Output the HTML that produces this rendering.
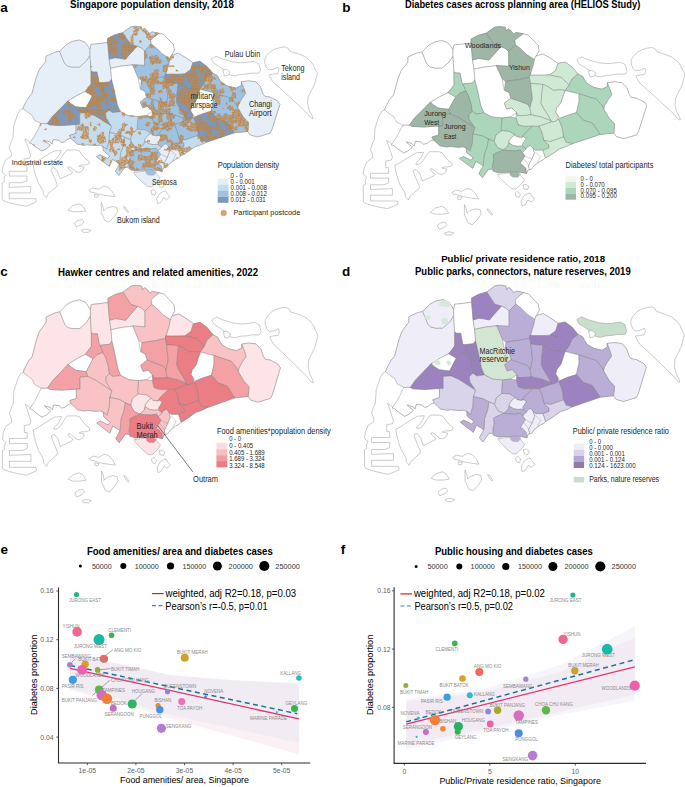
<!DOCTYPE html>
<html><head><meta charset="utf-8"><style>
html,body{margin:0;padding:0;background:#fff;}
svg{display:block;}
text{font-family:"Liberation Sans",sans-serif;}
</style></head><body>
<svg width="685" height="787" viewBox="0 0 685 787">
<rect width="685" height="787" fill="#fff"/>
<g id="mapa" transform="matrix(0.98 0 0 0.989 -353.9 -0.1)"><polygon points="387.6,208.6 379.0,207.1 369.5,204.8 364.3,202.9 363.3,201.0 363.3,185.2 365.7,183.8 365.2,181.9 365.7,179.0 366.7,177.1 363.8,174.8 363.3,173.3 364.3,167.6 366.7,161.9 369.5,160.0 372.9,157.6 372.4,154.3 370.5,149.5 372.4,143.8 374.3,140.0 375.0,128.0 379.0,116.0 381.8,111.3 384.5,110.0 385.8,106.7 390.0,99.0 393.7,94.9 398.0,79.0 401.0,71.0 408.0,62.0 408.0,57.0 417.0,53.0 422.0,52.0 429.0,45.0 435.0,42.0 442.0,40.6 448.0,43.0 451.0,47.0 453.0,50.0 454.0,45.0 464.0,44.0 471.0,43.0 471.0,39.0 478.4,35.3 486.4,33.1 494.4,27.3 498.8,26.6 505.4,27.3 506.1,31.0 508.3,28.8 510.5,30.2 513.4,33.9 516.3,32.4 523.6,33.9 528.0,35.0 533.0,40.0 538.0,45.0 539.0,51.0 536.0,56.0 543.0,54.0 550.0,58.0 556.0,62.0 558.0,63.5 565.0,62.0 572.0,67.0 578.0,74.0 582.8,76.4 584.6,80.0 587.4,83.7 593.8,87.4 602.0,89.2 607.4,86.5 607.4,82.8 614.7,81.9 622.0,82.8 626.6,87.4 629.3,94.7 631.2,97.4 636.6,98.3 644.0,102.0 646.7,105.6 638.5,131.2 636.6,134.8 623.9,138.5 616.6,136.6 613.8,133.0 600.1,134.4 588.3,138.4 572.6,143.6 565.5,146.7 560.0,148.5 554.1,152.7 548.8,156.0 545.3,157.8 543.5,159.5 540.0,161.3 533.9,165.7 531.3,169.2 527.8,170.0 526.5,173.5 521.0,172.2 504.7,172.2 498.9,172.8 493.0,171.0 492.0,169.2 488.5,169.2 482.4,177.5 478.9,173.5 483.3,165.7 475.8,161.3 472.8,168.3 459.6,158.6 463.1,156.5 471.0,160.4 473.2,157.8 466.6,152.5 466.2,148.1 463.1,146.8 458.8,147.3 450.0,146.4 447.0,147.0 439.9,145.8 433.5,140.0 432.9,140.0 429.4,141.2 427.0,143.5 423.5,144.1 421.2,141.8 415.4,141.2 414.2,145.8 411.9,143.5 406.0,141.8 408.4,144.1 412.4,147.0 408.4,150.5 403.7,152.8 400.2,150.5 396.1,147.6 393.2,145.3 389.7,142.3 386.5,140.5 388.6,145.7 390.5,151.4 392.4,157.1 391.4,160.0 385.7,161.0 385.7,167.6 388.6,167.6 388.6,173.3 370.5,173.3 370.5,178.1 388.6,178.1 388.6,182.9 383.8,184.8 370.5,184.8 370.5,189.5 392.4,188.6 392.4,195.2 370.5,195.2 370.5,201.0 397.6,201.0 398.1,204.3 392.4,206.7" fill="#fff" stroke="#999" stroke-width="0.5"/>
<polygon points="402.9,125.0 409.4,125.0 412.0,126.4 423.9,127.0 438.7,126.0 438.7,135.0 432.0,137.0 433.5,140.0 432.9,140.0 429.4,141.2 427.0,143.5 423.5,144.1 421.2,141.8 415.4,141.2 414.2,145.8 411.9,143.5 406.0,141.8 408.4,144.1 412.4,147.0 408.4,150.5 403.7,152.8 400.2,150.5 396.1,147.6 393.2,145.3 391.0,145.0 396.3,137.6" fill="#e6eef8" stroke="#777" stroke-width="0.4"/>
<polygon points="384.5,110.0 385.8,106.7 390.0,99.0 393.7,94.9 398.0,79.0 401.0,71.0 408.0,62.0 408.0,57.0 417.0,53.0 422.0,52.0 424.0,57.0 427.0,64.0 430.0,67.0 435.0,68.0 442.0,68.0 449.0,62.0 453.0,56.0 454.0,72.0 454.0,85.0 450.0,90.3 446.2,93.5 439.6,96.8 431.8,101.4 430.4,102.1 422.6,110.0 414.7,117.8 409.4,125.0 402.9,125.0 396.3,121.8 393.7,116.5 389.7,113.9" fill="#e6eef8" stroke="#777" stroke-width="0.4"/>
<polygon points="422.0,52.0 429.0,45.0 435.0,42.0 442.0,40.6 448.0,43.0 451.0,47.0 453.0,50.0 453.0,56.0 449.0,62.0 442.0,68.0 435.0,68.0 430.0,67.0 427.0,64.0 424.0,57.0" fill="#e6eef8" stroke="#777" stroke-width="0.4"/>
<polygon points="453.0,50.0 454.0,45.0 464.0,44.0 471.0,43.0 472.5,59.4 474.0,68.9 475.0,80.0 473.0,83.0 463.0,84.0 462.0,83.0 460.0,73.0 456.0,73.0 454.0,72.0 453.0,56.0" fill="#e6eef8" stroke="#777" stroke-width="0.4"/>
<polygon points="454.0,72.0 456.0,73.0 460.0,73.0 462.0,83.0 463.0,84.0 466.0,91.0 460.0,93.0 455.5,97.2 452.0,95.0 448.0,92.9 450.0,90.3 454.0,85.0" fill="#7f98b8" stroke="#777" stroke-width="0.4"/>
<polygon points="430.4,102.1 431.8,101.4 439.6,96.8 446.2,93.5 448.0,92.9 452.0,95.0 455.5,97.2 450.4,106.4 448.8,109.3 443.6,108.7 438.3,108.0 433.0,104.7" fill="#ffffff" stroke="#777" stroke-width="0.4"/>
<polygon points="409.4,125.0 414.7,117.8 422.6,110.0 430.4,102.1 433.0,104.7 438.3,108.0 443.6,108.7 448.8,109.3 450.4,114.0 442.5,114.5 442.5,126.0 438.7,126.0 423.9,127.0 412.0,126.4" fill="#7f98b8" stroke="#777" stroke-width="0.4"/>
<polygon points="455.5,97.2 460.0,93.0 466.0,91.0 468.8,96.1 471.4,104.3 472.4,111.5 468.8,114.5 469.3,119.6 475.0,127.8 458.6,117.6 450.4,114.0 448.8,109.3 450.4,106.4" fill="#7f98b8" stroke="#777" stroke-width="0.4"/>
<polygon points="442.5,114.5 450.4,114.0 458.6,117.6 475.0,127.8 472.9,134.0 472.4,143.1 470.1,151.2 466.2,148.1 463.1,146.8 458.8,147.3 450.0,146.4 447.0,147.0 439.9,145.8 433.5,140.0 432.0,137.0 438.7,135.0 438.7,126.0 442.5,126.0" fill="#c4dcef" stroke="#777" stroke-width="0.4"/>
<polygon points="463.0,84.0 473.0,83.0 475.0,80.0 478.0,92.0 481.0,106.0 484.0,113.0 476.0,114.0 472.4,111.5 471.4,104.3 468.8,96.1 466.0,91.0" fill="#7f98b8" stroke="#777" stroke-width="0.4"/>
<polygon points="472.5,60.1 478.4,58.4 483.0,59.0 488.9,60.1 493.5,54.9 501.1,46.7 505.2,48.4 508.7,51.4 508.7,66.3 497.0,65.6 484.2,67.1 474.0,69.2" fill="#e6eef8" stroke="#777" stroke-width="0.4"/>
<polygon points="471.0,43.0 471.0,39.0 478.4,35.3 486.4,33.1 494.4,44.8 501.1,46.7 493.5,54.9 488.9,60.1 483.0,59.0 478.4,58.4 472.5,60.1" fill="#7f98b8" stroke="#777" stroke-width="0.4"/>
<polygon points="486.4,33.1 494.4,27.3 498.8,26.6 505.4,27.3 506.1,31.0 508.3,28.8 510.5,30.2 513.4,33.9 516.3,32.4 523.6,33.9 519.2,36.8 514.9,40.4 515.6,44.8 508.7,51.4 505.2,48.4 501.1,46.7 494.4,44.8" fill="#c4dcef" stroke="#777" stroke-width="0.4"/>
<polygon points="515.6,44.8 520.7,48.5 526.5,54.3 532.4,58.0 534.6,59.4 533.8,63.8 532.4,68.2 530.2,75.5 529.5,77.5 520.0,79.5 512.0,80.5 505.5,81.6 502.0,78.7 496.2,65.8 497.0,65.6 508.7,66.3 508.7,51.4" fill="#9fc2e3" stroke="#777" stroke-width="0.4"/>
<polygon points="505.5,81.6 512.0,80.5 520.0,79.5 529.5,77.5 530.6,83.4 532.4,98.5 530.0,107.9 527.7,104.4 518.4,100.9 510.8,98.5 509.0,92.7 504.3,90.4" fill="#9fc2e3" stroke="#777" stroke-width="0.4"/>
<polygon points="523.6,33.9 528.0,35.0 533.0,40.0 538.0,45.0 539.0,51.0 536.0,56.0 534.6,59.4 532.4,58.0 526.5,54.3 520.7,48.5 515.6,44.8 514.9,40.4 519.2,36.8" fill="#ffffff" stroke="#777" stroke-width="0.4"/>
<polygon points="534.6,59.4 536.0,56.0 543.0,54.0 550.0,58.0 556.0,62.0 558.0,63.5 555.7,70.5 549.9,74.6 541.7,75.2 529.5,75.2 530.2,75.5 532.4,68.2 533.8,63.8" fill="#e6eef8" stroke="#777" stroke-width="0.4"/>
<polygon points="558.0,63.5 565.0,62.0 572.0,67.0 578.0,74.0 572.0,79.0 569.2,85.1 566.2,82.2 561.6,77.5 549.9,75.2 549.9,74.6 555.7,70.5" fill="#7f98b8" stroke="#777" stroke-width="0.4"/>
<polygon points="529.5,75.2 541.7,75.2 549.9,75.2 561.6,77.5 566.2,82.2 569.2,85.1 565.1,90.4 560.4,89.8 553.4,90.4 546.4,85.7 542.9,84.5 530.6,83.4 529.5,77.5" fill="#7f98b8" stroke="#777" stroke-width="0.4"/>
<polygon points="572.0,79.0 578.0,74.0 582.8,76.4 584.6,80.0 587.4,83.7 593.8,87.4 602.0,89.2 607.4,86.5 607.4,82.8 610.0,89.0 612.0,94.7 608.0,100.0 604.7,105.6 603.8,109.3 602.0,105.6 596.5,99.2 587.4,96.5 579.0,93.8 571.0,92.0 565.1,90.4 569.2,85.1" fill="#9fc2e3" stroke="#777" stroke-width="0.4"/>
<polygon points="607.4,82.8 614.7,81.9 622.0,82.8 626.6,87.4 629.3,94.7 631.2,97.4 636.6,98.3 644.0,102.0 646.7,105.6 638.5,131.2 636.6,134.8 623.9,138.5 616.6,136.6 613.8,133.0 614.7,124.0 609.0,118.0 603.8,109.3 604.7,105.6 608.0,100.0 612.0,94.7 610.0,89.0" fill="#e6eef8" stroke="#777" stroke-width="0.4"/>
<polygon points="565.1,90.4 571.0,92.0 579.0,93.8 579.1,101.6 576.5,112.7 567.3,115.4 560.0,118.4 558.1,116.0 555.5,112.1 556.8,107.5 560.7,102.9 563.4,95.0" fill="#ffffff" stroke="#777" stroke-width="0.4"/>
<polygon points="579.0,93.8 587.4,96.5 596.5,99.2 602.0,105.6 603.8,109.3 609.0,118.0 614.7,124.0 613.8,133.0 600.1,134.4 592.3,123.2 583.0,120.0 576.5,112.7 579.1,101.6" fill="#9fc2e3" stroke="#777" stroke-width="0.4"/>
<polygon points="558.1,119.3 560.0,118.4 567.3,115.4 576.5,112.7 583.0,120.0 592.3,123.2 600.1,134.4 588.3,138.4 572.6,143.6 566.0,142.3 563.4,137.0 562.0,127.8 559.4,121.3" fill="#7f98b8" stroke="#777" stroke-width="0.4"/>
<polygon points="474.0,69.2 484.2,67.1 497.0,65.6 496.2,65.8 502.0,78.7 504.3,90.4 509.0,92.7 510.8,98.5 509.0,99.7 504.3,103.2 506.7,109.0 511.8,107.8 516.6,112.7 510.0,117.0 502.0,118.0 492.0,117.0 484.0,113.0 481.0,106.0 478.0,92.0 475.0,80.0" fill="#ffffff" stroke="#777" stroke-width="0.4"/>
<polygon points="504.3,103.2 509.0,99.7 510.8,98.5 518.4,100.9 527.7,104.4 530.0,107.9 531.2,114.9 524.2,115.5 517.2,115.5 516.6,112.7 511.8,107.8 506.7,109.0" fill="#9fc2e3" stroke="#777" stroke-width="0.4"/>
<polygon points="530.6,83.4 542.9,84.5 541.7,95.0 541.1,103.2 544.0,109.0 548.7,116.0 551.0,120.7 541.0,117.0 532.4,114.9 531.2,114.9 530.0,107.9 532.4,98.5" fill="#9fc2e3" stroke="#777" stroke-width="0.4"/>
<polygon points="542.9,84.5 546.4,85.7 553.4,90.4 560.4,89.8 565.1,90.4 563.4,95.0 560.7,102.9 556.8,107.5 555.5,112.1 558.1,116.0 558.1,119.3 555.5,121.3 550.3,122.3 551.0,120.7 548.7,116.0 544.0,109.0 541.1,103.2 541.7,95.0" fill="#7f98b8" stroke="#777" stroke-width="0.4"/>
<polygon points="516.6,112.7 517.2,115.5 524.2,115.5 531.2,114.9 541.0,117.0 551.0,120.7 550.3,122.3 539.0,126.3 523.0,126.3 518.0,124.7 516.0,118.0" fill="#9fc2e3" stroke="#777" stroke-width="0.4"/>
<polygon points="502.0,118.0 510.0,117.0 516.0,118.0 518.0,124.7 523.0,126.3 532.6,126.3 524.6,133.5 521.4,137.6 516.6,136.8 515.2,134.9 509.4,131.4 502.4,130.8 501.3,131.1 501.2,126.7" fill="#9fc2e3" stroke="#777" stroke-width="0.4"/>
<polygon points="469.3,119.6 468.8,114.5 472.4,111.5 476.0,114.0 484.0,113.0 492.0,117.0 502.0,118.0 501.2,126.7 501.3,131.1 496.0,134.9 494.2,141.3 488.4,139.0 482.5,136.0 474.3,134.3 472.9,134.0 475.0,127.8" fill="#c4dcef" stroke="#777" stroke-width="0.4"/>
<polygon points="539.0,126.3 550.3,122.3 555.5,121.3 558.1,119.3 559.4,121.3 562.0,127.8 563.4,137.0 555.5,139.7 550.2,141.6 543.7,140.3 542.0,133.0" fill="#9fc2e3" stroke="#777" stroke-width="0.4"/>
<polygon points="524.6,133.5 532.6,126.3 539.0,126.3 542.0,133.0 543.7,140.3 548.9,144.9 548.8,148.1 542.7,150.3 535.2,150.3 533.0,148.1 530.4,145.5 528.2,146.4 526.0,149.0 522.5,146.4 522.5,144.0 524.5,141.0 526.0,138.5 523.4,136.8 521.4,137.6" fill="#9fc2e3" stroke="#777" stroke-width="0.4"/>
<polygon points="543.7,140.3 550.2,141.6 555.5,139.7 563.4,137.0 566.0,142.3 572.6,143.6 565.5,146.7 560.0,148.5 554.1,152.7 548.8,156.0 545.3,157.8 542.7,150.3 548.8,148.1 548.9,144.9" fill="#c4dcef" stroke="#777" stroke-width="0.4"/>
<polygon points="494.2,141.3 496.0,134.9 501.3,131.1 502.4,130.8 509.4,131.4 515.2,134.9 512.0,137.0 509.0,141.0 508.0,146.0 503.5,150.0 497.7,147.7 494.8,143.0" fill="#c4dcef" stroke="#777" stroke-width="0.4"/>
<polygon points="509.0,141.0 512.0,137.0 515.2,134.9 516.6,136.8 521.4,137.6 523.4,136.8 526.0,138.5 524.5,141.0 522.5,144.0 522.5,146.4 520.3,146.0 518.0,146.4 513.0,145.5 509.0,143.0" fill="#e6eef8" stroke="#777" stroke-width="0.4"/>
<polygon points="503.5,150.0 508.0,146.0 509.0,143.0 513.0,145.5 518.0,146.4 520.3,146.0 522.5,146.4 526.0,149.0 522.5,152.5 520.3,149.9 515.5,150.8 508.2,150.6" fill="#c4dcef" stroke="#777" stroke-width="0.4"/>
<polygon points="493.0,154.7 494.8,153.5 500.0,151.2 503.5,150.0 508.2,150.6 515.5,150.8 520.3,149.9 522.5,152.5 525.1,156.0 523.4,158.6 521.6,161.3 520.3,163.9 522.5,164.8 526.0,168.3 526.5,173.5 521.0,172.2 504.7,172.2 498.9,172.8 493.0,171.0 492.4,165.2 493.6,159.4" fill="#9fc2e3" stroke="#777" stroke-width="0.4"/>
<polygon points="488.4,139.0 494.2,141.3 494.8,143.0 497.7,147.7 503.5,150.0 500.0,151.2 494.8,153.5 493.0,154.7 493.6,159.4 492.4,165.2 492.0,169.2 488.5,169.2 482.4,177.5 478.9,173.5 483.3,165.7 484.0,155.0 487.0,147.0" fill="#c4dcef" stroke="#777" stroke-width="0.4"/>
<polygon points="472.9,134.0 474.3,134.3 482.5,136.0 488.4,139.0 487.0,147.0 484.0,155.0 483.3,165.7 475.8,161.3 472.8,168.3 459.6,158.6 463.1,156.5 471.0,160.4 473.2,157.8 466.6,152.5 466.2,148.1 470.1,151.2 472.4,143.1" fill="#c4dcef" stroke="#777" stroke-width="0.4"/>
<polygon points="522.5,152.5 526.0,149.0 528.2,146.4 530.4,145.5 533.0,148.1 534.5,153.0 532.0,159.0 528.5,165.5 529.5,169.6 527.8,170.0 526.5,173.5 526.0,168.3 522.5,164.8 520.3,163.9 521.6,161.3 523.4,158.6 525.1,156.0" fill="#e6eef8" stroke="#777" stroke-width="0.4"/>
<polygon points="533.0,148.1 535.2,150.3 542.7,150.3 545.3,157.8 543.5,159.5 540.0,161.3 533.9,165.7 531.3,169.2 529.5,169.6 528.5,165.5 532.0,159.0 534.5,153.0" fill="#e6eef8" stroke="#777" stroke-width="0.4"/>
<path d="M481.8 33.8h1.15v1.15h-1.15zM483.8 34.2h1.15v1.15h-1.15zM485.2 33.8h1.15v1.15h-1.15zM480.4 35.6h1.15v1.15h-1.15zM481.9 35.7h1.15v1.15h-1.15zM483.5 35.3h1.15v1.15h-1.15zM484.7 35.6h1.15v1.15h-1.15zM486.1 35.2h1.15v1.15h-1.15zM487.9 35.7h1.15v1.15h-1.15zM473.5 37.2h1.15v1.15h-1.15zM474.4 37.0h1.15v1.15h-1.15zM476.2 37.0h1.15v1.15h-1.15zM483.7 37.2h1.15v1.15h-1.15zM484.8 37.0h1.15v1.15h-1.15zM486.7 37.1h1.15v1.15h-1.15zM487.8 37.1h1.15v1.15h-1.15zM471.9 38.1h1.15v1.15h-1.15zM473.5 38.3h1.15v1.15h-1.15zM474.9 38.6h1.15v1.15h-1.15zM475.9 38.2h1.15v1.15h-1.15zM483.3 38.3h1.15v1.15h-1.15zM485.2 38.6h1.15v1.15h-1.15zM486.3 38.4h1.15v1.15h-1.15zM487.7 38.1h1.15v1.15h-1.15zM470.7 39.5h1.15v1.15h-1.15zM472.0 39.8h1.15v1.15h-1.15zM473.2 40.0h1.15v1.15h-1.15zM474.4 39.5h1.15v1.15h-1.15zM476.2 39.4h1.15v1.15h-1.15zM477.9 39.6h1.15v1.15h-1.15zM478.9 39.5h1.15v1.15h-1.15zM480.7 39.7h1.15v1.15h-1.15zM485.1 39.6h1.15v1.15h-1.15zM486.4 39.6h1.15v1.15h-1.15zM470.5 41.5h1.15v1.15h-1.15zM472.1 41.4h1.15v1.15h-1.15zM473.6 41.2h1.15v1.15h-1.15zM474.9 41.0h1.15v1.15h-1.15zM476.4 41.4h1.15v1.15h-1.15zM477.8 41.0h1.15v1.15h-1.15zM479.4 41.6h1.15v1.15h-1.15zM480.6 41.4h1.15v1.15h-1.15zM489.5 40.9h1.15v1.15h-1.15zM490.9 41.0h1.15v1.15h-1.15zM470.6 42.8h1.15v1.15h-1.15zM471.9 42.9h1.15v1.15h-1.15zM473.4 42.5h1.15v1.15h-1.15zM474.7 42.9h1.15v1.15h-1.15zM476.5 42.5h1.15v1.15h-1.15zM477.9 43.0h1.15v1.15h-1.15zM479.1 42.7h1.15v1.15h-1.15zM480.4 42.7h1.15v1.15h-1.15zM489.3 42.6h1.15v1.15h-1.15zM491.0 43.0h1.15v1.15h-1.15zM492.0 42.7h1.15v1.15h-1.15zM471.7 44.3h1.15v1.15h-1.15zM473.2 44.0h1.15v1.15h-1.15zM474.9 43.8h1.15v1.15h-1.15zM476.4 43.9h1.15v1.15h-1.15zM477.7 44.0h1.15v1.15h-1.15zM478.9 44.1h1.15v1.15h-1.15zM486.4 44.4h1.15v1.15h-1.15zM487.9 44.4h1.15v1.15h-1.15zM489.1 44.3h1.15v1.15h-1.15zM490.9 44.4h1.15v1.15h-1.15zM492.0 44.0h1.15v1.15h-1.15zM472.0 45.2h1.15v1.15h-1.15zM473.1 45.7h1.15v1.15h-1.15zM475.1 45.9h1.15v1.15h-1.15zM476.2 45.8h1.15v1.15h-1.15zM486.6 45.9h1.15v1.15h-1.15zM487.5 45.9h1.15v1.15h-1.15zM489.5 45.5h1.15v1.15h-1.15zM490.7 45.6h1.15v1.15h-1.15zM492.1 45.6h1.15v1.15h-1.15zM493.8 45.8h1.15v1.15h-1.15zM494.9 45.5h1.15v1.15h-1.15zM496.7 45.5h1.15v1.15h-1.15zM472.1 47.1h1.15v1.15h-1.15zM473.3 47.1h1.15v1.15h-1.15zM474.8 47.4h1.15v1.15h-1.15zM476.4 46.9h1.15v1.15h-1.15zM478.0 47.2h1.15v1.15h-1.15zM479.3 47.2h1.15v1.15h-1.15zM484.9 47.2h1.15v1.15h-1.15zM486.1 46.9h1.15v1.15h-1.15zM487.8 46.7h1.15v1.15h-1.15zM489.2 47.1h1.15v1.15h-1.15zM490.8 46.8h1.15v1.15h-1.15zM492.5 47.1h1.15v1.15h-1.15zM493.5 47.1h1.15v1.15h-1.15zM495.1 47.0h1.15v1.15h-1.15zM496.9 47.1h1.15v1.15h-1.15zM498.1 47.2h1.15v1.15h-1.15zM499.8 46.7h1.15v1.15h-1.15zM471.8 48.2h1.15v1.15h-1.15zM473.1 48.4h1.15v1.15h-1.15zM474.5 48.3h1.15v1.15h-1.15zM476.5 48.5h1.15v1.15h-1.15zM477.7 48.8h1.15v1.15h-1.15zM479.2 48.8h1.15v1.15h-1.15zM485.2 48.2h1.15v1.15h-1.15zM486.4 48.2h1.15v1.15h-1.15zM487.8 48.6h1.15v1.15h-1.15zM489.0 48.8h1.15v1.15h-1.15zM490.7 48.5h1.15v1.15h-1.15zM492.2 48.4h1.15v1.15h-1.15zM493.5 48.6h1.15v1.15h-1.15zM495.1 48.3h1.15v1.15h-1.15zM496.7 48.3h1.15v1.15h-1.15zM497.6 48.3h1.15v1.15h-1.15zM471.6 50.3h1.15v1.15h-1.15zM473.6 49.6h1.15v1.15h-1.15zM475.1 49.9h1.15v1.15h-1.15zM476.6 49.7h1.15v1.15h-1.15zM477.7 50.2h1.15v1.15h-1.15zM479.3 49.9h1.15v1.15h-1.15zM484.6 49.9h1.15v1.15h-1.15zM486.3 50.0h1.15v1.15h-1.15zM487.8 49.8h1.15v1.15h-1.15zM489.3 49.9h1.15v1.15h-1.15zM490.7 50.3h1.15v1.15h-1.15zM492.5 50.1h1.15v1.15h-1.15zM493.4 50.2h1.15v1.15h-1.15zM495.3 50.0h1.15v1.15h-1.15zM496.4 50.1h1.15v1.15h-1.15zM472.2 51.6h1.15v1.15h-1.15zM473.0 51.1h1.15v1.15h-1.15zM474.6 51.3h1.15v1.15h-1.15zM476.3 51.1h1.15v1.15h-1.15zM477.7 51.1h1.15v1.15h-1.15zM478.8 51.5h1.15v1.15h-1.15zM485.1 51.6h1.15v1.15h-1.15zM486.1 51.1h1.15v1.15h-1.15zM488.0 51.5h1.15v1.15h-1.15zM489.5 51.2h1.15v1.15h-1.15zM490.7 51.2h1.15v1.15h-1.15zM492.4 51.3h1.15v1.15h-1.15zM493.7 51.7h1.15v1.15h-1.15zM495.0 51.4h1.15v1.15h-1.15zM475.0 52.5h1.15v1.15h-1.15zM476.0 52.9h1.15v1.15h-1.15zM477.4 52.7h1.15v1.15h-1.15zM479.3 53.0h1.15v1.15h-1.15zM485.1 52.9h1.15v1.15h-1.15zM486.7 53.1h1.15v1.15h-1.15zM488.1 52.8h1.15v1.15h-1.15zM489.5 52.7h1.15v1.15h-1.15zM492.5 53.1h1.15v1.15h-1.15zM493.4 52.7h1.15v1.15h-1.15zM476.3 54.5h1.15v1.15h-1.15zM477.4 54.3h1.15v1.15h-1.15zM479.3 54.0h1.15v1.15h-1.15zM484.7 54.1h1.15v1.15h-1.15zM486.6 54.3h1.15v1.15h-1.15zM488.0 54.2h1.15v1.15h-1.15zM492.3 54.4h1.15v1.15h-1.15zM478.0 55.4h1.15v1.15h-1.15zM485.2 55.4h1.15v1.15h-1.15zM486.1 55.5h1.15v1.15h-1.15zM487.6 55.5h1.15v1.15h-1.15zM489.4 55.8h1.15v1.15h-1.15zM486.2 57.4h1.15v1.15h-1.15zM487.8 57.3h1.15v1.15h-1.15zM489.6 57.0h1.15v1.15h-1.15zM488.0 58.4h1.15v1.15h-1.15zM489.2 58.3h1.15v1.15h-1.15zM497.5 27.7h1.15v1.15h-1.15zM498.7 27.5h1.15v1.15h-1.15zM500.0 27.1h1.15v1.15h-1.15zM501.6 27.8h1.15v1.15h-1.15zM503.5 27.6h1.15v1.15h-1.15zM504.5 27.6h1.15v1.15h-1.15zM499.2 29.1h1.15v1.15h-1.15zM500.4 29.1h1.15v1.15h-1.15zM501.6 29.0h1.15v1.15h-1.15zM504.6 28.9h1.15v1.15h-1.15zM507.6 28.7h1.15v1.15h-1.15zM497.7 30.7h1.15v1.15h-1.15zM498.7 30.6h1.15v1.15h-1.15zM500.2 30.4h1.15v1.15h-1.15zM501.5 30.6h1.15v1.15h-1.15zM506.4 30.1h1.15v1.15h-1.15zM507.3 30.5h1.15v1.15h-1.15zM508.9 30.7h1.15v1.15h-1.15zM497.1 31.7h1.15v1.15h-1.15zM499.1 31.6h1.15v1.15h-1.15zM500.2 31.9h1.15v1.15h-1.15zM507.6 31.6h1.15v1.15h-1.15zM509.1 31.9h1.15v1.15h-1.15zM510.4 31.9h1.15v1.15h-1.15zM497.3 33.5h1.15v1.15h-1.15zM498.6 33.6h1.15v1.15h-1.15zM500.4 33.3h1.15v1.15h-1.15zM509.2 33.0h1.15v1.15h-1.15zM510.2 33.4h1.15v1.15h-1.15zM512.2 33.5h1.15v1.15h-1.15zM519.1 33.4h1.15v1.15h-1.15zM520.3 33.1h1.15v1.15h-1.15zM521.8 33.2h1.15v1.15h-1.15zM495.9 35.1h1.15v1.15h-1.15zM497.5 34.4h1.15v1.15h-1.15zM498.8 34.8h1.15v1.15h-1.15zM500.0 34.6h1.15v1.15h-1.15zM510.5 34.5h1.15v1.15h-1.15zM511.7 34.5h1.15v1.15h-1.15zM513.4 34.6h1.15v1.15h-1.15zM518.9 34.9h1.15v1.15h-1.15zM520.5 34.6h1.15v1.15h-1.15zM495.9 35.9h1.15v1.15h-1.15zM510.6 35.9h1.15v1.15h-1.15zM511.7 36.0h1.15v1.15h-1.15zM513.5 36.1h1.15v1.15h-1.15zM514.7 36.4h1.15v1.15h-1.15zM516.1 36.0h1.15v1.15h-1.15zM517.6 36.0h1.15v1.15h-1.15zM518.9 35.8h1.15v1.15h-1.15zM494.4 37.3h1.15v1.15h-1.15zM495.9 37.5h1.15v1.15h-1.15zM510.4 37.3h1.15v1.15h-1.15zM511.9 37.7h1.15v1.15h-1.15zM513.3 37.5h1.15v1.15h-1.15zM514.5 37.5h1.15v1.15h-1.15zM516.5 37.7h1.15v1.15h-1.15zM494.4 39.0h1.15v1.15h-1.15zM496.3 38.8h1.15v1.15h-1.15zM512.1 39.2h1.15v1.15h-1.15zM513.7 39.3h1.15v1.15h-1.15zM514.6 39.2h1.15v1.15h-1.15zM494.8 40.2h1.15v1.15h-1.15zM495.8 40.5h1.15v1.15h-1.15zM503.5 40.8h1.15v1.15h-1.15zM493.3 42.2h1.15v1.15h-1.15zM494.4 41.9h1.15v1.15h-1.15zM496.1 42.2h1.15v1.15h-1.15zM503.5 41.8h1.15v1.15h-1.15zM504.4 41.9h1.15v1.15h-1.15zM494.7 43.3h1.15v1.15h-1.15zM496.0 43.1h1.15v1.15h-1.15zM496.2 44.7h1.15v1.15h-1.15zM513.6 45.1h1.15v1.15h-1.15zM514.7 44.5h1.15v1.15h-1.15zM514.7 45.9h1.15v1.15h-1.15zM516.0 45.4h1.15v1.15h-1.15zM514.2 47.3h1.15v1.15h-1.15zM515.7 47.2h1.15v1.15h-1.15zM517.2 47.0h1.15v1.15h-1.15zM508.8 51.6h1.15v1.15h-1.15zM508.7 52.6h1.15v1.15h-1.15zM508.4 54.4h1.15v1.15h-1.15zM510.2 54.6h1.15v1.15h-1.15zM508.9 56.1h1.15v1.15h-1.15zM509.9 55.8h1.15v1.15h-1.15zM515.7 56.1h1.15v1.15h-1.15zM519.0 55.7h1.15v1.15h-1.15zM520.3 55.8h1.15v1.15h-1.15zM508.9 57.6h1.15v1.15h-1.15zM510.4 57.4h1.15v1.15h-1.15zM513.2 57.5h1.15v1.15h-1.15zM514.2 57.5h1.15v1.15h-1.15zM515.8 57.1h1.15v1.15h-1.15zM517.7 56.9h1.15v1.15h-1.15zM518.8 57.2h1.15v1.15h-1.15zM520.5 57.4h1.15v1.15h-1.15zM522.0 57.6h1.15v1.15h-1.15zM530.8 57.4h1.15v1.15h-1.15zM531.6 57.4h1.15v1.15h-1.15zM508.5 58.8h1.15v1.15h-1.15zM513.3 58.8h1.15v1.15h-1.15zM514.8 58.9h1.15v1.15h-1.15zM515.8 58.6h1.15v1.15h-1.15zM517.4 58.7h1.15v1.15h-1.15zM519.1 58.7h1.15v1.15h-1.15zM520.3 58.9h1.15v1.15h-1.15zM521.5 58.8h1.15v1.15h-1.15zM530.7 58.5h1.15v1.15h-1.15zM531.8 58.9h1.15v1.15h-1.15zM533.5 58.8h1.15v1.15h-1.15zM514.3 60.3h1.15v1.15h-1.15zM515.9 59.9h1.15v1.15h-1.15zM517.3 60.2h1.15v1.15h-1.15zM519.0 60.1h1.15v1.15h-1.15zM520.4 60.3h1.15v1.15h-1.15zM521.8 59.9h1.15v1.15h-1.15zM523.3 59.9h1.15v1.15h-1.15zM524.3 60.2h1.15v1.15h-1.15zM531.9 60.0h1.15v1.15h-1.15zM533.7 59.9h1.15v1.15h-1.15zM514.7 61.6h1.15v1.15h-1.15zM516.0 61.8h1.15v1.15h-1.15zM517.2 61.8h1.15v1.15h-1.15zM519.1 61.7h1.15v1.15h-1.15zM520.4 61.6h1.15v1.15h-1.15zM521.8 61.4h1.15v1.15h-1.15zM523.4 61.7h1.15v1.15h-1.15zM525.0 61.5h1.15v1.15h-1.15zM532.2 61.4h1.15v1.15h-1.15zM514.4 63.1h1.15v1.15h-1.15zM516.3 63.1h1.15v1.15h-1.15zM517.3 63.3h1.15v1.15h-1.15zM518.5 62.9h1.15v1.15h-1.15zM520.4 63.2h1.15v1.15h-1.15zM521.6 62.9h1.15v1.15h-1.15zM523.1 63.1h1.15v1.15h-1.15zM524.3 63.0h1.15v1.15h-1.15zM516.1 64.3h1.15v1.15h-1.15zM531.5 64.7h1.15v1.15h-1.15zM498.4 66.0h1.15v1.15h-1.15zM499.9 65.9h1.15v1.15h-1.15zM527.7 66.1h1.15v1.15h-1.15zM529.1 65.9h1.15v1.15h-1.15zM530.4 66.0h1.15v1.15h-1.15zM532.1 66.3h1.15v1.15h-1.15zM498.8 67.4h1.15v1.15h-1.15zM527.3 67.4h1.15v1.15h-1.15zM529.3 67.3h1.15v1.15h-1.15zM530.7 67.2h1.15v1.15h-1.15zM527.8 68.5h1.15v1.15h-1.15zM528.8 68.9h1.15v1.15h-1.15zM530.7 69.0h1.15v1.15h-1.15zM518.5 70.6h1.15v1.15h-1.15zM520.3 70.2h1.15v1.15h-1.15zM521.8 70.6h1.15v1.15h-1.15zM527.2 70.2h1.15v1.15h-1.15zM528.8 70.5h1.15v1.15h-1.15zM530.6 70.5h1.15v1.15h-1.15zM518.5 71.7h1.15v1.15h-1.15zM520.1 72.1h1.15v1.15h-1.15zM521.8 71.5h1.15v1.15h-1.15zM527.5 71.6h1.15v1.15h-1.15zM529.1 71.7h1.15v1.15h-1.15zM530.2 72.0h1.15v1.15h-1.15zM516.0 73.4h1.15v1.15h-1.15zM517.6 73.3h1.15v1.15h-1.15zM518.9 73.5h1.15v1.15h-1.15zM520.4 73.6h1.15v1.15h-1.15zM521.6 73.4h1.15v1.15h-1.15zM514.2 74.4h1.15v1.15h-1.15zM516.2 74.8h1.15v1.15h-1.15zM517.1 74.8h1.15v1.15h-1.15zM518.6 74.6h1.15v1.15h-1.15zM520.3 74.4h1.15v1.15h-1.15zM522.0 74.6h1.15v1.15h-1.15zM514.4 75.9h1.15v1.15h-1.15zM516.3 76.2h1.15v1.15h-1.15zM517.5 76.2h1.15v1.15h-1.15zM518.9 76.3h1.15v1.15h-1.15zM520.4 76.4h1.15v1.15h-1.15zM521.7 76.2h1.15v1.15h-1.15zM504.2 77.5h1.15v1.15h-1.15zM505.6 77.7h1.15v1.15h-1.15zM506.9 77.7h1.15v1.15h-1.15zM508.9 77.5h1.15v1.15h-1.15zM509.9 77.3h1.15v1.15h-1.15zM514.4 77.6h1.15v1.15h-1.15zM515.8 77.2h1.15v1.15h-1.15zM517.3 77.5h1.15v1.15h-1.15zM519.2 77.5h1.15v1.15h-1.15zM520.6 77.8h1.15v1.15h-1.15zM521.8 77.3h1.15v1.15h-1.15zM504.2 79.0h1.15v1.15h-1.15zM505.8 79.1h1.15v1.15h-1.15zM507.1 79.2h1.15v1.15h-1.15zM508.6 79.3h1.15v1.15h-1.15zM510.2 78.7h1.15v1.15h-1.15zM514.5 79.1h1.15v1.15h-1.15zM515.9 79.0h1.15v1.15h-1.15zM517.2 79.0h1.15v1.15h-1.15zM520.0 78.8h1.15v1.15h-1.15zM505.5 80.2h1.15v1.15h-1.15zM507.1 80.4h1.15v1.15h-1.15zM508.3 80.2h1.15v1.15h-1.15zM528.1 78.4h1.15v1.15h-1.15zM512.7 79.8h1.15v1.15h-1.15zM513.5 79.8h1.15v1.15h-1.15zM515.2 79.5h1.15v1.15h-1.15zM517.0 80.1h1.15v1.15h-1.15zM518.0 79.8h1.15v1.15h-1.15zM519.5 79.9h1.15v1.15h-1.15zM520.9 79.7h1.15v1.15h-1.15zM528.2 79.6h1.15v1.15h-1.15zM506.4 81.4h1.15v1.15h-1.15zM508.3 81.0h1.15v1.15h-1.15zM509.3 81.1h1.15v1.15h-1.15zM511.2 81.6h1.15v1.15h-1.15zM512.3 81.0h1.15v1.15h-1.15zM514.2 81.6h1.15v1.15h-1.15zM515.5 81.3h1.15v1.15h-1.15zM516.9 81.5h1.15v1.15h-1.15zM518.2 81.1h1.15v1.15h-1.15zM519.7 81.4h1.15v1.15h-1.15zM521.0 81.4h1.15v1.15h-1.15zM522.3 81.6h1.15v1.15h-1.15zM527.2 81.5h1.15v1.15h-1.15zM528.6 81.5h1.15v1.15h-1.15zM504.9 82.9h1.15v1.15h-1.15zM509.6 82.8h1.15v1.15h-1.15zM511.1 82.6h1.15v1.15h-1.15zM512.5 82.4h1.15v1.15h-1.15zM514.2 82.9h1.15v1.15h-1.15zM515.5 82.7h1.15v1.15h-1.15zM516.6 82.7h1.15v1.15h-1.15zM518.4 82.8h1.15v1.15h-1.15zM519.4 82.4h1.15v1.15h-1.15zM521.1 82.5h1.15v1.15h-1.15zM522.4 82.5h1.15v1.15h-1.15zM524.0 82.9h1.15v1.15h-1.15zM525.8 82.8h1.15v1.15h-1.15zM526.6 83.0h1.15v1.15h-1.15zM528.5 82.9h1.15v1.15h-1.15zM529.9 82.6h1.15v1.15h-1.15zM505.3 84.2h1.15v1.15h-1.15zM511.1 84.4h1.15v1.15h-1.15zM512.5 84.1h1.15v1.15h-1.15zM514.1 84.3h1.15v1.15h-1.15zM515.7 84.2h1.15v1.15h-1.15zM517.0 84.4h1.15v1.15h-1.15zM518.2 84.5h1.15v1.15h-1.15zM519.6 83.8h1.15v1.15h-1.15zM521.0 84.1h1.15v1.15h-1.15zM522.5 84.0h1.15v1.15h-1.15zM524.2 83.9h1.15v1.15h-1.15zM525.3 84.1h1.15v1.15h-1.15zM527.0 84.1h1.15v1.15h-1.15zM528.6 84.1h1.15v1.15h-1.15zM530.2 84.0h1.15v1.15h-1.15zM511.2 85.8h1.15v1.15h-1.15zM512.6 85.7h1.15v1.15h-1.15zM514.1 85.8h1.15v1.15h-1.15zM515.0 85.4h1.15v1.15h-1.15zM516.9 85.9h1.15v1.15h-1.15zM526.6 85.7h1.15v1.15h-1.15zM528.2 85.4h1.15v1.15h-1.15zM529.7 85.7h1.15v1.15h-1.15zM512.6 87.1h1.15v1.15h-1.15zM513.5 87.3h1.15v1.15h-1.15zM515.0 87.3h1.15v1.15h-1.15zM517.0 87.1h1.15v1.15h-1.15zM527.0 87.0h1.15v1.15h-1.15zM528.4 86.9h1.15v1.15h-1.15zM529.7 87.3h1.15v1.15h-1.15zM513.9 88.5h1.15v1.15h-1.15zM515.2 88.8h1.15v1.15h-1.15zM516.6 88.8h1.15v1.15h-1.15zM517.9 88.2h1.15v1.15h-1.15zM527.2 88.6h1.15v1.15h-1.15zM528.1 88.4h1.15v1.15h-1.15zM530.1 88.2h1.15v1.15h-1.15zM513.7 89.9h1.15v1.15h-1.15zM515.5 89.6h1.15v1.15h-1.15zM516.8 90.0h1.15v1.15h-1.15zM518.4 90.3h1.15v1.15h-1.15zM514.1 91.7h1.15v1.15h-1.15zM515.1 91.3h1.15v1.15h-1.15zM516.5 91.4h1.15v1.15h-1.15zM517.9 91.7h1.15v1.15h-1.15zM522.8 91.7h1.15v1.15h-1.15zM524.2 91.2h1.15v1.15h-1.15zM525.4 91.1h1.15v1.15h-1.15zM513.8 92.6h1.15v1.15h-1.15zM515.5 92.9h1.15v1.15h-1.15zM516.7 92.6h1.15v1.15h-1.15zM517.9 92.6h1.15v1.15h-1.15zM522.8 92.9h1.15v1.15h-1.15zM523.8 92.7h1.15v1.15h-1.15zM525.7 92.9h1.15v1.15h-1.15zM510.6 94.4h1.15v1.15h-1.15zM512.2 94.4h1.15v1.15h-1.15zM514.2 94.5h1.15v1.15h-1.15zM515.2 94.4h1.15v1.15h-1.15zM516.6 94.5h1.15v1.15h-1.15zM518.1 94.6h1.15v1.15h-1.15zM509.6 95.6h1.15v1.15h-1.15zM511.1 96.0h1.15v1.15h-1.15zM512.2 95.4h1.15v1.15h-1.15zM513.8 95.7h1.15v1.15h-1.15zM511.1 97.3h1.15v1.15h-1.15zM512.8 97.3h1.15v1.15h-1.15zM514.1 97.1h1.15v1.15h-1.15zM524.0 98.7h1.15v1.15h-1.15zM524.4 99.8h1.15v1.15h-1.15zM525.2 100.3h1.15v1.15h-1.15zM523.9 101.9h1.15v1.15h-1.15zM525.4 101.6h1.15v1.15h-1.15zM525.6 102.9h1.15v1.15h-1.15zM526.9 102.9h1.15v1.15h-1.15zM528.3 103.2h1.15v1.15h-1.15zM529.5 103.0h1.15v1.15h-1.15zM528.1 104.3h1.15v1.15h-1.15zM529.8 104.5h1.15v1.15h-1.15zM528.5 105.8h1.15v1.15h-1.15zM454.8 73.1h1.15v1.15h-1.15zM454.8 74.1h1.15v1.15h-1.15zM454.7 76.0h1.15v1.15h-1.15zM454.5 77.0h1.15v1.15h-1.15zM455.8 77.2h1.15v1.15h-1.15zM460.2 77.0h1.15v1.15h-1.15zM455.0 79.0h1.15v1.15h-1.15zM456.2 78.8h1.15v1.15h-1.15zM457.6 78.7h1.15v1.15h-1.15zM458.8 78.8h1.15v1.15h-1.15zM460.4 78.8h1.15v1.15h-1.15zM454.6 80.2h1.15v1.15h-1.15zM456.1 80.2h1.15v1.15h-1.15zM457.5 80.2h1.15v1.15h-1.15zM459.0 80.1h1.15v1.15h-1.15zM460.5 79.8h1.15v1.15h-1.15zM454.9 81.6h1.15v1.15h-1.15zM456.3 81.3h1.15v1.15h-1.15zM457.7 81.9h1.15v1.15h-1.15zM459.1 81.6h1.15v1.15h-1.15zM460.5 81.5h1.15v1.15h-1.15zM456.2 83.1h1.15v1.15h-1.15zM457.4 83.3h1.15v1.15h-1.15zM459.0 83.0h1.15v1.15h-1.15zM460.8 83.1h1.15v1.15h-1.15zM461.9 83.2h1.15v1.15h-1.15zM454.6 84.7h1.15v1.15h-1.15zM455.9 84.2h1.15v1.15h-1.15zM457.8 84.7h1.15v1.15h-1.15zM458.8 84.7h1.15v1.15h-1.15zM460.1 84.2h1.15v1.15h-1.15zM461.8 84.8h1.15v1.15h-1.15zM453.5 86.1h1.15v1.15h-1.15zM454.7 86.3h1.15v1.15h-1.15zM456.1 85.9h1.15v1.15h-1.15zM457.7 86.1h1.15v1.15h-1.15zM459.1 86.2h1.15v1.15h-1.15zM460.3 86.2h1.15v1.15h-1.15zM462.2 85.8h1.15v1.15h-1.15zM463.0 86.0h1.15v1.15h-1.15zM451.6 87.2h1.15v1.15h-1.15zM453.1 87.5h1.15v1.15h-1.15zM454.7 87.2h1.15v1.15h-1.15zM455.8 87.6h1.15v1.15h-1.15zM457.8 87.6h1.15v1.15h-1.15zM459.2 87.1h1.15v1.15h-1.15zM463.2 87.0h1.15v1.15h-1.15zM450.3 88.7h1.15v1.15h-1.15zM451.5 88.8h1.15v1.15h-1.15zM453.1 88.9h1.15v1.15h-1.15zM454.5 88.9h1.15v1.15h-1.15zM456.0 89.0h1.15v1.15h-1.15zM457.4 88.9h1.15v1.15h-1.15zM463.5 88.6h1.15v1.15h-1.15zM464.6 88.5h1.15v1.15h-1.15zM449.2 90.5h1.15v1.15h-1.15zM450.3 90.2h1.15v1.15h-1.15zM451.6 90.0h1.15v1.15h-1.15zM453.0 90.5h1.15v1.15h-1.15zM454.5 89.9h1.15v1.15h-1.15zM456.5 90.2h1.15v1.15h-1.15zM463.3 90.4h1.15v1.15h-1.15zM464.5 90.0h1.15v1.15h-1.15zM448.9 91.4h1.15v1.15h-1.15zM450.5 91.7h1.15v1.15h-1.15zM452.0 91.8h1.15v1.15h-1.15zM453.3 91.5h1.15v1.15h-1.15zM454.4 91.4h1.15v1.15h-1.15zM456.1 91.6h1.15v1.15h-1.15zM450.2 93.5h1.15v1.15h-1.15zM451.6 93.1h1.15v1.15h-1.15zM452.9 93.2h1.15v1.15h-1.15zM454.4 92.9h1.15v1.15h-1.15zM456.1 93.2h1.15v1.15h-1.15zM457.4 93.2h1.15v1.15h-1.15zM453.0 94.4h1.15v1.15h-1.15zM454.7 94.4h1.15v1.15h-1.15zM455.8 94.8h1.15v1.15h-1.15zM454.5 95.7h1.15v1.15h-1.15zM464.3 92.0h1.15v1.15h-1.15zM465.9 92.0h1.15v1.15h-1.15zM464.3 93.0h1.15v1.15h-1.15zM465.3 93.2h1.15v1.15h-1.15zM458.4 94.5h1.15v1.15h-1.15zM460.0 94.9h1.15v1.15h-1.15zM463.9 94.6h1.15v1.15h-1.15zM465.6 94.8h1.15v1.15h-1.15zM467.2 95.1h1.15v1.15h-1.15zM457.0 95.9h1.15v1.15h-1.15zM458.2 96.1h1.15v1.15h-1.15zM459.6 96.5h1.15v1.15h-1.15zM462.5 96.0h1.15v1.15h-1.15zM464.0 96.2h1.15v1.15h-1.15zM465.9 96.5h1.15v1.15h-1.15zM466.7 95.9h1.15v1.15h-1.15zM468.4 96.2h1.15v1.15h-1.15zM454.4 97.8h1.15v1.15h-1.15zM455.3 97.4h1.15v1.15h-1.15zM457.0 97.7h1.15v1.15h-1.15zM458.6 98.0h1.15v1.15h-1.15zM460.0 97.5h1.15v1.15h-1.15zM461.6 97.8h1.15v1.15h-1.15zM462.4 97.5h1.15v1.15h-1.15zM464.5 97.9h1.15v1.15h-1.15zM465.8 97.8h1.15v1.15h-1.15zM466.7 98.0h1.15v1.15h-1.15zM468.4 97.9h1.15v1.15h-1.15zM453.9 99.3h1.15v1.15h-1.15zM455.3 98.8h1.15v1.15h-1.15zM456.9 99.2h1.15v1.15h-1.15zM458.1 99.0h1.15v1.15h-1.15zM459.9 99.3h1.15v1.15h-1.15zM461.2 99.5h1.15v1.15h-1.15zM462.6 99.3h1.15v1.15h-1.15zM463.9 99.4h1.15v1.15h-1.15zM465.7 98.9h1.15v1.15h-1.15zM467.3 99.4h1.15v1.15h-1.15zM454.0 100.8h1.15v1.15h-1.15zM455.6 100.7h1.15v1.15h-1.15zM456.9 100.9h1.15v1.15h-1.15zM458.5 100.8h1.15v1.15h-1.15zM459.8 100.4h1.15v1.15h-1.15zM461.3 100.8h1.15v1.15h-1.15zM463.1 100.9h1.15v1.15h-1.15zM464.5 100.7h1.15v1.15h-1.15zM465.8 100.3h1.15v1.15h-1.15zM467.1 100.3h1.15v1.15h-1.15zM452.4 102.2h1.15v1.15h-1.15zM453.9 101.9h1.15v1.15h-1.15zM455.4 101.9h1.15v1.15h-1.15zM457.1 101.7h1.15v1.15h-1.15zM458.4 102.2h1.15v1.15h-1.15zM459.7 102.2h1.15v1.15h-1.15zM461.2 102.1h1.15v1.15h-1.15zM462.4 101.9h1.15v1.15h-1.15zM464.2 102.1h1.15v1.15h-1.15zM465.6 101.7h1.15v1.15h-1.15zM451.5 103.8h1.15v1.15h-1.15zM452.7 103.6h1.15v1.15h-1.15zM453.9 103.2h1.15v1.15h-1.15zM455.4 103.3h1.15v1.15h-1.15zM457.0 103.6h1.15v1.15h-1.15zM458.5 103.8h1.15v1.15h-1.15zM459.5 103.3h1.15v1.15h-1.15zM461.0 103.4h1.15v1.15h-1.15zM463.0 103.5h1.15v1.15h-1.15zM468.6 103.6h1.15v1.15h-1.15zM469.6 103.4h1.15v1.15h-1.15zM450.8 104.7h1.15v1.15h-1.15zM452.6 105.3h1.15v1.15h-1.15zM454.2 105.0h1.15v1.15h-1.15zM455.3 104.9h1.15v1.15h-1.15zM456.6 104.9h1.15v1.15h-1.15zM458.0 104.7h1.15v1.15h-1.15zM459.7 104.9h1.15v1.15h-1.15zM461.1 104.6h1.15v1.15h-1.15zM462.5 105.2h1.15v1.15h-1.15zM468.9 105.2h1.15v1.15h-1.15zM470.2 104.8h1.15v1.15h-1.15zM449.7 106.0h1.15v1.15h-1.15zM451.1 106.6h1.15v1.15h-1.15zM452.7 106.4h1.15v1.15h-1.15zM454.3 106.6h1.15v1.15h-1.15zM455.3 106.5h1.15v1.15h-1.15zM457.2 106.0h1.15v1.15h-1.15zM458.7 106.3h1.15v1.15h-1.15zM460.1 106.0h1.15v1.15h-1.15zM461.1 106.2h1.15v1.15h-1.15zM462.5 106.5h1.15v1.15h-1.15zM470.3 106.6h1.15v1.15h-1.15zM449.3 108.0h1.15v1.15h-1.15zM451.3 107.6h1.15v1.15h-1.15zM460.1 107.6h1.15v1.15h-1.15zM461.4 107.9h1.15v1.15h-1.15zM463.0 107.8h1.15v1.15h-1.15zM448.4 108.9h1.15v1.15h-1.15zM449.9 108.9h1.15v1.15h-1.15zM451.0 109.2h1.15v1.15h-1.15zM460.0 109.2h1.15v1.15h-1.15zM461.3 109.5h1.15v1.15h-1.15zM462.9 109.1h1.15v1.15h-1.15zM449.5 111.0h1.15v1.15h-1.15zM451.1 110.7h1.15v1.15h-1.15zM452.9 110.9h1.15v1.15h-1.15zM454.3 110.7h1.15v1.15h-1.15zM455.2 110.6h1.15v1.15h-1.15zM456.6 110.7h1.15v1.15h-1.15zM458.3 110.7h1.15v1.15h-1.15zM460.2 110.7h1.15v1.15h-1.15zM461.0 110.5h1.15v1.15h-1.15zM462.9 110.7h1.15v1.15h-1.15zM464.1 110.7h1.15v1.15h-1.15zM465.6 110.8h1.15v1.15h-1.15zM468.5 110.6h1.15v1.15h-1.15zM470.0 110.7h1.15v1.15h-1.15zM471.6 111.1h1.15v1.15h-1.15zM449.6 112.2h1.15v1.15h-1.15zM451.0 112.4h1.15v1.15h-1.15zM452.6 112.5h1.15v1.15h-1.15zM453.7 112.2h1.15v1.15h-1.15zM455.4 112.2h1.15v1.15h-1.15zM457.0 112.2h1.15v1.15h-1.15zM458.7 112.1h1.15v1.15h-1.15zM459.7 112.3h1.15v1.15h-1.15zM461.3 112.0h1.15v1.15h-1.15zM463.0 112.0h1.15v1.15h-1.15zM463.9 112.2h1.15v1.15h-1.15zM465.9 112.4h1.15v1.15h-1.15zM467.3 112.3h1.15v1.15h-1.15zM468.5 112.0h1.15v1.15h-1.15zM469.7 112.1h1.15v1.15h-1.15zM451.3 113.6h1.15v1.15h-1.15zM452.7 113.6h1.15v1.15h-1.15zM454.1 113.9h1.15v1.15h-1.15zM455.5 113.5h1.15v1.15h-1.15zM457.1 113.7h1.15v1.15h-1.15zM458.1 113.6h1.15v1.15h-1.15zM459.9 113.4h1.15v1.15h-1.15zM461.1 113.5h1.15v1.15h-1.15zM462.6 113.7h1.15v1.15h-1.15zM464.3 113.7h1.15v1.15h-1.15zM465.8 113.5h1.15v1.15h-1.15zM467.2 113.4h1.15v1.15h-1.15zM454.1 114.8h1.15v1.15h-1.15zM455.2 115.0h1.15v1.15h-1.15zM459.8 115.1h1.15v1.15h-1.15zM461.6 114.8h1.15v1.15h-1.15zM462.6 115.2h1.15v1.15h-1.15zM464.1 115.0h1.15v1.15h-1.15zM467.0 115.1h1.15v1.15h-1.15zM468.3 115.4h1.15v1.15h-1.15zM460.0 116.5h1.15v1.15h-1.15zM461.1 116.8h1.15v1.15h-1.15zM462.5 116.4h1.15v1.15h-1.15zM461.1 118.0h1.15v1.15h-1.15zM462.6 118.0h1.15v1.15h-1.15zM468.5 118.2h1.15v1.15h-1.15zM467.3 119.5h1.15v1.15h-1.15zM468.3 119.6h1.15v1.15h-1.15zM465.6 121.2h1.15v1.15h-1.15zM467.1 120.9h1.15v1.15h-1.15zM468.4 120.8h1.15v1.15h-1.15zM469.8 120.8h1.15v1.15h-1.15zM467.1 122.3h1.15v1.15h-1.15zM468.6 122.2h1.15v1.15h-1.15zM469.9 122.0h1.15v1.15h-1.15zM462.7 83.6h1.15v1.15h-1.15zM464.0 83.8h1.15v1.15h-1.15zM465.3 83.5h1.15v1.15h-1.15zM467.1 84.1h1.15v1.15h-1.15zM468.4 83.8h1.15v1.15h-1.15zM469.4 83.6h1.15v1.15h-1.15zM471.0 83.5h1.15v1.15h-1.15zM463.8 84.9h1.15v1.15h-1.15zM465.3 85.4h1.15v1.15h-1.15zM466.9 84.9h1.15v1.15h-1.15zM468.5 84.9h1.15v1.15h-1.15zM469.7 85.0h1.15v1.15h-1.15zM471.0 85.0h1.15v1.15h-1.15zM465.4 86.5h1.15v1.15h-1.15zM466.9 86.7h1.15v1.15h-1.15zM468.2 86.8h1.15v1.15h-1.15zM465.1 88.2h1.15v1.15h-1.15zM466.5 87.9h1.15v1.15h-1.15zM465.4 89.3h1.15v1.15h-1.15zM466.5 89.3h1.15v1.15h-1.15zM475.3 89.9h1.15v1.15h-1.15zM466.4 90.9h1.15v1.15h-1.15zM475.5 91.2h1.15v1.15h-1.15zM477.0 91.0h1.15v1.15h-1.15zM466.9 92.3h1.15v1.15h-1.15zM475.7 92.3h1.15v1.15h-1.15zM476.7 92.4h1.15v1.15h-1.15zM467.9 94.1h1.15v1.15h-1.15zM476.7 93.9h1.15v1.15h-1.15zM468.2 95.2h1.15v1.15h-1.15zM469.6 95.2h1.15v1.15h-1.15zM470.9 95.2h1.15v1.15h-1.15zM469.5 96.9h1.15v1.15h-1.15zM471.4 96.6h1.15v1.15h-1.15zM474.4 98.6h1.15v1.15h-1.15zM475.3 98.4h1.15v1.15h-1.15zM476.7 98.2h1.15v1.15h-1.15zM478.4 98.1h1.15v1.15h-1.15zM472.7 99.6h1.15v1.15h-1.15zM474.0 99.8h1.15v1.15h-1.15zM475.8 99.5h1.15v1.15h-1.15zM477.1 99.4h1.15v1.15h-1.15zM478.1 99.9h1.15v1.15h-1.15zM472.6 101.3h1.15v1.15h-1.15zM474.2 101.1h1.15v1.15h-1.15zM475.4 100.9h1.15v1.15h-1.15zM477.0 101.1h1.15v1.15h-1.15zM478.6 100.9h1.15v1.15h-1.15zM476.9 108.7h1.15v1.15h-1.15zM478.4 108.5h1.15v1.15h-1.15zM478.1 109.6h1.15v1.15h-1.15zM481.3 111.4h1.15v1.15h-1.15zM482.8 111.2h1.15v1.15h-1.15zM430.3 103.1h1.15v1.15h-1.15zM430.7 104.5h1.15v1.15h-1.15zM431.7 104.6h1.15v1.15h-1.15zM430.6 105.6h1.15v1.15h-1.15zM431.8 106.0h1.15v1.15h-1.15zM433.3 105.6h1.15v1.15h-1.15zM435.0 106.2h1.15v1.15h-1.15zM432.4 107.0h1.15v1.15h-1.15zM439.5 108.6h1.15v1.15h-1.15zM441.0 108.5h1.15v1.15h-1.15zM442.2 108.6h1.15v1.15h-1.15zM443.7 108.6h1.15v1.15h-1.15zM445.1 108.6h1.15v1.15h-1.15zM446.2 108.5h1.15v1.15h-1.15zM448.2 108.7h1.15v1.15h-1.15zM427.8 110.4h1.15v1.15h-1.15zM429.3 110.4h1.15v1.15h-1.15zM432.1 110.1h1.15v1.15h-1.15zM439.6 110.3h1.15v1.15h-1.15zM440.6 110.5h1.15v1.15h-1.15zM442.3 110.5h1.15v1.15h-1.15zM443.9 110.3h1.15v1.15h-1.15zM445.1 110.2h1.15v1.15h-1.15zM446.4 110.5h1.15v1.15h-1.15zM447.7 110.6h1.15v1.15h-1.15zM420.4 111.4h1.15v1.15h-1.15zM426.5 111.5h1.15v1.15h-1.15zM427.3 111.4h1.15v1.15h-1.15zM429.3 111.5h1.15v1.15h-1.15zM430.8 111.6h1.15v1.15h-1.15zM431.7 111.9h1.15v1.15h-1.15zM433.4 111.4h1.15v1.15h-1.15zM442.5 111.7h1.15v1.15h-1.15zM443.8 111.5h1.15v1.15h-1.15zM444.9 111.7h1.15v1.15h-1.15zM446.9 112.0h1.15v1.15h-1.15zM447.8 111.8h1.15v1.15h-1.15zM419.3 113.4h1.15v1.15h-1.15zM420.1 113.3h1.15v1.15h-1.15zM426.0 113.0h1.15v1.15h-1.15zM427.8 113.4h1.15v1.15h-1.15zM429.5 113.4h1.15v1.15h-1.15zM430.5 113.1h1.15v1.15h-1.15zM432.0 112.8h1.15v1.15h-1.15zM433.4 113.4h1.15v1.15h-1.15zM442.4 113.2h1.15v1.15h-1.15zM443.7 113.2h1.15v1.15h-1.15zM445.4 113.1h1.15v1.15h-1.15zM446.6 113.1h1.15v1.15h-1.15zM447.9 113.5h1.15v1.15h-1.15zM449.5 113.1h1.15v1.15h-1.15zM418.9 114.4h1.15v1.15h-1.15zM426.3 114.3h1.15v1.15h-1.15zM427.4 114.8h1.15v1.15h-1.15zM429.2 114.4h1.15v1.15h-1.15zM430.8 114.4h1.15v1.15h-1.15zM432.0 114.8h1.15v1.15h-1.15zM433.7 114.4h1.15v1.15h-1.15zM416.1 115.9h1.15v1.15h-1.15zM430.9 115.7h1.15v1.15h-1.15zM431.9 116.2h1.15v1.15h-1.15zM433.6 115.8h1.15v1.15h-1.15zM435.2 116.0h1.15v1.15h-1.15zM436.6 116.0h1.15v1.15h-1.15zM414.4 117.6h1.15v1.15h-1.15zM416.3 117.4h1.15v1.15h-1.15zM417.4 117.6h1.15v1.15h-1.15zM430.3 117.3h1.15v1.15h-1.15zM432.2 117.2h1.15v1.15h-1.15zM433.7 117.2h1.15v1.15h-1.15zM434.6 117.7h1.15v1.15h-1.15zM436.1 117.6h1.15v1.15h-1.15zM414.5 118.6h1.15v1.15h-1.15zM416.4 119.3h1.15v1.15h-1.15zM417.5 118.9h1.15v1.15h-1.15zM419.0 119.2h1.15v1.15h-1.15zM430.9 118.9h1.15v1.15h-1.15zM432.1 119.1h1.15v1.15h-1.15zM433.3 119.1h1.15v1.15h-1.15zM414.6 120.5h1.15v1.15h-1.15zM416.0 120.7h1.15v1.15h-1.15zM417.6 120.3h1.15v1.15h-1.15zM418.9 120.2h1.15v1.15h-1.15zM420.1 120.4h1.15v1.15h-1.15zM430.6 120.0h1.15v1.15h-1.15zM432.1 120.3h1.15v1.15h-1.15zM433.3 120.2h1.15v1.15h-1.15zM414.8 122.0h1.15v1.15h-1.15zM416.2 122.0h1.15v1.15h-1.15zM417.6 122.0h1.15v1.15h-1.15zM419.1 121.6h1.15v1.15h-1.15zM420.5 121.5h1.15v1.15h-1.15zM430.9 122.1h1.15v1.15h-1.15zM431.8 121.9h1.15v1.15h-1.15zM433.3 121.7h1.15v1.15h-1.15zM413.5 123.4h1.15v1.15h-1.15zM414.3 123.1h1.15v1.15h-1.15zM415.8 123.5h1.15v1.15h-1.15zM417.2 123.5h1.15v1.15h-1.15zM419.2 123.5h1.15v1.15h-1.15zM420.4 123.2h1.15v1.15h-1.15zM410.2 124.6h1.15v1.15h-1.15zM412.0 124.7h1.15v1.15h-1.15zM412.9 124.8h1.15v1.15h-1.15zM414.6 124.5h1.15v1.15h-1.15zM416.3 124.5h1.15v1.15h-1.15zM417.3 124.7h1.15v1.15h-1.15zM418.8 124.6h1.15v1.15h-1.15zM420.4 125.0h1.15v1.15h-1.15zM417.5 126.1h1.15v1.15h-1.15zM420.6 126.1h1.15v1.15h-1.15zM448.7 113.6h1.15v1.15h-1.15zM447.5 114.7h1.15v1.15h-1.15zM449.0 115.2h1.15v1.15h-1.15zM450.3 115.0h1.15v1.15h-1.15zM451.8 115.2h1.15v1.15h-1.15zM447.3 116.5h1.15v1.15h-1.15zM448.9 116.5h1.15v1.15h-1.15zM450.5 116.1h1.15v1.15h-1.15zM451.5 116.4h1.15v1.15h-1.15zM453.1 116.2h1.15v1.15h-1.15zM447.7 118.1h1.15v1.15h-1.15zM448.9 118.1h1.15v1.15h-1.15zM450.3 117.6h1.15v1.15h-1.15zM451.7 117.6h1.15v1.15h-1.15zM448.7 119.1h1.15v1.15h-1.15zM453.2 123.4h1.15v1.15h-1.15zM444.4 125.0h1.15v1.15h-1.15zM452.8 125.2h1.15v1.15h-1.15zM460.6 125.4h1.15v1.15h-1.15zM462.1 124.9h1.15v1.15h-1.15zM443.3 126.4h1.15v1.15h-1.15zM444.5 126.5h1.15v1.15h-1.15zM445.6 126.1h1.15v1.15h-1.15zM453.3 126.3h1.15v1.15h-1.15zM462.2 126.2h1.15v1.15h-1.15zM440.3 128.0h1.15v1.15h-1.15zM441.2 127.7h1.15v1.15h-1.15zM442.9 128.2h1.15v1.15h-1.15zM444.6 127.8h1.15v1.15h-1.15zM446.0 127.8h1.15v1.15h-1.15zM447.7 128.1h1.15v1.15h-1.15zM449.1 127.8h1.15v1.15h-1.15zM450.0 128.1h1.15v1.15h-1.15zM457.3 127.6h1.15v1.15h-1.15zM440.2 129.5h1.15v1.15h-1.15zM441.7 129.1h1.15v1.15h-1.15zM443.3 129.6h1.15v1.15h-1.15zM444.6 129.0h1.15v1.15h-1.15zM445.8 129.2h1.15v1.15h-1.15zM447.6 129.2h1.15v1.15h-1.15zM448.8 129.2h1.15v1.15h-1.15zM450.4 129.1h1.15v1.15h-1.15zM456.2 129.6h1.15v1.15h-1.15zM457.3 129.1h1.15v1.15h-1.15zM458.9 129.0h1.15v1.15h-1.15zM439.8 130.6h1.15v1.15h-1.15zM441.6 130.6h1.15v1.15h-1.15zM443.3 131.1h1.15v1.15h-1.15zM444.2 130.6h1.15v1.15h-1.15zM446.1 130.9h1.15v1.15h-1.15zM447.7 130.6h1.15v1.15h-1.15zM448.5 131.1h1.15v1.15h-1.15zM450.5 130.5h1.15v1.15h-1.15zM456.2 131.1h1.15v1.15h-1.15zM457.7 130.9h1.15v1.15h-1.15zM445.6 132.6h1.15v1.15h-1.15zM447.5 132.0h1.15v1.15h-1.15zM448.6 132.5h1.15v1.15h-1.15zM450.6 132.0h1.15v1.15h-1.15zM446.2 133.6h1.15v1.15h-1.15zM447.1 133.7h1.15v1.15h-1.15zM449.0 133.6h1.15v1.15h-1.15zM450.5 134.0h1.15v1.15h-1.15zM465.0 133.5h1.15v1.15h-1.15zM466.0 133.8h1.15v1.15h-1.15zM444.7 135.2h1.15v1.15h-1.15zM445.8 135.3h1.15v1.15h-1.15zM447.6 135.3h1.15v1.15h-1.15zM448.9 134.9h1.15v1.15h-1.15zM450.4 135.2h1.15v1.15h-1.15zM463.0 135.3h1.15v1.15h-1.15zM464.9 135.0h1.15v1.15h-1.15zM465.9 135.0h1.15v1.15h-1.15zM444.5 136.9h1.15v1.15h-1.15zM445.6 136.7h1.15v1.15h-1.15zM447.3 136.5h1.15v1.15h-1.15zM448.6 136.6h1.15v1.15h-1.15zM450.0 136.7h1.15v1.15h-1.15zM460.2 136.9h1.15v1.15h-1.15zM461.8 136.6h1.15v1.15h-1.15zM463.0 136.6h1.15v1.15h-1.15zM464.6 137.0h1.15v1.15h-1.15zM465.9 136.5h1.15v1.15h-1.15zM435.9 138.3h1.15v1.15h-1.15zM437.1 138.3h1.15v1.15h-1.15zM443.0 138.2h1.15v1.15h-1.15zM444.1 138.2h1.15v1.15h-1.15zM445.9 138.1h1.15v1.15h-1.15zM447.1 138.1h1.15v1.15h-1.15zM449.1 137.9h1.15v1.15h-1.15zM450.4 137.9h1.15v1.15h-1.15zM460.5 137.9h1.15v1.15h-1.15zM461.6 137.9h1.15v1.15h-1.15zM463.3 138.0h1.15v1.15h-1.15zM465.0 137.9h1.15v1.15h-1.15zM466.3 138.4h1.15v1.15h-1.15zM467.5 138.0h1.15v1.15h-1.15zM444.7 139.2h1.15v1.15h-1.15zM445.9 139.3h1.15v1.15h-1.15zM447.5 139.7h1.15v1.15h-1.15zM449.0 139.4h1.15v1.15h-1.15zM450.6 139.2h1.15v1.15h-1.15zM460.4 139.8h1.15v1.15h-1.15zM461.7 139.5h1.15v1.15h-1.15zM463.5 139.4h1.15v1.15h-1.15zM464.7 139.2h1.15v1.15h-1.15zM466.5 139.5h1.15v1.15h-1.15zM467.7 139.3h1.15v1.15h-1.15zM451.7 141.1h1.15v1.15h-1.15zM453.5 141.1h1.15v1.15h-1.15zM460.4 141.0h1.15v1.15h-1.15zM461.7 140.7h1.15v1.15h-1.15zM463.3 141.0h1.15v1.15h-1.15zM464.9 140.9h1.15v1.15h-1.15zM466.1 141.3h1.15v1.15h-1.15zM468.0 140.8h1.15v1.15h-1.15zM451.9 142.3h1.15v1.15h-1.15zM453.3 142.2h1.15v1.15h-1.15zM460.4 142.2h1.15v1.15h-1.15zM461.5 142.4h1.15v1.15h-1.15zM463.4 142.4h1.15v1.15h-1.15zM464.5 142.4h1.15v1.15h-1.15zM465.9 142.1h1.15v1.15h-1.15zM467.9 142.7h1.15v1.15h-1.15zM453.0 143.5h1.15v1.15h-1.15zM461.8 143.8h1.15v1.15h-1.15zM463.2 144.0h1.15v1.15h-1.15zM464.6 143.7h1.15v1.15h-1.15zM466.2 143.5h1.15v1.15h-1.15zM444.3 145.0h1.15v1.15h-1.15zM445.6 145.1h1.15v1.15h-1.15zM456.1 145.6h1.15v1.15h-1.15zM457.8 145.5h1.15v1.15h-1.15zM402.2 124.7h1.15v1.15h-1.15zM401.7 126.1h1.15v1.15h-1.15zM406.6 130.5h1.15v1.15h-1.15zM407.6 130.0h1.15v1.15h-1.15zM404.9 142.1h1.15v1.15h-1.15zM406.6 143.1h1.15v1.15h-1.15zM395.1 146.1h1.15v1.15h-1.15zM534.5 74.9h1.15v1.15h-1.15zM536.3 74.8h1.15v1.15h-1.15zM537.7 74.9h1.15v1.15h-1.15zM547.7 74.9h1.15v1.15h-1.15zM549.1 74.8h1.15v1.15h-1.15zM550.8 74.9h1.15v1.15h-1.15zM534.4 76.3h1.15v1.15h-1.15zM536.2 76.1h1.15v1.15h-1.15zM537.8 76.4h1.15v1.15h-1.15zM539.1 76.1h1.15v1.15h-1.15zM540.4 75.8h1.15v1.15h-1.15zM542.2 75.9h1.15v1.15h-1.15zM543.1 76.2h1.15v1.15h-1.15zM547.4 75.9h1.15v1.15h-1.15zM549.1 76.0h1.15v1.15h-1.15zM550.4 76.4h1.15v1.15h-1.15zM552.2 75.8h1.15v1.15h-1.15zM553.6 76.2h1.15v1.15h-1.15zM554.7 75.8h1.15v1.15h-1.15zM534.4 77.5h1.15v1.15h-1.15zM535.8 77.8h1.15v1.15h-1.15zM537.8 77.3h1.15v1.15h-1.15zM539.0 77.7h1.15v1.15h-1.15zM540.4 77.6h1.15v1.15h-1.15zM541.7 77.5h1.15v1.15h-1.15zM543.1 77.8h1.15v1.15h-1.15zM545.1 77.5h1.15v1.15h-1.15zM546.7 77.3h1.15v1.15h-1.15zM548.1 77.6h1.15v1.15h-1.15zM552.0 77.2h1.15v1.15h-1.15zM553.8 77.5h1.15v1.15h-1.15zM555.1 77.4h1.15v1.15h-1.15zM556.6 77.4h1.15v1.15h-1.15zM558.1 77.6h1.15v1.15h-1.15zM559.6 77.5h1.15v1.15h-1.15zM560.9 77.4h1.15v1.15h-1.15zM530.2 79.0h1.15v1.15h-1.15zM531.5 79.3h1.15v1.15h-1.15zM534.9 79.2h1.15v1.15h-1.15zM536.2 78.9h1.15v1.15h-1.15zM537.6 78.8h1.15v1.15h-1.15zM539.3 78.7h1.15v1.15h-1.15zM540.6 78.9h1.15v1.15h-1.15zM542.2 78.9h1.15v1.15h-1.15zM543.5 79.1h1.15v1.15h-1.15zM544.7 79.3h1.15v1.15h-1.15zM546.4 78.8h1.15v1.15h-1.15zM547.6 79.3h1.15v1.15h-1.15zM552.1 79.1h1.15v1.15h-1.15zM553.4 79.0h1.15v1.15h-1.15zM555.4 78.8h1.15v1.15h-1.15zM556.3 79.1h1.15v1.15h-1.15zM558.1 79.1h1.15v1.15h-1.15zM559.5 79.0h1.15v1.15h-1.15zM561.1 79.2h1.15v1.15h-1.15zM562.0 78.7h1.15v1.15h-1.15zM530.5 80.7h1.15v1.15h-1.15zM531.9 80.5h1.15v1.15h-1.15zM533.0 80.5h1.15v1.15h-1.15zM535.0 80.7h1.15v1.15h-1.15zM536.0 80.1h1.15v1.15h-1.15zM537.4 80.7h1.15v1.15h-1.15zM539.2 80.7h1.15v1.15h-1.15zM540.6 80.2h1.15v1.15h-1.15zM542.0 80.6h1.15v1.15h-1.15zM543.5 80.7h1.15v1.15h-1.15zM544.7 80.3h1.15v1.15h-1.15zM546.6 80.3h1.15v1.15h-1.15zM547.7 80.6h1.15v1.15h-1.15zM551.9 80.7h1.15v1.15h-1.15zM553.6 80.1h1.15v1.15h-1.15zM554.9 80.7h1.15v1.15h-1.15zM556.2 80.5h1.15v1.15h-1.15zM558.1 80.6h1.15v1.15h-1.15zM559.1 80.6h1.15v1.15h-1.15zM561.1 80.3h1.15v1.15h-1.15zM562.6 80.2h1.15v1.15h-1.15zM563.6 80.3h1.15v1.15h-1.15zM530.7 82.2h1.15v1.15h-1.15zM531.6 82.1h1.15v1.15h-1.15zM533.3 81.6h1.15v1.15h-1.15zM534.6 81.6h1.15v1.15h-1.15zM535.9 81.7h1.15v1.15h-1.15zM537.3 81.7h1.15v1.15h-1.15zM539.0 81.8h1.15v1.15h-1.15zM542.3 81.6h1.15v1.15h-1.15zM543.4 82.2h1.15v1.15h-1.15zM544.7 81.6h1.15v1.15h-1.15zM546.3 81.9h1.15v1.15h-1.15zM547.8 81.7h1.15v1.15h-1.15zM553.8 81.7h1.15v1.15h-1.15zM554.8 82.1h1.15v1.15h-1.15zM556.6 81.7h1.15v1.15h-1.15zM558.0 81.7h1.15v1.15h-1.15zM559.1 82.2h1.15v1.15h-1.15zM560.9 82.0h1.15v1.15h-1.15zM562.0 81.5h1.15v1.15h-1.15zM563.9 81.9h1.15v1.15h-1.15zM534.5 83.0h1.15v1.15h-1.15zM536.2 83.1h1.15v1.15h-1.15zM537.8 83.2h1.15v1.15h-1.15zM539.2 83.3h1.15v1.15h-1.15zM543.4 83.1h1.15v1.15h-1.15zM545.1 83.7h1.15v1.15h-1.15zM546.0 83.4h1.15v1.15h-1.15zM547.5 83.1h1.15v1.15h-1.15zM555.4 83.6h1.15v1.15h-1.15zM556.8 83.0h1.15v1.15h-1.15zM558.1 83.2h1.15v1.15h-1.15zM559.7 83.1h1.15v1.15h-1.15zM560.8 83.4h1.15v1.15h-1.15zM562.3 83.7h1.15v1.15h-1.15zM564.0 83.5h1.15v1.15h-1.15zM546.4 84.8h1.15v1.15h-1.15zM547.7 84.6h1.15v1.15h-1.15zM556.4 84.7h1.15v1.15h-1.15zM557.9 84.4h1.15v1.15h-1.15zM559.1 85.1h1.15v1.15h-1.15zM561.1 84.7h1.15v1.15h-1.15zM562.1 84.6h1.15v1.15h-1.15zM563.4 84.7h1.15v1.15h-1.15zM556.8 86.1h1.15v1.15h-1.15zM558.1 86.4h1.15v1.15h-1.15zM559.2 86.0h1.15v1.15h-1.15zM561.1 86.3h1.15v1.15h-1.15zM562.1 86.4h1.15v1.15h-1.15zM563.7 86.4h1.15v1.15h-1.15zM565.1 86.5h1.15v1.15h-1.15zM556.7 87.4h1.15v1.15h-1.15zM557.7 87.8h1.15v1.15h-1.15zM559.6 87.8h1.15v1.15h-1.15zM561.1 87.5h1.15v1.15h-1.15zM562.2 88.0h1.15v1.15h-1.15zM563.5 87.5h1.15v1.15h-1.15zM565.0 87.9h1.15v1.15h-1.15zM556.5 89.3h1.15v1.15h-1.15zM557.9 89.3h1.15v1.15h-1.15zM559.6 89.1h1.15v1.15h-1.15zM560.9 89.3h1.15v1.15h-1.15zM562.2 89.3h1.15v1.15h-1.15zM564.0 89.1h1.15v1.15h-1.15zM564.9 89.0h1.15v1.15h-1.15zM559.6 65.8h1.15v1.15h-1.15zM560.6 65.6h1.15v1.15h-1.15zM562.2 65.9h1.15v1.15h-1.15zM564.0 66.1h1.15v1.15h-1.15zM565.0 65.7h1.15v1.15h-1.15zM566.8 66.0h1.15v1.15h-1.15zM556.9 66.9h1.15v1.15h-1.15zM557.9 67.5h1.15v1.15h-1.15zM559.7 67.0h1.15v1.15h-1.15zM561.2 67.5h1.15v1.15h-1.15zM562.7 67.4h1.15v1.15h-1.15zM563.5 66.9h1.15v1.15h-1.15zM565.6 67.2h1.15v1.15h-1.15zM566.6 67.4h1.15v1.15h-1.15zM568.2 67.1h1.15v1.15h-1.15zM569.6 67.2h1.15v1.15h-1.15zM556.6 68.7h1.15v1.15h-1.15zM557.9 68.6h1.15v1.15h-1.15zM559.2 68.4h1.15v1.15h-1.15zM561.0 68.9h1.15v1.15h-1.15zM562.1 68.6h1.15v1.15h-1.15zM563.9 68.9h1.15v1.15h-1.15zM565.1 68.6h1.15v1.15h-1.15zM566.7 69.0h1.15v1.15h-1.15zM567.9 68.9h1.15v1.15h-1.15zM569.8 68.5h1.15v1.15h-1.15zM571.1 68.6h1.15v1.15h-1.15zM572.2 68.6h1.15v1.15h-1.15zM556.6 70.3h1.15v1.15h-1.15zM558.0 70.4h1.15v1.15h-1.15zM559.4 69.9h1.15v1.15h-1.15zM563.5 69.8h1.15v1.15h-1.15zM565.5 70.1h1.15v1.15h-1.15zM566.5 70.2h1.15v1.15h-1.15zM567.8 69.8h1.15v1.15h-1.15zM569.6 70.0h1.15v1.15h-1.15zM570.9 69.8h1.15v1.15h-1.15zM572.5 70.0h1.15v1.15h-1.15zM574.1 70.4h1.15v1.15h-1.15zM556.7 71.4h1.15v1.15h-1.15zM557.8 71.9h1.15v1.15h-1.15zM559.7 71.5h1.15v1.15h-1.15zM564.9 71.9h1.15v1.15h-1.15zM567.1 71.7h1.15v1.15h-1.15zM568.3 71.4h1.15v1.15h-1.15zM569.9 71.7h1.15v1.15h-1.15zM571.4 71.9h1.15v1.15h-1.15zM572.5 71.2h1.15v1.15h-1.15zM574.1 71.3h1.15v1.15h-1.15zM575.4 71.3h1.15v1.15h-1.15zM555.4 73.3h1.15v1.15h-1.15zM556.3 73.0h1.15v1.15h-1.15zM558.2 73.0h1.15v1.15h-1.15zM559.4 73.3h1.15v1.15h-1.15zM560.6 73.1h1.15v1.15h-1.15zM565.2 72.9h1.15v1.15h-1.15zM566.7 73.0h1.15v1.15h-1.15zM568.1 72.9h1.15v1.15h-1.15zM569.8 72.8h1.15v1.15h-1.15zM570.9 72.9h1.15v1.15h-1.15zM572.5 73.0h1.15v1.15h-1.15zM574.1 73.0h1.15v1.15h-1.15zM575.7 73.1h1.15v1.15h-1.15zM576.7 73.4h1.15v1.15h-1.15zM550.6 74.3h1.15v1.15h-1.15zM552.2 74.6h1.15v1.15h-1.15zM554.9 74.5h1.15v1.15h-1.15zM556.7 74.8h1.15v1.15h-1.15zM558.2 74.4h1.15v1.15h-1.15zM559.7 74.6h1.15v1.15h-1.15zM560.7 74.1h1.15v1.15h-1.15zM569.6 74.7h1.15v1.15h-1.15zM571.4 74.3h1.15v1.15h-1.15zM572.3 74.3h1.15v1.15h-1.15zM573.9 74.1h1.15v1.15h-1.15zM575.4 74.4h1.15v1.15h-1.15zM556.7 75.7h1.15v1.15h-1.15zM557.8 76.1h1.15v1.15h-1.15zM559.5 75.9h1.15v1.15h-1.15zM561.1 75.7h1.15v1.15h-1.15zM569.7 75.7h1.15v1.15h-1.15zM571.1 76.1h1.15v1.15h-1.15zM572.2 75.8h1.15v1.15h-1.15zM574.0 76.2h1.15v1.15h-1.15zM562.6 77.3h1.15v1.15h-1.15zM563.7 77.3h1.15v1.15h-1.15zM569.7 77.1h1.15v1.15h-1.15zM570.8 77.4h1.15v1.15h-1.15zM563.7 78.6h1.15v1.15h-1.15zM567.8 78.9h1.15v1.15h-1.15zM569.3 79.0h1.15v1.15h-1.15zM571.2 78.7h1.15v1.15h-1.15zM568.1 80.3h1.15v1.15h-1.15zM569.7 80.5h1.15v1.15h-1.15zM569.3 81.5h1.15v1.15h-1.15zM545.1 85.6h1.15v1.15h-1.15zM546.1 85.6h1.15v1.15h-1.15zM548.0 88.2h1.15v1.15h-1.15zM549.1 88.3h1.15v1.15h-1.15zM545.1 90.1h1.15v1.15h-1.15zM546.2 89.6h1.15v1.15h-1.15zM548.1 89.7h1.15v1.15h-1.15zM548.9 89.6h1.15v1.15h-1.15zM550.8 89.5h1.15v1.15h-1.15zM556.3 89.7h1.15v1.15h-1.15zM558.1 89.4h1.15v1.15h-1.15zM559.3 89.8h1.15v1.15h-1.15zM561.2 89.7h1.15v1.15h-1.15zM562.5 90.0h1.15v1.15h-1.15zM545.0 91.4h1.15v1.15h-1.15zM546.1 90.9h1.15v1.15h-1.15zM547.4 91.2h1.15v1.15h-1.15zM549.1 91.3h1.15v1.15h-1.15zM550.9 91.1h1.15v1.15h-1.15zM552.0 91.2h1.15v1.15h-1.15zM553.8 91.4h1.15v1.15h-1.15zM555.2 91.3h1.15v1.15h-1.15zM556.6 90.8h1.15v1.15h-1.15zM558.1 90.8h1.15v1.15h-1.15zM559.0 91.0h1.15v1.15h-1.15zM560.7 91.4h1.15v1.15h-1.15zM562.4 91.0h1.15v1.15h-1.15zM564.1 90.8h1.15v1.15h-1.15zM543.6 92.7h1.15v1.15h-1.15zM544.8 92.4h1.15v1.15h-1.15zM546.1 92.5h1.15v1.15h-1.15zM547.7 92.4h1.15v1.15h-1.15zM549.2 92.5h1.15v1.15h-1.15zM550.8 92.5h1.15v1.15h-1.15zM551.9 92.3h1.15v1.15h-1.15zM553.5 92.6h1.15v1.15h-1.15zM554.9 92.7h1.15v1.15h-1.15zM556.4 92.7h1.15v1.15h-1.15zM558.2 92.3h1.15v1.15h-1.15zM559.1 92.7h1.15v1.15h-1.15zM561.1 92.7h1.15v1.15h-1.15zM562.5 92.6h1.15v1.15h-1.15zM543.6 94.1h1.15v1.15h-1.15zM545.2 94.1h1.15v1.15h-1.15zM546.3 94.0h1.15v1.15h-1.15zM548.0 93.9h1.15v1.15h-1.15zM548.9 94.4h1.15v1.15h-1.15zM551.0 94.0h1.15v1.15h-1.15zM551.9 94.0h1.15v1.15h-1.15zM553.4 94.0h1.15v1.15h-1.15zM555.1 94.0h1.15v1.15h-1.15zM556.5 94.0h1.15v1.15h-1.15zM558.1 94.0h1.15v1.15h-1.15zM559.2 94.0h1.15v1.15h-1.15zM560.8 94.2h1.15v1.15h-1.15zM562.6 94.0h1.15v1.15h-1.15zM543.2 95.5h1.15v1.15h-1.15zM544.7 95.8h1.15v1.15h-1.15zM546.3 95.8h1.15v1.15h-1.15zM548.0 95.6h1.15v1.15h-1.15zM548.9 95.7h1.15v1.15h-1.15zM550.6 95.9h1.15v1.15h-1.15zM552.2 95.6h1.15v1.15h-1.15zM553.5 95.2h1.15v1.15h-1.15zM554.8 95.5h1.15v1.15h-1.15zM556.3 95.2h1.15v1.15h-1.15zM559.5 95.9h1.15v1.15h-1.15zM561.0 95.4h1.15v1.15h-1.15zM562.2 95.4h1.15v1.15h-1.15zM543.1 97.0h1.15v1.15h-1.15zM544.7 96.8h1.15v1.15h-1.15zM546.4 96.8h1.15v1.15h-1.15zM548.0 97.2h1.15v1.15h-1.15zM549.5 96.8h1.15v1.15h-1.15zM550.6 96.9h1.15v1.15h-1.15zM552.0 97.0h1.15v1.15h-1.15zM553.3 97.0h1.15v1.15h-1.15zM554.9 97.3h1.15v1.15h-1.15zM556.1 97.0h1.15v1.15h-1.15zM559.5 96.8h1.15v1.15h-1.15zM560.7 97.1h1.15v1.15h-1.15zM543.2 98.1h1.15v1.15h-1.15zM544.9 98.4h1.15v1.15h-1.15zM546.4 98.7h1.15v1.15h-1.15zM548.1 98.3h1.15v1.15h-1.15zM549.1 98.6h1.15v1.15h-1.15zM550.5 98.2h1.15v1.15h-1.15zM552.2 98.2h1.15v1.15h-1.15zM553.6 98.6h1.15v1.15h-1.15zM554.9 98.1h1.15v1.15h-1.15zM556.4 98.1h1.15v1.15h-1.15zM558.1 98.1h1.15v1.15h-1.15zM559.1 98.6h1.15v1.15h-1.15zM561.1 98.5h1.15v1.15h-1.15zM543.3 99.6h1.15v1.15h-1.15zM545.1 99.6h1.15v1.15h-1.15zM546.5 99.7h1.15v1.15h-1.15zM548.0 99.6h1.15v1.15h-1.15zM548.9 100.0h1.15v1.15h-1.15zM550.4 99.6h1.15v1.15h-1.15zM552.4 100.1h1.15v1.15h-1.15zM553.8 100.1h1.15v1.15h-1.15zM555.2 99.8h1.15v1.15h-1.15zM556.7 99.7h1.15v1.15h-1.15zM558.2 100.1h1.15v1.15h-1.15zM559.7 99.8h1.15v1.15h-1.15zM543.6 101.0h1.15v1.15h-1.15zM544.6 101.6h1.15v1.15h-1.15zM546.4 101.6h1.15v1.15h-1.15zM547.5 101.5h1.15v1.15h-1.15zM549.4 101.2h1.15v1.15h-1.15zM550.6 101.2h1.15v1.15h-1.15zM552.4 101.0h1.15v1.15h-1.15zM553.7 101.7h1.15v1.15h-1.15zM554.8 101.0h1.15v1.15h-1.15zM556.7 101.5h1.15v1.15h-1.15zM557.6 101.1h1.15v1.15h-1.15zM559.5 101.2h1.15v1.15h-1.15zM545.0 102.5h1.15v1.15h-1.15zM546.3 103.0h1.15v1.15h-1.15zM547.8 102.7h1.15v1.15h-1.15zM549.1 102.9h1.15v1.15h-1.15zM550.9 102.7h1.15v1.15h-1.15zM552.4 102.7h1.15v1.15h-1.15zM553.2 102.6h1.15v1.15h-1.15zM555.2 102.8h1.15v1.15h-1.15zM556.6 102.6h1.15v1.15h-1.15zM558.2 102.9h1.15v1.15h-1.15zM548.1 104.3h1.15v1.15h-1.15zM549.4 103.9h1.15v1.15h-1.15zM550.5 103.9h1.15v1.15h-1.15zM552.3 104.3h1.15v1.15h-1.15zM554.9 104.3h1.15v1.15h-1.15zM556.8 104.4h1.15v1.15h-1.15zM557.9 104.0h1.15v1.15h-1.15zM547.5 105.6h1.15v1.15h-1.15zM548.9 105.4h1.15v1.15h-1.15zM550.5 105.9h1.15v1.15h-1.15zM551.9 105.9h1.15v1.15h-1.15zM553.6 105.6h1.15v1.15h-1.15zM555.4 105.6h1.15v1.15h-1.15zM556.3 105.9h1.15v1.15h-1.15zM552.2 107.4h1.15v1.15h-1.15zM553.8 106.9h1.15v1.15h-1.15zM555.1 107.0h1.15v1.15h-1.15zM544.9 108.9h1.15v1.15h-1.15zM552.2 108.8h1.15v1.15h-1.15zM553.8 108.9h1.15v1.15h-1.15zM555.2 108.8h1.15v1.15h-1.15zM546.4 110.3h1.15v1.15h-1.15zM552.1 110.0h1.15v1.15h-1.15zM553.9 110.2h1.15v1.15h-1.15zM555.1 110.0h1.15v1.15h-1.15zM546.3 111.2h1.15v1.15h-1.15zM548.0 111.8h1.15v1.15h-1.15zM548.1 112.9h1.15v1.15h-1.15zM549.2 113.1h1.15v1.15h-1.15zM550.4 113.0h1.15v1.15h-1.15zM547.9 114.1h1.15v1.15h-1.15zM549.5 114.4h1.15v1.15h-1.15zM550.5 114.2h1.15v1.15h-1.15zM549.2 115.8h1.15v1.15h-1.15zM550.6 116.0h1.15v1.15h-1.15zM556.7 115.9h1.15v1.15h-1.15zM549.5 117.0h1.15v1.15h-1.15zM550.4 117.6h1.15v1.15h-1.15zM556.6 117.4h1.15v1.15h-1.15zM550.5 118.9h1.15v1.15h-1.15zM551.9 118.6h1.15v1.15h-1.15zM550.6 119.8h1.15v1.15h-1.15zM552.0 120.3h1.15v1.15h-1.15zM553.6 120.1h1.15v1.15h-1.15zM554.8 119.9h1.15v1.15h-1.15zM531.0 84.0h1.15v1.15h-1.15zM532.3 84.1h1.15v1.15h-1.15zM533.9 84.0h1.15v1.15h-1.15zM535.0 84.6h1.15v1.15h-1.15zM536.8 84.3h1.15v1.15h-1.15zM538.3 84.1h1.15v1.15h-1.15zM530.9 85.4h1.15v1.15h-1.15zM532.4 85.8h1.15v1.15h-1.15zM534.0 85.8h1.15v1.15h-1.15zM535.4 85.6h1.15v1.15h-1.15zM536.9 85.6h1.15v1.15h-1.15zM530.7 87.5h1.15v1.15h-1.15zM532.3 87.2h1.15v1.15h-1.15zM531.1 88.4h1.15v1.15h-1.15zM532.2 88.3h1.15v1.15h-1.15zM532.1 89.9h1.15v1.15h-1.15zM533.8 89.9h1.15v1.15h-1.15zM532.3 91.4h1.15v1.15h-1.15zM533.4 91.4h1.15v1.15h-1.15zM534.9 91.3h1.15v1.15h-1.15zM532.4 93.1h1.15v1.15h-1.15zM533.7 92.7h1.15v1.15h-1.15zM535.1 92.7h1.15v1.15h-1.15zM532.2 94.6h1.15v1.15h-1.15zM533.6 94.7h1.15v1.15h-1.15zM534.9 94.7h1.15v1.15h-1.15zM536.5 94.4h1.15v1.15h-1.15zM537.8 94.5h1.15v1.15h-1.15zM533.8 96.0h1.15v1.15h-1.15zM534.9 96.0h1.15v1.15h-1.15zM536.8 95.7h1.15v1.15h-1.15zM537.9 96.0h1.15v1.15h-1.15zM539.9 95.7h1.15v1.15h-1.15zM534.0 97.3h1.15v1.15h-1.15zM534.9 97.4h1.15v1.15h-1.15zM536.5 97.5h1.15v1.15h-1.15zM537.8 97.2h1.15v1.15h-1.15zM539.3 97.0h1.15v1.15h-1.15zM533.9 98.6h1.15v1.15h-1.15zM535.0 98.5h1.15v1.15h-1.15zM536.8 98.8h1.15v1.15h-1.15zM538.3 98.4h1.15v1.15h-1.15zM535.6 100.0h1.15v1.15h-1.15zM536.4 100.5h1.15v1.15h-1.15zM538.2 100.4h1.15v1.15h-1.15zM533.7 101.6h1.15v1.15h-1.15zM534.9 101.8h1.15v1.15h-1.15zM536.8 101.9h1.15v1.15h-1.15zM537.9 101.9h1.15v1.15h-1.15zM530.8 102.8h1.15v1.15h-1.15zM533.6 103.3h1.15v1.15h-1.15zM535.4 102.8h1.15v1.15h-1.15zM536.8 103.4h1.15v1.15h-1.15zM538.4 103.1h1.15v1.15h-1.15zM530.8 104.8h1.15v1.15h-1.15zM533.6 104.5h1.15v1.15h-1.15zM535.0 104.8h1.15v1.15h-1.15zM536.5 104.9h1.15v1.15h-1.15zM537.9 104.3h1.15v1.15h-1.15zM530.8 105.9h1.15v1.15h-1.15zM532.4 106.0h1.15v1.15h-1.15zM533.6 105.9h1.15v1.15h-1.15zM535.4 105.8h1.15v1.15h-1.15zM536.9 106.2h1.15v1.15h-1.15zM538.3 106.1h1.15v1.15h-1.15zM530.6 107.3h1.15v1.15h-1.15zM532.5 107.2h1.15v1.15h-1.15zM533.8 107.1h1.15v1.15h-1.15zM532.0 109.2h1.15v1.15h-1.15zM533.9 109.3h1.15v1.15h-1.15zM530.8 110.2h1.15v1.15h-1.15zM532.6 110.3h1.15v1.15h-1.15zM533.8 110.3h1.15v1.15h-1.15zM543.8 110.4h1.15v1.15h-1.15zM530.9 111.9h1.15v1.15h-1.15zM532.0 112.1h1.15v1.15h-1.15zM533.8 112.0h1.15v1.15h-1.15zM544.2 111.5h1.15v1.15h-1.15zM545.6 111.7h1.15v1.15h-1.15zM530.8 113.6h1.15v1.15h-1.15zM532.7 113.6h1.15v1.15h-1.15zM533.6 113.2h1.15v1.15h-1.15zM543.9 113.6h1.15v1.15h-1.15zM545.5 113.0h1.15v1.15h-1.15zM534.0 114.5h1.15v1.15h-1.15zM535.6 114.4h1.15v1.15h-1.15zM536.5 114.5h1.15v1.15h-1.15zM545.5 114.9h1.15v1.15h-1.15zM546.5 114.6h1.15v1.15h-1.15zM548.3 117.6h1.15v1.15h-1.15zM548.3 118.9h1.15v1.15h-1.15zM515.7 100.7h1.15v1.15h-1.15zM515.6 102.4h1.15v1.15h-1.15zM516.9 102.0h1.15v1.15h-1.15zM522.5 102.6h1.15v1.15h-1.15zM506.6 103.5h1.15v1.15h-1.15zM508.2 103.8h1.15v1.15h-1.15zM509.4 103.5h1.15v1.15h-1.15zM515.1 104.1h1.15v1.15h-1.15zM516.6 103.8h1.15v1.15h-1.15zM522.7 104.0h1.15v1.15h-1.15zM523.8 103.4h1.15v1.15h-1.15zM525.3 103.6h1.15v1.15h-1.15zM527.0 104.0h1.15v1.15h-1.15zM506.7 104.9h1.15v1.15h-1.15zM508.1 105.2h1.15v1.15h-1.15zM509.3 105.5h1.15v1.15h-1.15zM515.1 105.0h1.15v1.15h-1.15zM517.0 105.4h1.15v1.15h-1.15zM522.9 105.0h1.15v1.15h-1.15zM524.3 105.4h1.15v1.15h-1.15zM525.6 104.9h1.15v1.15h-1.15zM526.6 105.3h1.15v1.15h-1.15zM506.8 106.6h1.15v1.15h-1.15zM507.9 106.5h1.15v1.15h-1.15zM509.6 106.7h1.15v1.15h-1.15zM510.9 106.4h1.15v1.15h-1.15zM512.3 106.7h1.15v1.15h-1.15zM513.6 106.4h1.15v1.15h-1.15zM515.6 106.5h1.15v1.15h-1.15zM516.7 106.3h1.15v1.15h-1.15zM522.5 106.4h1.15v1.15h-1.15zM524.3 106.9h1.15v1.15h-1.15zM525.2 106.9h1.15v1.15h-1.15zM527.1 106.9h1.15v1.15h-1.15zM528.4 106.4h1.15v1.15h-1.15zM507.0 108.0h1.15v1.15h-1.15zM512.3 108.2h1.15v1.15h-1.15zM513.5 107.9h1.15v1.15h-1.15zM515.0 107.9h1.15v1.15h-1.15zM516.8 107.9h1.15v1.15h-1.15zM517.9 108.1h1.15v1.15h-1.15zM522.6 108.1h1.15v1.15h-1.15zM524.3 107.8h1.15v1.15h-1.15zM525.4 107.8h1.15v1.15h-1.15zM527.0 107.9h1.15v1.15h-1.15zM513.8 109.8h1.15v1.15h-1.15zM515.3 109.4h1.15v1.15h-1.15zM517.1 109.3h1.15v1.15h-1.15zM518.0 109.6h1.15v1.15h-1.15zM522.3 109.7h1.15v1.15h-1.15zM523.9 109.7h1.15v1.15h-1.15zM525.2 109.4h1.15v1.15h-1.15zM526.7 109.3h1.15v1.15h-1.15zM515.6 111.3h1.15v1.15h-1.15zM516.8 110.7h1.15v1.15h-1.15zM518.5 110.9h1.15v1.15h-1.15zM519.5 110.7h1.15v1.15h-1.15zM521.0 111.2h1.15v1.15h-1.15zM522.8 110.7h1.15v1.15h-1.15zM524.2 110.8h1.15v1.15h-1.15zM525.7 110.8h1.15v1.15h-1.15zM527.2 110.7h1.15v1.15h-1.15zM528.2 110.7h1.15v1.15h-1.15zM529.7 111.3h1.15v1.15h-1.15zM516.6 112.8h1.15v1.15h-1.15zM518.1 112.6h1.15v1.15h-1.15zM519.8 112.1h1.15v1.15h-1.15zM521.0 112.4h1.15v1.15h-1.15zM522.9 112.4h1.15v1.15h-1.15zM523.9 112.8h1.15v1.15h-1.15zM525.8 112.1h1.15v1.15h-1.15zM527.2 112.6h1.15v1.15h-1.15zM528.4 112.4h1.15v1.15h-1.15zM529.7 112.3h1.15v1.15h-1.15zM517.0 113.7h1.15v1.15h-1.15zM518.1 113.6h1.15v1.15h-1.15zM519.7 113.7h1.15v1.15h-1.15zM521.1 114.0h1.15v1.15h-1.15zM522.6 114.2h1.15v1.15h-1.15zM524.3 113.6h1.15v1.15h-1.15zM525.6 114.0h1.15v1.15h-1.15zM527.2 114.1h1.15v1.15h-1.15zM529.9 114.1h1.15v1.15h-1.15zM576.1 74.7h1.15v1.15h-1.15zM574.7 76.5h1.15v1.15h-1.15zM576.0 76.2h1.15v1.15h-1.15zM573.2 77.5h1.15v1.15h-1.15zM574.7 77.8h1.15v1.15h-1.15zM576.4 77.8h1.15v1.15h-1.15zM577.3 77.5h1.15v1.15h-1.15zM579.3 78.1h1.15v1.15h-1.15zM571.5 79.4h1.15v1.15h-1.15zM573.3 79.2h1.15v1.15h-1.15zM574.5 79.1h1.15v1.15h-1.15zM576.2 79.6h1.15v1.15h-1.15zM577.5 78.9h1.15v1.15h-1.15zM579.2 78.9h1.15v1.15h-1.15zM580.3 79.5h1.15v1.15h-1.15zM570.6 81.0h1.15v1.15h-1.15zM571.6 80.9h1.15v1.15h-1.15zM573.3 80.8h1.15v1.15h-1.15zM574.5 80.8h1.15v1.15h-1.15zM576.2 80.8h1.15v1.15h-1.15zM577.3 80.4h1.15v1.15h-1.15zM573.1 82.5h1.15v1.15h-1.15zM575.0 82.3h1.15v1.15h-1.15zM576.1 82.0h1.15v1.15h-1.15zM575.0 83.4h1.15v1.15h-1.15zM586.2 83.3h1.15v1.15h-1.15zM587.7 83.8h1.15v1.15h-1.15zM570.3 85.3h1.15v1.15h-1.15zM572.1 85.3h1.15v1.15h-1.15zM573.3 85.0h1.15v1.15h-1.15zM574.6 84.8h1.15v1.15h-1.15zM576.2 85.0h1.15v1.15h-1.15zM577.5 85.3h1.15v1.15h-1.15zM579.2 85.4h1.15v1.15h-1.15zM586.4 85.2h1.15v1.15h-1.15zM587.8 84.8h1.15v1.15h-1.15zM589.0 84.8h1.15v1.15h-1.15zM569.2 86.4h1.15v1.15h-1.15zM570.4 86.7h1.15v1.15h-1.15zM572.1 86.7h1.15v1.15h-1.15zM573.2 86.6h1.15v1.15h-1.15zM574.4 86.5h1.15v1.15h-1.15zM576.3 86.6h1.15v1.15h-1.15zM577.2 86.5h1.15v1.15h-1.15zM579.1 86.7h1.15v1.15h-1.15zM580.4 86.1h1.15v1.15h-1.15zM569.2 87.8h1.15v1.15h-1.15zM570.1 87.6h1.15v1.15h-1.15zM571.6 87.7h1.15v1.15h-1.15zM572.9 88.1h1.15v1.15h-1.15zM574.7 88.2h1.15v1.15h-1.15zM576.2 87.8h1.15v1.15h-1.15zM577.8 88.1h1.15v1.15h-1.15zM579.1 87.7h1.15v1.15h-1.15zM580.1 88.1h1.15v1.15h-1.15zM595.0 87.9h1.15v1.15h-1.15zM596.6 87.7h1.15v1.15h-1.15zM599.2 88.3h1.15v1.15h-1.15zM567.5 89.2h1.15v1.15h-1.15zM568.9 89.6h1.15v1.15h-1.15zM570.6 89.0h1.15v1.15h-1.15zM572.1 89.5h1.15v1.15h-1.15zM573.0 89.5h1.15v1.15h-1.15zM576.0 89.6h1.15v1.15h-1.15zM577.7 89.1h1.15v1.15h-1.15zM579.0 89.1h1.15v1.15h-1.15zM580.5 89.0h1.15v1.15h-1.15zM588.0 89.4h1.15v1.15h-1.15zM596.2 89.1h1.15v1.15h-1.15zM598.2 89.6h1.15v1.15h-1.15zM599.1 89.5h1.15v1.15h-1.15zM600.9 89.6h1.15v1.15h-1.15zM577.3 91.1h1.15v1.15h-1.15zM579.1 90.6h1.15v1.15h-1.15zM580.4 90.5h1.15v1.15h-1.15zM582.1 90.7h1.15v1.15h-1.15zM584.8 90.7h1.15v1.15h-1.15zM586.0 90.7h1.15v1.15h-1.15zM588.0 90.7h1.15v1.15h-1.15zM596.2 91.0h1.15v1.15h-1.15zM597.7 90.6h1.15v1.15h-1.15zM607.8 90.7h1.15v1.15h-1.15zM609.6 91.0h1.15v1.15h-1.15zM577.6 92.1h1.15v1.15h-1.15zM578.8 92.1h1.15v1.15h-1.15zM580.2 92.3h1.15v1.15h-1.15zM582.2 92.2h1.15v1.15h-1.15zM583.3 92.2h1.15v1.15h-1.15zM585.1 92.4h1.15v1.15h-1.15zM586.1 92.2h1.15v1.15h-1.15zM587.8 92.2h1.15v1.15h-1.15zM589.1 92.5h1.15v1.15h-1.15zM607.8 92.3h1.15v1.15h-1.15zM609.8 92.6h1.15v1.15h-1.15zM581.7 93.6h1.15v1.15h-1.15zM584.5 93.8h1.15v1.15h-1.15zM586.0 93.4h1.15v1.15h-1.15zM587.9 93.5h1.15v1.15h-1.15zM598.1 93.4h1.15v1.15h-1.15zM599.1 93.4h1.15v1.15h-1.15zM600.5 93.9h1.15v1.15h-1.15zM598.2 95.4h1.15v1.15h-1.15zM599.1 95.1h1.15v1.15h-1.15zM600.8 95.2h1.15v1.15h-1.15zM597.7 96.3h1.15v1.15h-1.15zM599.6 96.9h1.15v1.15h-1.15zM600.6 96.7h1.15v1.15h-1.15zM595.0 98.2h1.15v1.15h-1.15zM596.7 98.0h1.15v1.15h-1.15zM597.9 98.2h1.15v1.15h-1.15zM599.2 98.4h1.15v1.15h-1.15zM600.8 98.1h1.15v1.15h-1.15zM597.5 99.5h1.15v1.15h-1.15zM598.1 100.7h1.15v1.15h-1.15zM604.0 102.7h1.15v1.15h-1.15zM602.0 103.7h1.15v1.15h-1.15zM603.8 104.2h1.15v1.15h-1.15zM604.9 103.7h1.15v1.15h-1.15zM602.2 105.3h1.15v1.15h-1.15zM603.6 105.6h1.15v1.15h-1.15zM578.8 93.6h1.15v1.15h-1.15zM578.8 94.9h1.15v1.15h-1.15zM580.5 94.6h1.15v1.15h-1.15zM581.9 94.4h1.15v1.15h-1.15zM579.1 96.1h1.15v1.15h-1.15zM580.6 96.2h1.15v1.15h-1.15zM581.5 96.4h1.15v1.15h-1.15zM583.3 96.2h1.15v1.15h-1.15zM584.7 95.8h1.15v1.15h-1.15zM585.8 96.0h1.15v1.15h-1.15zM587.3 96.4h1.15v1.15h-1.15zM578.9 97.2h1.15v1.15h-1.15zM580.5 97.7h1.15v1.15h-1.15zM581.9 97.7h1.15v1.15h-1.15zM583.5 97.7h1.15v1.15h-1.15zM584.4 97.4h1.15v1.15h-1.15zM579.1 99.3h1.15v1.15h-1.15zM580.6 98.8h1.15v1.15h-1.15zM582.0 98.9h1.15v1.15h-1.15zM583.0 98.8h1.15v1.15h-1.15zM584.6 98.9h1.15v1.15h-1.15zM595.0 99.1h1.15v1.15h-1.15zM580.5 100.6h1.15v1.15h-1.15zM581.8 100.6h1.15v1.15h-1.15zM583.2 100.2h1.15v1.15h-1.15zM584.9 100.7h1.15v1.15h-1.15zM594.7 100.6h1.15v1.15h-1.15zM596.2 100.1h1.15v1.15h-1.15zM597.7 100.8h1.15v1.15h-1.15zM580.6 102.1h1.15v1.15h-1.15zM581.9 102.0h1.15v1.15h-1.15zM583.5 101.9h1.15v1.15h-1.15zM584.6 102.0h1.15v1.15h-1.15zM594.9 101.9h1.15v1.15h-1.15zM596.2 101.6h1.15v1.15h-1.15zM597.8 101.8h1.15v1.15h-1.15zM581.5 103.7h1.15v1.15h-1.15zM583.0 103.6h1.15v1.15h-1.15zM584.7 103.6h1.15v1.15h-1.15zM591.9 103.7h1.15v1.15h-1.15zM581.5 104.7h1.15v1.15h-1.15zM583.0 104.6h1.15v1.15h-1.15zM584.4 104.8h1.15v1.15h-1.15zM592.0 104.8h1.15v1.15h-1.15zM595.0 106.6h1.15v1.15h-1.15zM593.2 107.9h1.15v1.15h-1.15zM594.9 107.4h1.15v1.15h-1.15zM596.3 107.9h1.15v1.15h-1.15zM597.6 107.8h1.15v1.15h-1.15zM587.8 109.2h1.15v1.15h-1.15zM593.1 109.0h1.15v1.15h-1.15zM594.7 108.9h1.15v1.15h-1.15zM596.3 109.3h1.15v1.15h-1.15zM598.0 109.3h1.15v1.15h-1.15zM594.9 110.4h1.15v1.15h-1.15zM596.0 110.3h1.15v1.15h-1.15zM597.7 110.9h1.15v1.15h-1.15zM599.4 110.5h1.15v1.15h-1.15zM600.8 110.5h1.15v1.15h-1.15zM602.1 110.6h1.15v1.15h-1.15zM603.8 110.4h1.15v1.15h-1.15zM577.2 111.9h1.15v1.15h-1.15zM578.8 112.3h1.15v1.15h-1.15zM580.0 112.4h1.15v1.15h-1.15zM599.3 111.8h1.15v1.15h-1.15zM600.3 112.1h1.15v1.15h-1.15zM602.4 112.0h1.15v1.15h-1.15zM603.7 111.8h1.15v1.15h-1.15zM604.7 111.7h1.15v1.15h-1.15zM579.1 113.8h1.15v1.15h-1.15zM580.0 113.7h1.15v1.15h-1.15zM598.0 113.4h1.15v1.15h-1.15zM599.1 113.3h1.15v1.15h-1.15zM600.4 113.3h1.15v1.15h-1.15zM602.2 113.2h1.15v1.15h-1.15zM603.7 113.6h1.15v1.15h-1.15zM605.2 113.8h1.15v1.15h-1.15zM582.8 114.7h1.15v1.15h-1.15zM584.7 114.9h1.15v1.15h-1.15zM590.3 114.7h1.15v1.15h-1.15zM591.6 115.2h1.15v1.15h-1.15zM597.8 115.3h1.15v1.15h-1.15zM599.0 114.7h1.15v1.15h-1.15zM600.8 114.9h1.15v1.15h-1.15zM602.1 115.2h1.15v1.15h-1.15zM603.8 114.8h1.15v1.15h-1.15zM604.7 115.0h1.15v1.15h-1.15zM606.3 115.2h1.15v1.15h-1.15zM581.9 116.5h1.15v1.15h-1.15zM583.4 116.4h1.15v1.15h-1.15zM584.4 116.4h1.15v1.15h-1.15zM585.9 116.8h1.15v1.15h-1.15zM588.9 116.2h1.15v1.15h-1.15zM590.1 116.4h1.15v1.15h-1.15zM591.9 116.2h1.15v1.15h-1.15zM593.2 116.3h1.15v1.15h-1.15zM594.9 116.2h1.15v1.15h-1.15zM596.4 116.7h1.15v1.15h-1.15zM597.7 116.4h1.15v1.15h-1.15zM599.0 116.2h1.15v1.15h-1.15zM600.4 116.7h1.15v1.15h-1.15zM602.2 116.6h1.15v1.15h-1.15zM603.7 116.5h1.15v1.15h-1.15zM604.8 116.2h1.15v1.15h-1.15zM606.5 116.6h1.15v1.15h-1.15zM607.6 116.5h1.15v1.15h-1.15zM581.4 117.9h1.15v1.15h-1.15zM583.2 117.9h1.15v1.15h-1.15zM584.7 118.2h1.15v1.15h-1.15zM586.4 118.1h1.15v1.15h-1.15zM587.6 117.9h1.15v1.15h-1.15zM589.2 117.6h1.15v1.15h-1.15zM590.1 118.1h1.15v1.15h-1.15zM591.6 117.7h1.15v1.15h-1.15zM593.6 118.0h1.15v1.15h-1.15zM594.8 117.9h1.15v1.15h-1.15zM596.5 118.0h1.15v1.15h-1.15zM597.8 118.0h1.15v1.15h-1.15zM598.9 117.8h1.15v1.15h-1.15zM600.4 117.7h1.15v1.15h-1.15zM601.8 118.0h1.15v1.15h-1.15zM603.7 117.7h1.15v1.15h-1.15zM604.7 117.6h1.15v1.15h-1.15zM606.6 118.2h1.15v1.15h-1.15zM607.9 118.0h1.15v1.15h-1.15zM583.4 119.3h1.15v1.15h-1.15zM584.4 119.3h1.15v1.15h-1.15zM585.8 119.4h1.15v1.15h-1.15zM587.8 119.4h1.15v1.15h-1.15zM588.9 119.4h1.15v1.15h-1.15zM590.5 119.2h1.15v1.15h-1.15zM592.1 119.0h1.15v1.15h-1.15zM593.2 119.3h1.15v1.15h-1.15zM595.1 119.3h1.15v1.15h-1.15zM596.2 119.5h1.15v1.15h-1.15zM597.5 119.3h1.15v1.15h-1.15zM599.0 119.0h1.15v1.15h-1.15zM600.8 119.3h1.15v1.15h-1.15zM602.0 119.3h1.15v1.15h-1.15zM603.6 119.4h1.15v1.15h-1.15zM605.1 119.3h1.15v1.15h-1.15zM606.4 119.3h1.15v1.15h-1.15zM607.8 119.6h1.15v1.15h-1.15zM609.6 119.6h1.15v1.15h-1.15zM587.7 120.9h1.15v1.15h-1.15zM589.0 120.6h1.15v1.15h-1.15zM590.2 120.8h1.15v1.15h-1.15zM592.0 120.6h1.15v1.15h-1.15zM593.3 120.9h1.15v1.15h-1.15zM594.9 120.5h1.15v1.15h-1.15zM596.2 121.0h1.15v1.15h-1.15zM597.7 120.7h1.15v1.15h-1.15zM599.0 121.1h1.15v1.15h-1.15zM600.6 121.1h1.15v1.15h-1.15zM602.1 120.9h1.15v1.15h-1.15zM603.2 120.9h1.15v1.15h-1.15zM605.2 121.0h1.15v1.15h-1.15zM606.1 120.8h1.15v1.15h-1.15zM607.5 120.5h1.15v1.15h-1.15zM609.4 120.8h1.15v1.15h-1.15zM591.7 122.6h1.15v1.15h-1.15zM593.3 122.2h1.15v1.15h-1.15zM594.7 122.0h1.15v1.15h-1.15zM596.2 122.4h1.15v1.15h-1.15zM597.7 122.4h1.15v1.15h-1.15zM599.1 122.2h1.15v1.15h-1.15zM600.9 122.0h1.15v1.15h-1.15zM601.8 122.4h1.15v1.15h-1.15zM603.8 121.9h1.15v1.15h-1.15zM605.2 122.4h1.15v1.15h-1.15zM606.1 121.9h1.15v1.15h-1.15zM608.2 122.2h1.15v1.15h-1.15zM609.0 121.9h1.15v1.15h-1.15zM610.4 122.0h1.15v1.15h-1.15zM593.0 123.7h1.15v1.15h-1.15zM595.0 124.0h1.15v1.15h-1.15zM596.4 123.6h1.15v1.15h-1.15zM597.4 123.6h1.15v1.15h-1.15zM598.9 123.5h1.15v1.15h-1.15zM600.3 123.6h1.15v1.15h-1.15zM601.9 123.5h1.15v1.15h-1.15zM603.7 123.9h1.15v1.15h-1.15zM605.3 123.8h1.15v1.15h-1.15zM606.5 123.4h1.15v1.15h-1.15zM607.9 123.9h1.15v1.15h-1.15zM609.5 123.8h1.15v1.15h-1.15zM610.5 123.3h1.15v1.15h-1.15zM612.4 124.0h1.15v1.15h-1.15zM613.3 123.5h1.15v1.15h-1.15zM595.1 125.4h1.15v1.15h-1.15zM596.1 125.4h1.15v1.15h-1.15zM597.9 125.3h1.15v1.15h-1.15zM603.7 125.4h1.15v1.15h-1.15zM604.7 125.4h1.15v1.15h-1.15zM606.1 124.9h1.15v1.15h-1.15zM607.7 125.4h1.15v1.15h-1.15zM609.0 124.9h1.15v1.15h-1.15zM610.4 125.5h1.15v1.15h-1.15zM611.9 125.1h1.15v1.15h-1.15zM613.3 125.2h1.15v1.15h-1.15zM595.0 126.3h1.15v1.15h-1.15zM596.1 126.9h1.15v1.15h-1.15zM597.7 126.5h1.15v1.15h-1.15zM603.7 126.8h1.15v1.15h-1.15zM605.0 126.6h1.15v1.15h-1.15zM606.4 126.8h1.15v1.15h-1.15zM607.7 126.8h1.15v1.15h-1.15zM609.2 126.5h1.15v1.15h-1.15zM610.6 126.4h1.15v1.15h-1.15zM611.9 126.5h1.15v1.15h-1.15zM613.5 126.7h1.15v1.15h-1.15zM596.3 128.1h1.15v1.15h-1.15zM597.5 127.9h1.15v1.15h-1.15zM599.0 128.2h1.15v1.15h-1.15zM600.7 128.1h1.15v1.15h-1.15zM601.9 127.9h1.15v1.15h-1.15zM610.7 128.4h1.15v1.15h-1.15zM611.9 128.3h1.15v1.15h-1.15zM597.6 129.2h1.15v1.15h-1.15zM599.0 129.4h1.15v1.15h-1.15zM600.9 129.8h1.15v1.15h-1.15zM602.3 129.1h1.15v1.15h-1.15zM610.8 129.2h1.15v1.15h-1.15zM612.2 129.7h1.15v1.15h-1.15zM613.5 129.4h1.15v1.15h-1.15zM599.0 131.2h1.15v1.15h-1.15zM600.7 130.9h1.15v1.15h-1.15zM602.2 130.7h1.15v1.15h-1.15zM612.1 131.3h1.15v1.15h-1.15zM613.3 130.8h1.15v1.15h-1.15zM612.2 132.1h1.15v1.15h-1.15zM576.1 112.4h1.15v1.15h-1.15zM573.2 113.2h1.15v1.15h-1.15zM574.9 113.9h1.15v1.15h-1.15zM576.4 113.7h1.15v1.15h-1.15zM573.8 115.3h1.15v1.15h-1.15zM575.1 114.8h1.15v1.15h-1.15zM576.3 114.8h1.15v1.15h-1.15zM577.9 114.7h1.15v1.15h-1.15zM563.1 116.3h1.15v1.15h-1.15zM573.2 116.8h1.15v1.15h-1.15zM574.9 116.2h1.15v1.15h-1.15zM576.4 116.6h1.15v1.15h-1.15zM560.5 118.1h1.15v1.15h-1.15zM562.1 117.8h1.15v1.15h-1.15zM563.2 117.8h1.15v1.15h-1.15zM573.2 117.6h1.15v1.15h-1.15zM574.6 118.2h1.15v1.15h-1.15zM576.7 118.2h1.15v1.15h-1.15zM561.7 119.1h1.15v1.15h-1.15zM563.7 119.6h1.15v1.15h-1.15zM564.8 119.4h1.15v1.15h-1.15zM566.5 119.3h1.15v1.15h-1.15zM575.0 119.4h1.15v1.15h-1.15zM576.5 119.6h1.15v1.15h-1.15zM578.0 119.2h1.15v1.15h-1.15zM579.1 119.3h1.15v1.15h-1.15zM580.4 119.6h1.15v1.15h-1.15zM581.8 119.5h1.15v1.15h-1.15zM564.5 120.6h1.15v1.15h-1.15zM566.3 121.0h1.15v1.15h-1.15zM567.7 120.7h1.15v1.15h-1.15zM577.5 121.0h1.15v1.15h-1.15zM579.4 120.9h1.15v1.15h-1.15zM581.0 120.6h1.15v1.15h-1.15zM581.9 120.9h1.15v1.15h-1.15zM563.4 122.3h1.15v1.15h-1.15zM564.7 122.6h1.15v1.15h-1.15zM566.0 122.5h1.15v1.15h-1.15zM567.5 122.1h1.15v1.15h-1.15zM577.6 122.3h1.15v1.15h-1.15zM579.1 122.1h1.15v1.15h-1.15zM580.9 122.2h1.15v1.15h-1.15zM586.5 122.1h1.15v1.15h-1.15zM587.6 122.1h1.15v1.15h-1.15zM589.4 122.2h1.15v1.15h-1.15zM560.4 123.4h1.15v1.15h-1.15zM561.6 123.4h1.15v1.15h-1.15zM563.4 123.8h1.15v1.15h-1.15zM564.7 124.0h1.15v1.15h-1.15zM565.9 124.0h1.15v1.15h-1.15zM567.9 123.6h1.15v1.15h-1.15zM569.4 123.5h1.15v1.15h-1.15zM570.3 123.5h1.15v1.15h-1.15zM572.1 123.6h1.15v1.15h-1.15zM582.3 123.4h1.15v1.15h-1.15zM583.4 123.5h1.15v1.15h-1.15zM589.4 123.6h1.15v1.15h-1.15zM590.8 124.0h1.15v1.15h-1.15zM592.2 123.8h1.15v1.15h-1.15zM561.5 124.8h1.15v1.15h-1.15zM563.4 125.3h1.15v1.15h-1.15zM565.0 125.5h1.15v1.15h-1.15zM566.2 125.0h1.15v1.15h-1.15zM567.9 124.9h1.15v1.15h-1.15zM568.9 124.9h1.15v1.15h-1.15zM570.7 125.4h1.15v1.15h-1.15zM572.0 125.0h1.15v1.15h-1.15zM582.5 125.4h1.15v1.15h-1.15zM583.9 125.0h1.15v1.15h-1.15zM590.6 125.4h1.15v1.15h-1.15zM592.0 125.1h1.15v1.15h-1.15zM562.1 126.3h1.15v1.15h-1.15zM563.4 126.3h1.15v1.15h-1.15zM564.6 126.7h1.15v1.15h-1.15zM566.1 126.4h1.15v1.15h-1.15zM567.6 126.5h1.15v1.15h-1.15zM569.1 127.0h1.15v1.15h-1.15zM570.8 126.9h1.15v1.15h-1.15zM571.7 126.9h1.15v1.15h-1.15zM573.7 126.9h1.15v1.15h-1.15zM582.0 126.4h1.15v1.15h-1.15zM583.6 126.4h1.15v1.15h-1.15zM584.7 126.9h1.15v1.15h-1.15zM591.0 126.4h1.15v1.15h-1.15zM592.2 126.4h1.15v1.15h-1.15zM593.7 126.9h1.15v1.15h-1.15zM561.7 128.0h1.15v1.15h-1.15zM563.5 127.9h1.15v1.15h-1.15zM565.0 127.8h1.15v1.15h-1.15zM566.5 128.3h1.15v1.15h-1.15zM567.9 128.1h1.15v1.15h-1.15zM569.4 128.4h1.15v1.15h-1.15zM570.9 128.3h1.15v1.15h-1.15zM571.9 128.2h1.15v1.15h-1.15zM573.7 128.1h1.15v1.15h-1.15zM574.6 128.2h1.15v1.15h-1.15zM576.7 128.1h1.15v1.15h-1.15zM577.6 128.0h1.15v1.15h-1.15zM580.7 128.0h1.15v1.15h-1.15zM582.4 128.2h1.15v1.15h-1.15zM583.3 127.9h1.15v1.15h-1.15zM593.7 127.9h1.15v1.15h-1.15zM595.1 128.2h1.15v1.15h-1.15zM562.1 129.5h1.15v1.15h-1.15zM563.1 129.3h1.15v1.15h-1.15zM564.9 129.4h1.15v1.15h-1.15zM566.2 129.4h1.15v1.15h-1.15zM567.9 129.6h1.15v1.15h-1.15zM569.2 129.9h1.15v1.15h-1.15zM570.8 129.8h1.15v1.15h-1.15zM572.3 129.9h1.15v1.15h-1.15zM573.4 129.7h1.15v1.15h-1.15zM574.8 129.2h1.15v1.15h-1.15zM576.1 129.2h1.15v1.15h-1.15zM578.2 129.8h1.15v1.15h-1.15zM579.1 129.8h1.15v1.15h-1.15zM580.7 129.9h1.15v1.15h-1.15zM581.8 129.3h1.15v1.15h-1.15zM583.3 129.7h1.15v1.15h-1.15zM585.1 129.8h1.15v1.15h-1.15zM593.9 129.5h1.15v1.15h-1.15zM595.5 129.8h1.15v1.15h-1.15zM596.3 129.4h1.15v1.15h-1.15zM562.2 131.2h1.15v1.15h-1.15zM563.4 130.8h1.15v1.15h-1.15zM565.1 131.1h1.15v1.15h-1.15zM567.6 131.1h1.15v1.15h-1.15zM568.9 130.7h1.15v1.15h-1.15zM570.8 131.2h1.15v1.15h-1.15zM572.0 131.0h1.15v1.15h-1.15zM573.4 130.9h1.15v1.15h-1.15zM575.2 130.7h1.15v1.15h-1.15zM576.0 130.7h1.15v1.15h-1.15zM580.7 130.8h1.15v1.15h-1.15zM581.9 130.8h1.15v1.15h-1.15zM583.6 130.8h1.15v1.15h-1.15zM585.2 131.1h1.15v1.15h-1.15zM595.4 130.9h1.15v1.15h-1.15zM596.9 131.0h1.15v1.15h-1.15zM572.2 132.3h1.15v1.15h-1.15zM573.6 132.5h1.15v1.15h-1.15zM575.2 132.5h1.15v1.15h-1.15zM576.2 132.2h1.15v1.15h-1.15zM586.8 132.4h1.15v1.15h-1.15zM588.1 132.6h1.15v1.15h-1.15zM589.4 132.4h1.15v1.15h-1.15zM573.2 133.7h1.15v1.15h-1.15zM575.1 133.8h1.15v1.15h-1.15zM576.1 133.9h1.15v1.15h-1.15zM585.3 133.9h1.15v1.15h-1.15zM586.7 134.2h1.15v1.15h-1.15zM588.2 133.9h1.15v1.15h-1.15zM589.6 133.7h1.15v1.15h-1.15zM573.2 135.1h1.15v1.15h-1.15zM575.0 135.1h1.15v1.15h-1.15zM576.7 135.2h1.15v1.15h-1.15zM585.1 135.3h1.15v1.15h-1.15zM586.4 135.0h1.15v1.15h-1.15zM588.0 135.5h1.15v1.15h-1.15zM589.6 135.0h1.15v1.15h-1.15zM563.4 136.8h1.15v1.15h-1.15zM570.6 136.5h1.15v1.15h-1.15zM572.1 136.8h1.15v1.15h-1.15zM573.6 136.6h1.15v1.15h-1.15zM574.9 136.9h1.15v1.15h-1.15zM576.4 137.1h1.15v1.15h-1.15zM577.5 136.8h1.15v1.15h-1.15zM579.1 136.7h1.15v1.15h-1.15zM581.0 137.0h1.15v1.15h-1.15zM582.2 136.5h1.15v1.15h-1.15zM583.7 136.9h1.15v1.15h-1.15zM585.3 137.0h1.15v1.15h-1.15zM586.6 136.6h1.15v1.15h-1.15zM587.8 136.6h1.15v1.15h-1.15zM589.3 136.6h1.15v1.15h-1.15zM564.5 137.9h1.15v1.15h-1.15zM568.9 138.1h1.15v1.15h-1.15zM570.7 138.2h1.15v1.15h-1.15zM571.8 138.0h1.15v1.15h-1.15zM573.6 138.2h1.15v1.15h-1.15zM574.6 138.4h1.15v1.15h-1.15zM576.2 138.3h1.15v1.15h-1.15zM578.0 138.2h1.15v1.15h-1.15zM579.6 138.3h1.15v1.15h-1.15zM580.4 138.3h1.15v1.15h-1.15zM581.9 138.2h1.15v1.15h-1.15zM583.4 138.5h1.15v1.15h-1.15zM585.0 138.5h1.15v1.15h-1.15zM586.3 138.2h1.15v1.15h-1.15zM565.1 140.0h1.15v1.15h-1.15zM566.0 139.5h1.15v1.15h-1.15zM568.0 139.6h1.15v1.15h-1.15zM569.3 139.7h1.15v1.15h-1.15zM570.6 139.8h1.15v1.15h-1.15zM572.3 139.7h1.15v1.15h-1.15zM573.2 139.5h1.15v1.15h-1.15zM575.2 140.0h1.15v1.15h-1.15zM576.4 139.6h1.15v1.15h-1.15zM577.7 139.7h1.15v1.15h-1.15zM579.3 139.6h1.15v1.15h-1.15zM580.4 139.5h1.15v1.15h-1.15zM582.3 139.6h1.15v1.15h-1.15zM566.3 140.9h1.15v1.15h-1.15zM567.6 141.0h1.15v1.15h-1.15zM569.2 140.8h1.15v1.15h-1.15zM576.2 141.2h1.15v1.15h-1.15zM517.2 115.1h1.15v1.15h-1.15zM518.3 115.0h1.15v1.15h-1.15zM520.0 115.2h1.15v1.15h-1.15zM521.1 115.2h1.15v1.15h-1.15zM522.9 115.1h1.15v1.15h-1.15zM524.5 114.9h1.15v1.15h-1.15zM525.3 115.1h1.15v1.15h-1.15zM531.1 114.9h1.15v1.15h-1.15zM532.6 115.2h1.15v1.15h-1.15zM534.6 115.4h1.15v1.15h-1.15zM516.5 116.3h1.15v1.15h-1.15zM518.2 116.7h1.15v1.15h-1.15zM522.7 116.5h1.15v1.15h-1.15zM523.8 116.4h1.15v1.15h-1.15zM525.9 116.5h1.15v1.15h-1.15zM531.1 116.8h1.15v1.15h-1.15zM533.1 116.2h1.15v1.15h-1.15zM534.1 116.4h1.15v1.15h-1.15zM536.0 116.3h1.15v1.15h-1.15zM537.3 116.8h1.15v1.15h-1.15zM538.9 116.3h1.15v1.15h-1.15zM515.8 117.6h1.15v1.15h-1.15zM516.7 117.8h1.15v1.15h-1.15zM518.5 117.7h1.15v1.15h-1.15zM522.8 117.9h1.15v1.15h-1.15zM523.9 117.6h1.15v1.15h-1.15zM525.3 117.8h1.15v1.15h-1.15zM531.2 117.9h1.15v1.15h-1.15zM533.0 117.7h1.15v1.15h-1.15zM534.5 118.2h1.15v1.15h-1.15zM535.8 117.9h1.15v1.15h-1.15zM537.3 117.8h1.15v1.15h-1.15zM538.3 117.9h1.15v1.15h-1.15zM516.9 119.2h1.15v1.15h-1.15zM522.9 119.2h1.15v1.15h-1.15zM524.3 119.4h1.15v1.15h-1.15zM525.3 119.6h1.15v1.15h-1.15zM531.4 119.7h1.15v1.15h-1.15zM532.5 119.1h1.15v1.15h-1.15zM534.2 119.1h1.15v1.15h-1.15zM535.6 119.7h1.15v1.15h-1.15zM537.5 119.1h1.15v1.15h-1.15zM522.3 120.7h1.15v1.15h-1.15zM523.9 120.9h1.15v1.15h-1.15zM525.9 121.0h1.15v1.15h-1.15zM533.0 120.6h1.15v1.15h-1.15zM534.6 120.6h1.15v1.15h-1.15zM535.4 121.1h1.15v1.15h-1.15zM547.6 120.7h1.15v1.15h-1.15zM548.6 121.0h1.15v1.15h-1.15zM549.9 120.9h1.15v1.15h-1.15zM523.0 122.5h1.15v1.15h-1.15zM523.9 122.3h1.15v1.15h-1.15zM525.3 122.2h1.15v1.15h-1.15zM532.8 122.5h1.15v1.15h-1.15zM534.5 122.2h1.15v1.15h-1.15zM535.6 122.3h1.15v1.15h-1.15zM547.1 122.4h1.15v1.15h-1.15zM518.5 123.4h1.15v1.15h-1.15zM519.6 124.0h1.15v1.15h-1.15zM521.1 124.0h1.15v1.15h-1.15zM522.8 123.8h1.15v1.15h-1.15zM526.8 123.6h1.15v1.15h-1.15zM528.5 124.0h1.15v1.15h-1.15zM530.0 123.4h1.15v1.15h-1.15zM531.2 123.6h1.15v1.15h-1.15zM532.5 123.7h1.15v1.15h-1.15zM534.1 123.4h1.15v1.15h-1.15zM535.7 124.0h1.15v1.15h-1.15zM537.1 123.6h1.15v1.15h-1.15zM538.4 123.6h1.15v1.15h-1.15zM526.8 125.5h1.15v1.15h-1.15zM528.2 125.2h1.15v1.15h-1.15zM530.1 125.0h1.15v1.15h-1.15zM531.2 124.9h1.15v1.15h-1.15zM534.2 125.0h1.15v1.15h-1.15zM536.0 125.0h1.15v1.15h-1.15zM536.9 125.1h1.15v1.15h-1.15zM538.8 125.2h1.15v1.15h-1.15zM510.7 116.7h1.15v1.15h-1.15zM502.0 117.6h1.15v1.15h-1.15zM503.7 117.7h1.15v1.15h-1.15zM505.2 118.1h1.15v1.15h-1.15zM506.2 117.9h1.15v1.15h-1.15zM507.7 118.0h1.15v1.15h-1.15zM509.2 118.1h1.15v1.15h-1.15zM510.5 117.6h1.15v1.15h-1.15zM512.5 117.9h1.15v1.15h-1.15zM513.6 117.5h1.15v1.15h-1.15zM514.9 117.7h1.15v1.15h-1.15zM503.4 119.4h1.15v1.15h-1.15zM504.9 119.5h1.15v1.15h-1.15zM514.0 119.1h1.15v1.15h-1.15zM515.3 119.1h1.15v1.15h-1.15zM510.9 123.5h1.15v1.15h-1.15zM511.9 123.6h1.15v1.15h-1.15zM513.4 123.9h1.15v1.15h-1.15zM509.6 125.4h1.15v1.15h-1.15zM510.8 125.4h1.15v1.15h-1.15zM512.4 125.4h1.15v1.15h-1.15zM517.8 125.1h1.15v1.15h-1.15zM519.3 124.9h1.15v1.15h-1.15zM520.8 125.3h1.15v1.15h-1.15zM510.4 126.6h1.15v1.15h-1.15zM512.2 126.7h1.15v1.15h-1.15zM518.2 126.9h1.15v1.15h-1.15zM519.6 126.2h1.15v1.15h-1.15zM521.2 126.4h1.15v1.15h-1.15zM527.0 126.3h1.15v1.15h-1.15zM528.1 126.9h1.15v1.15h-1.15zM529.9 126.4h1.15v1.15h-1.15zM531.1 126.2h1.15v1.15h-1.15zM516.8 128.0h1.15v1.15h-1.15zM517.9 128.1h1.15v1.15h-1.15zM519.7 128.1h1.15v1.15h-1.15zM520.9 128.2h1.15v1.15h-1.15zM522.6 128.2h1.15v1.15h-1.15zM527.0 128.2h1.15v1.15h-1.15zM528.5 127.9h1.15v1.15h-1.15zM515.2 129.6h1.15v1.15h-1.15zM516.9 129.5h1.15v1.15h-1.15zM517.8 129.5h1.15v1.15h-1.15zM519.6 129.6h1.15v1.15h-1.15zM520.8 129.3h1.15v1.15h-1.15zM522.1 129.4h1.15v1.15h-1.15zM523.8 129.8h1.15v1.15h-1.15zM525.5 129.6h1.15v1.15h-1.15zM526.7 129.3h1.15v1.15h-1.15zM514.9 131.0h1.15v1.15h-1.15zM516.5 131.3h1.15v1.15h-1.15zM517.9 130.9h1.15v1.15h-1.15zM519.8 130.9h1.15v1.15h-1.15zM520.8 130.9h1.15v1.15h-1.15zM515.0 132.0h1.15v1.15h-1.15zM516.7 132.5h1.15v1.15h-1.15zM515.4 133.5h1.15v1.15h-1.15zM516.8 134.1h1.15v1.15h-1.15zM516.5 135.3h1.15v1.15h-1.15zM549.9 121.8h1.15v1.15h-1.15zM551.8 121.6h1.15v1.15h-1.15zM552.6 121.9h1.15v1.15h-1.15zM554.4 121.5h1.15v1.15h-1.15zM547.1 123.3h1.15v1.15h-1.15zM548.3 123.4h1.15v1.15h-1.15zM550.2 123.4h1.15v1.15h-1.15zM551.7 123.1h1.15v1.15h-1.15zM552.8 123.4h1.15v1.15h-1.15zM554.3 122.9h1.15v1.15h-1.15zM555.6 123.2h1.15v1.15h-1.15zM545.4 124.8h1.15v1.15h-1.15zM547.3 124.2h1.15v1.15h-1.15zM548.8 124.8h1.15v1.15h-1.15zM550.1 124.6h1.15v1.15h-1.15zM551.4 124.6h1.15v1.15h-1.15zM556.0 124.6h1.15v1.15h-1.15zM557.3 124.2h1.15v1.15h-1.15zM558.8 124.9h1.15v1.15h-1.15zM559.9 124.7h1.15v1.15h-1.15zM544.4 126.2h1.15v1.15h-1.15zM546.0 125.8h1.15v1.15h-1.15zM547.5 125.9h1.15v1.15h-1.15zM548.5 126.1h1.15v1.15h-1.15zM549.9 125.8h1.15v1.15h-1.15zM551.3 126.2h1.15v1.15h-1.15zM555.6 125.7h1.15v1.15h-1.15zM557.2 125.6h1.15v1.15h-1.15zM558.5 126.3h1.15v1.15h-1.15zM560.0 126.0h1.15v1.15h-1.15zM547.4 127.1h1.15v1.15h-1.15zM548.3 127.7h1.15v1.15h-1.15zM549.9 127.2h1.15v1.15h-1.15zM551.7 127.3h1.15v1.15h-1.15zM552.9 127.5h1.15v1.15h-1.15zM554.6 127.2h1.15v1.15h-1.15zM555.6 127.6h1.15v1.15h-1.15zM557.2 127.5h1.15v1.15h-1.15zM558.9 127.6h1.15v1.15h-1.15zM560.1 127.4h1.15v1.15h-1.15zM551.7 129.2h1.15v1.15h-1.15zM552.8 129.1h1.15v1.15h-1.15zM554.1 129.1h1.15v1.15h-1.15zM555.9 128.8h1.15v1.15h-1.15zM557.3 128.5h1.15v1.15h-1.15zM558.9 129.0h1.15v1.15h-1.15zM560.5 128.9h1.15v1.15h-1.15zM561.5 128.6h1.15v1.15h-1.15zM551.6 130.1h1.15v1.15h-1.15zM553.0 130.4h1.15v1.15h-1.15zM554.4 130.3h1.15v1.15h-1.15zM555.6 130.6h1.15v1.15h-1.15zM557.4 130.5h1.15v1.15h-1.15zM558.4 130.1h1.15v1.15h-1.15zM560.5 130.4h1.15v1.15h-1.15zM561.3 130.6h1.15v1.15h-1.15zM554.4 131.5h1.15v1.15h-1.15zM555.5 132.0h1.15v1.15h-1.15zM556.9 131.7h1.15v1.15h-1.15zM559.0 131.7h1.15v1.15h-1.15zM560.0 131.8h1.15v1.15h-1.15zM561.7 131.6h1.15v1.15h-1.15zM545.4 136.4h1.15v1.15h-1.15zM544.4 137.5h1.15v1.15h-1.15zM545.5 137.2h1.15v1.15h-1.15zM547.2 137.4h1.15v1.15h-1.15zM544.5 139.0h1.15v1.15h-1.15zM545.8 139.0h1.15v1.15h-1.15zM547.1 138.7h1.15v1.15h-1.15zM547.4 140.2h1.15v1.15h-1.15zM535.0 125.8h1.15v1.15h-1.15zM531.1 127.3h1.15v1.15h-1.15zM532.5 127.0h1.15v1.15h-1.15zM533.7 127.0h1.15v1.15h-1.15zM535.6 127.1h1.15v1.15h-1.15zM537.1 126.9h1.15v1.15h-1.15zM529.2 128.5h1.15v1.15h-1.15zM530.6 128.4h1.15v1.15h-1.15zM532.4 128.8h1.15v1.15h-1.15zM533.7 128.9h1.15v1.15h-1.15zM535.2 128.9h1.15v1.15h-1.15zM527.9 129.7h1.15v1.15h-1.15zM529.3 129.8h1.15v1.15h-1.15zM530.8 130.4h1.15v1.15h-1.15zM532.5 129.9h1.15v1.15h-1.15zM533.7 129.9h1.15v1.15h-1.15zM535.0 130.2h1.15v1.15h-1.15zM531.2 131.4h1.15v1.15h-1.15zM532.2 131.7h1.15v1.15h-1.15zM523.7 135.9h1.15v1.15h-1.15zM524.9 136.1h1.15v1.15h-1.15zM526.4 135.9h1.15v1.15h-1.15zM528.1 136.1h1.15v1.15h-1.15zM529.5 136.1h1.15v1.15h-1.15zM525.2 137.5h1.15v1.15h-1.15zM526.7 137.1h1.15v1.15h-1.15zM528.4 137.2h1.15v1.15h-1.15zM529.7 137.5h1.15v1.15h-1.15zM530.9 137.1h1.15v1.15h-1.15zM526.6 138.8h1.15v1.15h-1.15zM527.9 138.7h1.15v1.15h-1.15zM529.8 138.9h1.15v1.15h-1.15zM531.3 139.1h1.15v1.15h-1.15zM524.1 140.3h1.15v1.15h-1.15zM525.0 140.4h1.15v1.15h-1.15zM526.7 140.4h1.15v1.15h-1.15zM528.3 140.2h1.15v1.15h-1.15zM529.8 140.3h1.15v1.15h-1.15zM530.9 140.1h1.15v1.15h-1.15zM523.9 141.6h1.15v1.15h-1.15zM525.0 141.9h1.15v1.15h-1.15zM526.8 141.4h1.15v1.15h-1.15zM531.1 141.5h1.15v1.15h-1.15zM532.7 141.9h1.15v1.15h-1.15zM534.1 141.5h1.15v1.15h-1.15zM535.2 141.8h1.15v1.15h-1.15zM544.2 141.9h1.15v1.15h-1.15zM545.6 142.0h1.15v1.15h-1.15zM522.1 143.3h1.15v1.15h-1.15zM531.3 142.9h1.15v1.15h-1.15zM532.1 143.0h1.15v1.15h-1.15zM533.7 142.9h1.15v1.15h-1.15zM535.2 142.9h1.15v1.15h-1.15zM536.7 143.3h1.15v1.15h-1.15zM543.9 143.4h1.15v1.15h-1.15zM545.8 143.3h1.15v1.15h-1.15zM535.3 144.8h1.15v1.15h-1.15zM536.6 144.7h1.15v1.15h-1.15zM538.2 144.6h1.15v1.15h-1.15zM540.0 144.5h1.15v1.15h-1.15zM541.1 144.5h1.15v1.15h-1.15zM542.8 144.5h1.15v1.15h-1.15zM543.9 144.2h1.15v1.15h-1.15zM545.5 144.4h1.15v1.15h-1.15zM535.5 146.2h1.15v1.15h-1.15zM536.6 145.8h1.15v1.15h-1.15zM538.4 145.9h1.15v1.15h-1.15zM539.9 146.3h1.15v1.15h-1.15zM541.2 146.1h1.15v1.15h-1.15zM542.4 146.3h1.15v1.15h-1.15zM535.0 147.2h1.15v1.15h-1.15zM536.5 147.4h1.15v1.15h-1.15zM538.0 147.8h1.15v1.15h-1.15zM539.9 147.5h1.15v1.15h-1.15zM540.9 147.2h1.15v1.15h-1.15zM542.8 147.1h1.15v1.15h-1.15zM544.1 147.5h1.15v1.15h-1.15zM533.8 148.6h1.15v1.15h-1.15zM535.5 148.9h1.15v1.15h-1.15zM536.5 149.0h1.15v1.15h-1.15zM538.3 148.7h1.15v1.15h-1.15zM539.5 149.2h1.15v1.15h-1.15zM540.9 149.0h1.15v1.15h-1.15zM542.8 148.6h1.15v1.15h-1.15zM544.1 148.9h1.15v1.15h-1.15zM562.4 137.7h1.15v1.15h-1.15zM562.7 139.4h1.15v1.15h-1.15zM544.9 140.7h1.15v1.15h-1.15zM546.7 141.1h1.15v1.15h-1.15zM546.3 142.4h1.15v1.15h-1.15zM565.4 141.9h1.15v1.15h-1.15zM566.5 142.3h1.15v1.15h-1.15zM567.1 143.4h1.15v1.15h-1.15zM553.5 148.3h1.15v1.15h-1.15zM543.8 149.5h1.15v1.15h-1.15zM544.9 149.6h1.15v1.15h-1.15zM546.3 149.7h1.15v1.15h-1.15zM547.6 149.3h1.15v1.15h-1.15zM549.2 149.6h1.15v1.15h-1.15zM551.1 149.3h1.15v1.15h-1.15zM552.1 149.4h1.15v1.15h-1.15zM553.8 149.1h1.15v1.15h-1.15zM555.2 149.4h1.15v1.15h-1.15zM543.7 151.2h1.15v1.15h-1.15zM545.2 151.0h1.15v1.15h-1.15zM546.6 151.0h1.15v1.15h-1.15zM547.9 151.2h1.15v1.15h-1.15zM549.1 151.0h1.15v1.15h-1.15zM551.1 151.0h1.15v1.15h-1.15zM552.4 150.6h1.15v1.15h-1.15zM554.0 150.7h1.15v1.15h-1.15zM543.4 152.3h1.15v1.15h-1.15zM545.3 152.0h1.15v1.15h-1.15zM546.6 152.2h1.15v1.15h-1.15zM547.8 152.7h1.15v1.15h-1.15zM549.3 152.5h1.15v1.15h-1.15zM550.5 152.6h1.15v1.15h-1.15zM552.3 152.2h1.15v1.15h-1.15zM545.3 153.7h1.15v1.15h-1.15zM546.4 153.8h1.15v1.15h-1.15zM547.6 154.0h1.15v1.15h-1.15zM544.9 155.3h1.15v1.15h-1.15zM546.7 155.0h1.15v1.15h-1.15zM548.2 155.3h1.15v1.15h-1.15zM544.8 156.6h1.15v1.15h-1.15zM477.8 136.5h1.15v1.15h-1.15zM479.7 136.2h1.15v1.15h-1.15zM480.9 136.1h1.15v1.15h-1.15zM482.2 136.6h1.15v1.15h-1.15zM483.4 136.7h1.15v1.15h-1.15zM478.0 138.0h1.15v1.15h-1.15zM479.3 137.7h1.15v1.15h-1.15zM481.0 137.9h1.15v1.15h-1.15zM482.6 137.5h1.15v1.15h-1.15zM483.8 137.8h1.15v1.15h-1.15zM476.3 139.4h1.15v1.15h-1.15zM478.2 138.9h1.15v1.15h-1.15zM479.6 139.1h1.15v1.15h-1.15zM480.7 139.1h1.15v1.15h-1.15zM482.4 139.0h1.15v1.15h-1.15zM483.9 139.0h1.15v1.15h-1.15zM475.3 140.4h1.15v1.15h-1.15zM476.3 140.8h1.15v1.15h-1.15zM478.1 140.3h1.15v1.15h-1.15zM479.1 141.0h1.15v1.15h-1.15zM480.6 140.4h1.15v1.15h-1.15zM482.0 140.5h1.15v1.15h-1.15zM484.0 140.3h1.15v1.15h-1.15zM485.0 140.9h1.15v1.15h-1.15zM486.8 140.9h1.15v1.15h-1.15zM472.2 142.1h1.15v1.15h-1.15zM473.4 141.8h1.15v1.15h-1.15zM475.0 142.2h1.15v1.15h-1.15zM476.5 142.4h1.15v1.15h-1.15zM477.9 142.2h1.15v1.15h-1.15zM479.3 141.8h1.15v1.15h-1.15zM480.6 142.3h1.15v1.15h-1.15zM482.5 142.2h1.15v1.15h-1.15zM484.0 142.1h1.15v1.15h-1.15zM485.0 142.5h1.15v1.15h-1.15zM486.7 142.4h1.15v1.15h-1.15zM472.0 143.4h1.15v1.15h-1.15zM473.2 143.9h1.15v1.15h-1.15zM474.7 143.8h1.15v1.15h-1.15zM476.1 143.7h1.15v1.15h-1.15zM478.1 143.8h1.15v1.15h-1.15zM479.1 143.6h1.15v1.15h-1.15zM481.0 143.7h1.15v1.15h-1.15zM483.9 143.4h1.15v1.15h-1.15zM485.5 143.3h1.15v1.15h-1.15zM486.5 143.6h1.15v1.15h-1.15zM473.4 145.1h1.15v1.15h-1.15zM475.3 145.3h1.15v1.15h-1.15zM485.0 145.3h1.15v1.15h-1.15zM473.5 146.1h1.15v1.15h-1.15zM474.8 146.3h1.15v1.15h-1.15zM485.2 146.4h1.15v1.15h-1.15zM486.3 146.5h1.15v1.15h-1.15zM473.8 147.6h1.15v1.15h-1.15zM475.2 147.9h1.15v1.15h-1.15zM473.3 149.2h1.15v1.15h-1.15zM474.7 149.6h1.15v1.15h-1.15zM476.4 149.2h1.15v1.15h-1.15zM472.4 150.9h1.15v1.15h-1.15zM473.5 150.7h1.15v1.15h-1.15zM475.3 151.0h1.15v1.15h-1.15zM476.6 151.2h1.15v1.15h-1.15zM481.1 150.6h1.15v1.15h-1.15zM482.2 150.5h1.15v1.15h-1.15zM473.2 152.4h1.15v1.15h-1.15zM475.3 152.0h1.15v1.15h-1.15zM476.4 152.5h1.15v1.15h-1.15zM477.9 152.5h1.15v1.15h-1.15zM479.2 152.3h1.15v1.15h-1.15zM476.4 153.4h1.15v1.15h-1.15zM477.6 153.8h1.15v1.15h-1.15zM479.6 153.9h1.15v1.15h-1.15zM477.8 155.1h1.15v1.15h-1.15zM479.1 155.3h1.15v1.15h-1.15zM477.8 156.5h1.15v1.15h-1.15zM465.0 158.2h1.15v1.15h-1.15zM465.0 159.4h1.15v1.15h-1.15zM466.1 159.8h1.15v1.15h-1.15zM467.6 159.7h1.15v1.15h-1.15zM464.9 161.2h1.15v1.15h-1.15zM466.0 160.7h1.15v1.15h-1.15zM467.5 161.0h1.15v1.15h-1.15zM465.0 162.3h1.15v1.15h-1.15zM465.9 162.1h1.15v1.15h-1.15zM473.7 162.2h1.15v1.15h-1.15zM479.6 162.5h1.15v1.15h-1.15zM480.7 162.1h1.15v1.15h-1.15zM481.9 162.2h1.15v1.15h-1.15zM473.3 163.9h1.15v1.15h-1.15zM481.0 163.9h1.15v1.15h-1.15zM482.0 163.9h1.15v1.15h-1.15zM472.1 166.7h1.15v1.15h-1.15zM487.4 141.0h1.15v1.15h-1.15zM487.3 142.8h1.15v1.15h-1.15zM494.1 143.1h1.15v1.15h-1.15zM487.0 144.2h1.15v1.15h-1.15zM494.3 144.5h1.15v1.15h-1.15zM487.2 145.6h1.15v1.15h-1.15zM488.2 145.8h1.15v1.15h-1.15zM492.8 145.9h1.15v1.15h-1.15zM494.0 145.4h1.15v1.15h-1.15zM495.7 145.9h1.15v1.15h-1.15zM487.1 147.1h1.15v1.15h-1.15zM488.5 147.1h1.15v1.15h-1.15zM492.7 146.8h1.15v1.15h-1.15zM493.9 147.3h1.15v1.15h-1.15zM495.6 147.0h1.15v1.15h-1.15zM496.9 147.2h1.15v1.15h-1.15zM490.2 148.6h1.15v1.15h-1.15zM491.2 148.3h1.15v1.15h-1.15zM493.1 148.3h1.15v1.15h-1.15zM494.4 148.5h1.15v1.15h-1.15zM495.4 148.4h1.15v1.15h-1.15zM497.4 148.4h1.15v1.15h-1.15zM498.5 148.7h1.15v1.15h-1.15zM499.8 148.4h1.15v1.15h-1.15zM489.9 150.0h1.15v1.15h-1.15zM491.5 149.7h1.15v1.15h-1.15zM493.2 149.8h1.15v1.15h-1.15zM498.8 150.0h1.15v1.15h-1.15zM500.0 150.3h1.15v1.15h-1.15zM490.3 151.4h1.15v1.15h-1.15zM491.4 151.4h1.15v1.15h-1.15zM492.5 151.2h1.15v1.15h-1.15zM494.4 151.4h1.15v1.15h-1.15zM495.6 151.8h1.15v1.15h-1.15zM489.7 152.6h1.15v1.15h-1.15zM491.4 153.1h1.15v1.15h-1.15zM492.8 153.1h1.15v1.15h-1.15zM494.6 152.7h1.15v1.15h-1.15zM490.1 154.3h1.15v1.15h-1.15zM491.1 154.2h1.15v1.15h-1.15zM489.7 156.1h1.15v1.15h-1.15zM491.2 155.8h1.15v1.15h-1.15zM488.8 157.4h1.15v1.15h-1.15zM489.7 157.0h1.15v1.15h-1.15zM491.2 157.6h1.15v1.15h-1.15zM485.3 158.8h1.15v1.15h-1.15zM487.4 158.4h1.15v1.15h-1.15zM488.7 158.5h1.15v1.15h-1.15zM489.7 158.5h1.15v1.15h-1.15zM485.3 160.1h1.15v1.15h-1.15zM487.1 160.0h1.15v1.15h-1.15zM488.7 160.1h1.15v1.15h-1.15zM489.6 160.1h1.15v1.15h-1.15zM484.1 161.4h1.15v1.15h-1.15zM485.5 161.5h1.15v1.15h-1.15zM487.0 161.8h1.15v1.15h-1.15zM488.1 161.9h1.15v1.15h-1.15zM490.1 161.4h1.15v1.15h-1.15zM491.2 161.8h1.15v1.15h-1.15zM484.4 163.1h1.15v1.15h-1.15zM485.3 163.4h1.15v1.15h-1.15zM487.1 162.7h1.15v1.15h-1.15zM488.4 163.0h1.15v1.15h-1.15zM489.6 163.3h1.15v1.15h-1.15zM491.6 163.1h1.15v1.15h-1.15zM482.8 164.8h1.15v1.15h-1.15zM484.3 164.4h1.15v1.15h-1.15zM485.7 164.3h1.15v1.15h-1.15zM486.9 164.2h1.15v1.15h-1.15zM488.3 164.7h1.15v1.15h-1.15zM490.1 164.7h1.15v1.15h-1.15zM491.1 164.2h1.15v1.15h-1.15zM482.6 165.7h1.15v1.15h-1.15zM483.9 166.1h1.15v1.15h-1.15zM485.4 166.1h1.15v1.15h-1.15zM487.2 165.6h1.15v1.15h-1.15zM488.1 165.9h1.15v1.15h-1.15zM482.6 167.5h1.15v1.15h-1.15zM484.2 167.3h1.15v1.15h-1.15zM485.9 167.1h1.15v1.15h-1.15zM487.2 167.5h1.15v1.15h-1.15zM483.0 168.9h1.15v1.15h-1.15zM484.2 168.8h1.15v1.15h-1.15zM485.4 169.2h1.15v1.15h-1.15zM486.9 169.0h1.15v1.15h-1.15zM488.3 168.6h1.15v1.15h-1.15zM482.8 170.3h1.15v1.15h-1.15zM484.3 170.1h1.15v1.15h-1.15zM482.8 171.7h1.15v1.15h-1.15zM499.0 150.8h1.15v1.15h-1.15zM500.4 150.8h1.15v1.15h-1.15zM502.2 150.8h1.15v1.15h-1.15zM503.7 150.8h1.15v1.15h-1.15zM504.7 150.6h1.15v1.15h-1.15zM506.3 151.0h1.15v1.15h-1.15zM507.8 151.0h1.15v1.15h-1.15zM508.9 150.5h1.15v1.15h-1.15zM510.3 150.8h1.15v1.15h-1.15zM512.0 150.6h1.15v1.15h-1.15zM513.3 150.5h1.15v1.15h-1.15zM496.0 152.5h1.15v1.15h-1.15zM497.5 152.2h1.15v1.15h-1.15zM499.2 151.9h1.15v1.15h-1.15zM501.9 152.4h1.15v1.15h-1.15zM503.7 152.0h1.15v1.15h-1.15zM505.0 152.0h1.15v1.15h-1.15zM506.2 152.0h1.15v1.15h-1.15zM507.8 152.0h1.15v1.15h-1.15zM509.3 152.5h1.15v1.15h-1.15zM510.6 152.1h1.15v1.15h-1.15zM512.4 152.4h1.15v1.15h-1.15zM513.4 152.6h1.15v1.15h-1.15zM493.3 154.0h1.15v1.15h-1.15zM495.0 153.7h1.15v1.15h-1.15zM496.1 153.7h1.15v1.15h-1.15zM504.6 153.5h1.15v1.15h-1.15zM515.1 153.9h1.15v1.15h-1.15zM516.2 153.8h1.15v1.15h-1.15zM517.7 153.8h1.15v1.15h-1.15zM519.3 153.4h1.15v1.15h-1.15zM521.0 153.7h1.15v1.15h-1.15zM493.1 155.2h1.15v1.15h-1.15zM494.5 155.4h1.15v1.15h-1.15zM496.4 155.3h1.15v1.15h-1.15zM515.2 155.4h1.15v1.15h-1.15zM516.2 155.4h1.15v1.15h-1.15zM517.6 155.3h1.15v1.15h-1.15zM519.3 154.8h1.15v1.15h-1.15zM521.0 155.2h1.15v1.15h-1.15zM493.6 156.4h1.15v1.15h-1.15zM494.9 156.9h1.15v1.15h-1.15zM496.5 156.5h1.15v1.15h-1.15zM502.0 156.9h1.15v1.15h-1.15zM503.5 156.4h1.15v1.15h-1.15zM505.2 156.2h1.15v1.15h-1.15zM513.9 156.5h1.15v1.15h-1.15zM515.3 156.9h1.15v1.15h-1.15zM516.3 156.3h1.15v1.15h-1.15zM517.7 156.5h1.15v1.15h-1.15zM519.3 156.5h1.15v1.15h-1.15zM520.5 156.6h1.15v1.15h-1.15zM502.2 158.2h1.15v1.15h-1.15zM503.1 158.3h1.15v1.15h-1.15zM505.0 157.9h1.15v1.15h-1.15zM506.6 157.9h1.15v1.15h-1.15zM508.1 158.3h1.15v1.15h-1.15zM508.9 157.9h1.15v1.15h-1.15zM510.5 158.1h1.15v1.15h-1.15zM512.3 158.0h1.15v1.15h-1.15zM513.8 157.9h1.15v1.15h-1.15zM514.9 158.0h1.15v1.15h-1.15zM516.5 157.8h1.15v1.15h-1.15zM518.0 158.3h1.15v1.15h-1.15zM519.5 157.9h1.15v1.15h-1.15zM520.7 157.9h1.15v1.15h-1.15zM501.7 159.4h1.15v1.15h-1.15zM503.7 159.8h1.15v1.15h-1.15zM505.1 159.8h1.15v1.15h-1.15zM506.0 159.3h1.15v1.15h-1.15zM507.9 159.5h1.15v1.15h-1.15zM508.9 159.2h1.15v1.15h-1.15zM510.5 159.2h1.15v1.15h-1.15zM511.8 159.4h1.15v1.15h-1.15zM513.7 159.7h1.15v1.15h-1.15zM515.2 159.4h1.15v1.15h-1.15zM516.2 159.4h1.15v1.15h-1.15zM518.1 159.4h1.15v1.15h-1.15zM519.3 159.8h1.15v1.15h-1.15zM520.6 159.7h1.15v1.15h-1.15zM493.2 160.9h1.15v1.15h-1.15zM501.9 161.2h1.15v1.15h-1.15zM503.5 161.2h1.15v1.15h-1.15zM504.8 160.8h1.15v1.15h-1.15zM506.4 160.8h1.15v1.15h-1.15zM507.8 161.2h1.15v1.15h-1.15zM509.2 160.8h1.15v1.15h-1.15zM510.5 160.9h1.15v1.15h-1.15zM512.3 161.0h1.15v1.15h-1.15zM513.8 161.1h1.15v1.15h-1.15zM514.9 160.8h1.15v1.15h-1.15zM516.2 161.0h1.15v1.15h-1.15zM517.8 161.2h1.15v1.15h-1.15zM519.2 161.1h1.15v1.15h-1.15zM520.6 160.7h1.15v1.15h-1.15zM493.2 162.2h1.15v1.15h-1.15zM494.4 162.1h1.15v1.15h-1.15zM496.1 162.5h1.15v1.15h-1.15zM509.3 162.2h1.15v1.15h-1.15zM510.8 162.3h1.15v1.15h-1.15zM512.4 162.7h1.15v1.15h-1.15zM513.9 162.2h1.15v1.15h-1.15zM519.6 162.7h1.15v1.15h-1.15zM492.0 164.1h1.15v1.15h-1.15zM493.0 164.1h1.15v1.15h-1.15zM494.8 164.1h1.15v1.15h-1.15zM496.0 163.6h1.15v1.15h-1.15zM497.5 163.7h1.15v1.15h-1.15zM509.3 164.0h1.15v1.15h-1.15zM510.6 164.1h1.15v1.15h-1.15zM512.3 163.9h1.15v1.15h-1.15zM513.9 163.6h1.15v1.15h-1.15zM518.2 163.7h1.15v1.15h-1.15zM519.3 163.6h1.15v1.15h-1.15zM493.0 165.6h1.15v1.15h-1.15zM494.9 165.3h1.15v1.15h-1.15zM496.2 165.5h1.15v1.15h-1.15zM506.7 165.0h1.15v1.15h-1.15zM507.5 165.6h1.15v1.15h-1.15zM509.4 165.0h1.15v1.15h-1.15zM510.4 165.3h1.15v1.15h-1.15zM512.3 165.1h1.15v1.15h-1.15zM513.4 165.2h1.15v1.15h-1.15zM515.0 165.2h1.15v1.15h-1.15zM516.2 165.2h1.15v1.15h-1.15zM517.9 165.3h1.15v1.15h-1.15zM519.6 165.4h1.15v1.15h-1.15zM520.7 165.6h1.15v1.15h-1.15zM522.0 165.0h1.15v1.15h-1.15zM493.1 167.0h1.15v1.15h-1.15zM494.4 166.6h1.15v1.15h-1.15zM496.0 166.4h1.15v1.15h-1.15zM506.6 167.1h1.15v1.15h-1.15zM507.7 166.7h1.15v1.15h-1.15zM509.3 166.4h1.15v1.15h-1.15zM510.6 166.9h1.15v1.15h-1.15zM512.0 166.7h1.15v1.15h-1.15zM513.5 166.6h1.15v1.15h-1.15zM514.8 166.6h1.15v1.15h-1.15zM516.7 166.6h1.15v1.15h-1.15zM518.0 166.9h1.15v1.15h-1.15zM519.2 166.6h1.15v1.15h-1.15zM493.5 168.3h1.15v1.15h-1.15zM494.6 168.2h1.15v1.15h-1.15zM496.2 168.3h1.15v1.15h-1.15zM506.2 168.0h1.15v1.15h-1.15zM507.7 168.1h1.15v1.15h-1.15zM509.2 168.1h1.15v1.15h-1.15zM510.6 167.9h1.15v1.15h-1.15zM512.1 168.2h1.15v1.15h-1.15zM513.5 168.0h1.15v1.15h-1.15zM515.0 168.2h1.15v1.15h-1.15zM516.7 168.5h1.15v1.15h-1.15zM518.1 167.9h1.15v1.15h-1.15zM493.1 169.3h1.15v1.15h-1.15zM494.8 169.4h1.15v1.15h-1.15zM496.3 169.4h1.15v1.15h-1.15zM497.3 169.9h1.15v1.15h-1.15zM500.2 169.8h1.15v1.15h-1.15zM506.2 169.4h1.15v1.15h-1.15zM508.0 169.7h1.15v1.15h-1.15zM517.8 169.6h1.15v1.15h-1.15zM519.5 169.6h1.15v1.15h-1.15zM521.0 169.4h1.15v1.15h-1.15zM522.4 169.7h1.15v1.15h-1.15zM523.5 169.8h1.15v1.15h-1.15zM494.7 171.1h1.15v1.15h-1.15zM496.2 170.8h1.15v1.15h-1.15zM497.8 171.2h1.15v1.15h-1.15zM499.2 171.3h1.15v1.15h-1.15zM500.6 170.9h1.15v1.15h-1.15zM501.9 171.0h1.15v1.15h-1.15zM519.2 170.9h1.15v1.15h-1.15zM520.6 171.4h1.15v1.15h-1.15zM522.5 170.9h1.15v1.15h-1.15zM523.8 171.4h1.15v1.15h-1.15zM525.0 170.8h1.15v1.15h-1.15zM524.9 172.3h1.15v1.15h-1.15zM485.4 113.9h1.15v1.15h-1.15zM486.8 114.2h1.15v1.15h-1.15zM485.7 115.4h1.15v1.15h-1.15zM487.3 115.5h1.15v1.15h-1.15zM487.3 116.5h1.15v1.15h-1.15zM494.1 117.0h1.15v1.15h-1.15zM496.0 117.0h1.15v1.15h-1.15zM487.4 124.2h1.15v1.15h-1.15zM485.6 125.2h1.15v1.15h-1.15zM487.1 125.3h1.15v1.15h-1.15zM488.7 125.7h1.15v1.15h-1.15zM490.1 125.5h1.15v1.15h-1.15zM485.6 126.9h1.15v1.15h-1.15zM487.0 126.7h1.15v1.15h-1.15zM488.4 126.8h1.15v1.15h-1.15zM485.4 128.4h1.15v1.15h-1.15zM487.4 128.2h1.15v1.15h-1.15zM494.6 128.3h1.15v1.15h-1.15zM484.2 129.9h1.15v1.15h-1.15zM485.3 130.0h1.15v1.15h-1.15zM486.9 129.8h1.15v1.15h-1.15zM494.0 129.6h1.15v1.15h-1.15zM495.8 129.6h1.15v1.15h-1.15zM482.4 130.9h1.15v1.15h-1.15zM484.4 131.4h1.15v1.15h-1.15zM485.8 131.4h1.15v1.15h-1.15zM487.2 131.1h1.15v1.15h-1.15zM494.5 130.9h1.15v1.15h-1.15zM495.6 131.4h1.15v1.15h-1.15zM481.4 132.7h1.15v1.15h-1.15zM483.0 132.8h1.15v1.15h-1.15zM483.9 132.5h1.15v1.15h-1.15zM490.2 132.9h1.15v1.15h-1.15zM491.3 132.8h1.15v1.15h-1.15zM492.7 132.8h1.15v1.15h-1.15zM494.4 132.6h1.15v1.15h-1.15zM495.6 133.0h1.15v1.15h-1.15zM497.0 132.8h1.15v1.15h-1.15zM481.1 133.9h1.15v1.15h-1.15zM482.8 134.1h1.15v1.15h-1.15zM484.2 134.1h1.15v1.15h-1.15zM488.9 134.1h1.15v1.15h-1.15zM490.1 133.8h1.15v1.15h-1.15zM491.3 134.0h1.15v1.15h-1.15zM492.9 133.8h1.15v1.15h-1.15zM494.4 134.2h1.15v1.15h-1.15zM483.0 135.6h1.15v1.15h-1.15zM493.2 135.2h1.15v1.15h-1.15zM494.6 135.7h1.15v1.15h-1.15zM502.1 133.2h1.15v1.15h-1.15zM503.6 133.3h1.15v1.15h-1.15zM502.6 134.8h1.15v1.15h-1.15zM503.7 134.6h1.15v1.15h-1.15zM495.0 135.8h1.15v1.15h-1.15zM502.0 145.9h1.15v1.15h-1.15zM504.1 145.8h1.15v1.15h-1.15zM502.5 147.3h1.15v1.15h-1.15zM503.7 147.3h1.15v1.15h-1.15zM524.3 137.2h1.15v1.15h-1.15zM524.6 138.8h1.15v1.15h-1.15zM511.3 141.7h1.15v1.15h-1.15zM513.0 141.9h1.15v1.15h-1.15zM511.0 143.1h1.15v1.15h-1.15zM512.5 142.9h1.15v1.15h-1.15zM508.7 150.0h1.15v1.15h-1.15zM509.8 149.4h1.15v1.15h-1.15zM511.3 149.6h1.15v1.15h-1.15zM531.5 149.5h1.15v1.15h-1.15zM533.0 149.6h1.15v1.15h-1.15zM534.1 149.2h1.15v1.15h-1.15zM528.6 150.9h1.15v1.15h-1.15zM530.1 151.0h1.15v1.15h-1.15zM531.2 150.9h1.15v1.15h-1.15zM532.5 150.5h1.15v1.15h-1.15zM534.5 151.0h1.15v1.15h-1.15zM535.8 150.5h1.15v1.15h-1.15zM537.3 150.6h1.15v1.15h-1.15zM538.8 150.4h1.15v1.15h-1.15zM539.9 151.0h1.15v1.15h-1.15zM541.6 150.9h1.15v1.15h-1.15zM533.1 152.1h1.15v1.15h-1.15zM541.2 159.3h1.15v1.15h-1.15zM522.7 162.0h1.15v1.15h-1.15zM523.9 162.6h1.15v1.15h-1.15zM525.2 162.2h1.15v1.15h-1.15zM521.5 163.4h1.15v1.15h-1.15zM522.5 163.4h1.15v1.15h-1.15zM523.8 164.0h1.15v1.15h-1.15zM525.5 163.8h1.15v1.15h-1.15zM526.6 164.0h1.15v1.15h-1.15zM528.3 165.1h1.15v1.15h-1.15zM529.9 165.4h1.15v1.15h-1.15zM531.4 165.3h1.15v1.15h-1.15zM528.4 166.9h1.15v1.15h-1.15zM530.0 167.0h1.15v1.15h-1.15zM531.3 166.8h1.15v1.15h-1.15zM528.2 168.1h1.15v1.15h-1.15zM529.6 168.0h1.15v1.15h-1.15zM536.4 56.2h1.15v1.15h-1.15zM537.3 56.4h1.15v1.15h-1.15zM535.0 57.5h1.15v1.15h-1.15zM536.0 57.8h1.15v1.15h-1.15zM537.4 57.8h1.15v1.15h-1.15zM535.0 59.3h1.15v1.15h-1.15zM533.6 66.5h1.15v1.15h-1.15zM535.0 66.4h1.15v1.15h-1.15zM536.4 66.7h1.15v1.15h-1.15zM537.7 66.4h1.15v1.15h-1.15zM540.5 70.7h1.15v1.15h-1.15zM541.6 71.2h1.15v1.15h-1.15zM453.7 66.9h1.15v1.15h-1.15z" fill="#d49653" stroke="#ad7642" stroke-width="0.15"/>
<polygon points="631.2,60.0 633.4,56.2 637.7,51.9 642.0,49.7 647.4,48.1 652.3,47.6 655.5,49.2 657.1,51.9 660.4,53.0 665.8,54.6 672.3,57.3 677.7,61.6 680.9,65.9 682.5,70.2 684.7,73.5 684.7,75.6 682.0,85.4 678.7,91.9 675.5,98.3 675.0,104.8 676.6,111.3 679.8,117.8 680.4,120.0 678.5,119.5 673.3,113.5 660.4,101.6 647.4,89.7 639.8,83.2 636.6,77.8 636.0,75.6 640.0,75.0 644.2,74.6 645.8,71.3 644.7,68.1 639.8,70.2 635.5,70.8 632.8,68.1 631.2,63.8" fill="#fff" stroke="#999" stroke-width="0.5"/>
<polygon points="576.8,59.8 581.6,57.0 588.2,59.8 598.6,62.7 606.2,63.6 611.9,63.3 620.5,62.1 625.2,64.6 627.1,71.2 625.2,74.1 617.6,74.1 611.9,75.0 606.2,75.4 600.5,76.9 595.8,76.0 593.0,73.1 589.2,70.3 583.5,66.5 578.7,63.6" fill="#fff" stroke="#999" stroke-width="0.5"/>
<polygon points="497.6,174.4 508.0,173.1 514.7,171.8 520.0,173.1 520.6,175.7 524.5,179.7 521.9,183.6 516.0,188.9 512.0,188.9 505.5,183.6 498.9,177.0" fill="#e6eef8" stroke="#999" stroke-width="0.5"/>
<polygon points="394.9,165.1 399.0,163.4 405.0,159.5 411.9,155.2 416.5,152.8 423.5,152.3 422.0,156.0 418.9,160.4 416.0,162.8 416.0,164.5 419.5,164.0 422.4,161.6 426.0,156.0 429.4,151.7 432.9,151.7 438.7,151.7 442.2,152.8 444.6,156.4 448.1,160.4 452.2,163.4 452.2,165.7 448.1,166.9 444.0,167.0 441.6,168.0 446.9,169.2 445.7,172.1 442.2,174.5 438.7,173.9 435.2,171.0 431.7,168.6 430.0,169.2 431.1,171.0 435.2,173.9 434.1,175.6 428.2,178.5 422.4,180.9 421.0,177.0 420.0,173.9 417.7,171.0 415.9,169.2 413.0,171.0 414.5,175.0 417.1,180.9 419.5,186.7 418.9,189.0 414.2,192.6 410.1,196.1 408.4,200.1 405.4,196.6 404.9,192.6 400.2,185.0 397.8,178.5 395.5,170.4" fill="#fff" stroke="#999" stroke-width="0.5"/>
<polygon points="452.2,192.3 455.7,190.2 461.8,191.4 467.0,188.4 471.4,189.6 475.8,194.0 478.4,198.9 474.0,198.4 467.9,197.5 462.7,196.6 457.4,194.9 453.0,194.0" fill="#fff" stroke="#999" stroke-width="0.5"/>
<polygon points="430.3,212.4 435.5,208.0 441.6,206.3 445.1,208.0 448.7,213.3 442.5,214.2 435.5,214.2" fill="#fff" stroke="#999" stroke-width="0.5"/>
<polygon points="464.4,204.5 466.2,208.9 467.0,213.3 469.7,210.7 475.8,208.9 480.2,209.8 481.1,214.2 477.6,219.4 472.3,224.7 467.9,222.9 466.2,218.5 464.4,215.0" fill="#fff" stroke="#999" stroke-width="0.5"/>
<polygon points="437.3,225.5 440.8,222.9 445.1,222.0 446.9,224.7 444.3,227.3 439.0,229.4" fill="#fff" stroke="#999" stroke-width="0.5"/>
<polygon points="487.2,208.9 489.0,209.5 492.4,214.5 491.5,215.2 488.0,211.0" fill="#fff" stroke="#999" stroke-width="0.5"/>
<polygon points="523.0,185.0 526.0,184.4 529.0,186.5 527.5,189.6 524.0,189.0" fill="#fff" stroke="#999" stroke-width="0.5"/>
<polygon points="515.2,193.0 517.5,191.4 520.5,194.0 519.0,197.5 516.0,196.5" fill="#fff" stroke="#999" stroke-width="0.5"/>
<polygon points="521.0,201.0 524.0,196.0 527.0,194.0 530.0,193.0 532.0,196.0 534.5,199.0 531.0,202.0 528.0,200.0 525.0,205.0 522.0,206.0" fill="#fff" stroke="#999" stroke-width="0.5"/>
<polygon points="457.4,196.6 461.8,197.5 460.5,199.6 457.8,199.3" fill="#fff" stroke="#999" stroke-width="0.5"/>
<polygon points="588.5,71.0 592.0,70.3 595.8,73.0 594.0,76.5 590.0,77.0" fill="#fff" stroke="#999" stroke-width="0.5"/>
<polygon points="444.3,233.0 449.0,231.7 453.9,233.0 451.0,235.0 446.0,235.0" fill="#fff" stroke="#999" stroke-width="0.5"/>
<polyline points="535.2,152.0 540.5,156.5 537.0,163.0" fill="none" stroke="#888" stroke-width="0.35"/>
<polyline points="525.1,156.0 529.0,158.0 532.0,159.0" fill="none" stroke="#888" stroke-width="0.35"/>
<polyline points="523.4,158.6 527.0,163.0 528.5,165.5" fill="none" stroke="#888" stroke-width="0.35"/>
<polygon points="509.6,172.5 513,171.6 517,172 519.9,174.5 518,177.2 513,177.2 510.5,175.5" fill="#9fc2e3" stroke="#888" stroke-width="0.3"/></g>
<g id="mapb" transform="matrix(1 0 0 1 0 0)"><polygon points="387.6,208.6 379.0,207.1 369.5,204.8 364.3,202.9 363.3,201.0 363.3,185.2 365.7,183.8 365.2,181.9 365.7,179.0 366.7,177.1 363.8,174.8 363.3,173.3 364.3,167.6 366.7,161.9 369.5,160.0 372.9,157.6 372.4,154.3 370.5,149.5 372.4,143.8 374.3,140.0 375.0,128.0 379.0,116.0 381.8,111.3 384.5,110.0 385.8,106.7 390.0,99.0 393.7,94.9 398.0,79.0 401.0,71.0 408.0,62.0 408.0,57.0 417.0,53.0 422.0,52.0 429.0,45.0 435.0,42.0 442.0,40.6 448.0,43.0 451.0,47.0 453.0,50.0 454.0,45.0 464.0,44.0 471.0,43.0 471.0,39.0 478.4,35.3 486.4,33.1 494.4,27.3 498.8,26.6 505.4,27.3 506.1,31.0 508.3,28.8 510.5,30.2 513.4,33.9 516.3,32.4 523.6,33.9 528.0,35.0 533.0,40.0 538.0,45.0 539.0,51.0 536.0,56.0 543.0,54.0 550.0,58.0 556.0,62.0 558.0,63.5 565.0,62.0 572.0,67.0 578.0,74.0 582.8,76.4 584.6,80.0 587.4,83.7 593.8,87.4 602.0,89.2 607.4,86.5 607.4,82.8 614.7,81.9 622.0,82.8 626.6,87.4 629.3,94.7 631.2,97.4 636.6,98.3 644.0,102.0 646.7,105.6 638.5,131.2 636.6,134.8 623.9,138.5 616.6,136.6 613.8,133.0 600.1,134.4 588.3,138.4 572.6,143.6 565.5,146.7 560.0,148.5 554.1,152.7 548.8,156.0 545.3,157.8 543.5,159.5 540.0,161.3 533.9,165.7 531.3,169.2 527.8,170.0 526.5,173.5 521.0,172.2 504.7,172.2 498.9,172.8 493.0,171.0 492.0,169.2 488.5,169.2 482.4,177.5 478.9,173.5 483.3,165.7 475.8,161.3 472.8,168.3 459.6,158.6 463.1,156.5 471.0,160.4 473.2,157.8 466.6,152.5 466.2,148.1 463.1,146.8 458.8,147.3 450.0,146.4 447.0,147.0 439.9,145.8 433.5,140.0 432.9,140.0 429.4,141.2 427.0,143.5 423.5,144.1 421.2,141.8 415.4,141.2 414.2,145.8 411.9,143.5 406.0,141.8 408.4,144.1 412.4,147.0 408.4,150.5 403.7,152.8 400.2,150.5 396.1,147.6 393.2,145.3 389.7,142.3 386.5,140.5 388.6,145.7 390.5,151.4 392.4,157.1 391.4,160.0 385.7,161.0 385.7,167.6 388.6,167.6 388.6,173.3 370.5,173.3 370.5,178.1 388.6,178.1 388.6,182.9 383.8,184.8 370.5,184.8 370.5,189.5 392.4,188.6 392.4,195.2 370.5,195.2 370.5,201.0 397.6,201.0 398.1,204.3 392.4,206.7" fill="#fff" stroke="#999" stroke-width="0.5"/>
<polygon points="402.9,125.0 409.4,125.0 412.0,126.4 423.9,127.0 438.7,126.0 438.7,135.0 432.0,137.0 433.5,140.0 432.9,140.0 429.4,141.2 427.0,143.5 423.5,144.1 421.2,141.8 415.4,141.2 414.2,145.8 411.9,143.5 406.0,141.8 408.4,144.1 412.4,147.0 408.4,150.5 403.7,152.8 400.2,150.5 396.1,147.6 393.2,145.3 391.0,145.0 396.3,137.6" fill="#ffffff" stroke="#777" stroke-width="0.4"/>
<polygon points="384.5,110.0 385.8,106.7 390.0,99.0 393.7,94.9 398.0,79.0 401.0,71.0 408.0,62.0 408.0,57.0 417.0,53.0 422.0,52.0 424.0,57.0 427.0,64.0 430.0,67.0 435.0,68.0 442.0,68.0 449.0,62.0 453.0,56.0 454.0,72.0 454.0,85.0 450.0,90.3 446.2,93.5 439.6,96.8 431.8,101.4 430.4,102.1 422.6,110.0 414.7,117.8 409.4,125.0 402.9,125.0 396.3,121.8 393.7,116.5 389.7,113.9" fill="#ffffff" stroke="#777" stroke-width="0.4"/>
<polygon points="422.0,52.0 429.0,45.0 435.0,42.0 442.0,40.6 448.0,43.0 451.0,47.0 453.0,50.0 453.0,56.0 449.0,62.0 442.0,68.0 435.0,68.0 430.0,67.0 427.0,64.0 424.0,57.0" fill="#ffffff" stroke="#777" stroke-width="0.4"/>
<polygon points="453.0,50.0 454.0,45.0 464.0,44.0 471.0,43.0 472.5,59.4 474.0,68.9 475.0,80.0 473.0,83.0 463.0,84.0 462.0,83.0 460.0,73.0 456.0,73.0 454.0,72.0 453.0,56.0" fill="#ffffff" stroke="#777" stroke-width="0.4"/>
<polygon points="454.0,72.0 456.0,73.0 460.0,73.0 462.0,83.0 463.0,84.0 466.0,91.0 460.0,93.0 455.5,97.2 452.0,95.0 448.0,92.9 450.0,90.3 454.0,85.0" fill="#abd6bc" stroke="#777" stroke-width="0.4"/>
<polygon points="430.4,102.1 431.8,101.4 439.6,96.8 446.2,93.5 448.0,92.9 452.0,95.0 455.5,97.2 450.4,106.4 448.8,109.3 443.6,108.7 438.3,108.0 433.0,104.7" fill="#ffffff" stroke="#777" stroke-width="0.4"/>
<polygon points="409.4,125.0 414.7,117.8 422.6,110.0 430.4,102.1 433.0,104.7 438.3,108.0 443.6,108.7 448.8,109.3 450.4,114.0 442.5,114.5 442.5,126.0 438.7,126.0 423.9,127.0 412.0,126.4" fill="#9db6a6" stroke="#777" stroke-width="0.4"/>
<polygon points="455.5,97.2 460.0,93.0 466.0,91.0 468.8,96.1 471.4,104.3 472.4,111.5 468.8,114.5 469.3,119.6 475.0,127.8 458.6,117.6 450.4,114.0 448.8,109.3 450.4,106.4" fill="#9db6a6" stroke="#777" stroke-width="0.4"/>
<polygon points="442.5,114.5 450.4,114.0 458.6,117.6 475.0,127.8 472.9,134.0 472.4,143.1 470.1,151.2 466.2,148.1 463.1,146.8 458.8,147.3 450.0,146.4 447.0,147.0 439.9,145.8 433.5,140.0 432.0,137.0 438.7,135.0 438.7,126.0 442.5,126.0" fill="#9db6a6" stroke="#777" stroke-width="0.4"/>
<polygon points="463.0,84.0 473.0,83.0 475.0,80.0 478.0,92.0 481.0,106.0 484.0,113.0 476.0,114.0 472.4,111.5 471.4,104.3 468.8,96.1 466.0,91.0" fill="#abd6bc" stroke="#777" stroke-width="0.4"/>
<polygon points="472.5,60.1 478.4,58.4 483.0,59.0 488.9,60.1 493.5,54.9 501.1,46.7 505.2,48.4 508.7,51.4 508.7,66.3 497.0,65.6 484.2,67.1 474.0,69.2" fill="#ffffff" stroke="#777" stroke-width="0.4"/>
<polygon points="471.0,43.0 471.0,39.0 478.4,35.3 486.4,33.1 494.4,44.8 501.1,46.7 493.5,54.9 488.9,60.1 483.0,59.0 478.4,58.4 472.5,60.1" fill="#9db6a6" stroke="#777" stroke-width="0.4"/>
<polygon points="486.4,33.1 494.4,27.3 498.8,26.6 505.4,27.3 506.1,31.0 508.3,28.8 510.5,30.2 513.4,33.9 516.3,32.4 523.6,33.9 519.2,36.8 514.9,40.4 515.6,44.8 508.7,51.4 505.2,48.4 501.1,46.7 494.4,44.8" fill="#9db6a6" stroke="#777" stroke-width="0.4"/>
<polygon points="515.6,44.8 520.7,48.5 526.5,54.3 532.4,58.0 534.6,59.4 533.8,63.8 532.4,68.2 530.2,75.5 529.5,77.5 520.0,79.5 512.0,80.5 505.5,81.6 502.0,78.7 496.2,65.8 497.0,65.6 508.7,66.3 508.7,51.4" fill="#9db6a6" stroke="#777" stroke-width="0.4"/>
<polygon points="505.5,81.6 512.0,80.5 520.0,79.5 529.5,77.5 530.6,83.4 532.4,98.5 530.0,107.9 527.7,104.4 518.4,100.9 510.8,98.5 509.0,92.7 504.3,90.4" fill="#9db6a6" stroke="#777" stroke-width="0.4"/>
<polygon points="523.6,33.9 528.0,35.0 533.0,40.0 538.0,45.0 539.0,51.0 536.0,56.0 534.6,59.4 532.4,58.0 526.5,54.3 520.7,48.5 515.6,44.8 514.9,40.4 519.2,36.8" fill="#ffffff" stroke="#777" stroke-width="0.4"/>
<polygon points="534.6,59.4 536.0,56.0 543.0,54.0 550.0,58.0 556.0,62.0 558.0,63.5 555.7,70.5 549.9,74.6 541.7,75.2 529.5,75.2 530.2,75.5 532.4,68.2 533.8,63.8" fill="#ffffff" stroke="#777" stroke-width="0.4"/>
<polygon points="558.0,63.5 565.0,62.0 572.0,67.0 578.0,74.0 572.0,79.0 569.2,85.1 566.2,82.2 561.6,77.5 549.9,75.2 549.9,74.6 555.7,70.5" fill="#d0e9d4" stroke="#777" stroke-width="0.4"/>
<polygon points="529.5,75.2 541.7,75.2 549.9,75.2 561.6,77.5 566.2,82.2 569.2,85.1 565.1,90.4 560.4,89.8 553.4,90.4 546.4,85.7 542.9,84.5 530.6,83.4 529.5,77.5" fill="#d0e9d4" stroke="#777" stroke-width="0.4"/>
<polygon points="572.0,79.0 578.0,74.0 582.8,76.4 584.6,80.0 587.4,83.7 593.8,87.4 602.0,89.2 607.4,86.5 607.4,82.8 610.0,89.0 612.0,94.7 608.0,100.0 604.7,105.6 603.8,109.3 602.0,105.6 596.5,99.2 587.4,96.5 579.0,93.8 571.0,92.0 565.1,90.4 569.2,85.1" fill="#abd6bc" stroke="#777" stroke-width="0.4"/>
<polygon points="607.4,82.8 614.7,81.9 622.0,82.8 626.6,87.4 629.3,94.7 631.2,97.4 636.6,98.3 644.0,102.0 646.7,105.6 638.5,131.2 636.6,134.8 623.9,138.5 616.6,136.6 613.8,133.0 614.7,124.0 609.0,118.0 603.8,109.3 604.7,105.6 608.0,100.0 612.0,94.7 610.0,89.0" fill="#ffffff" stroke="#777" stroke-width="0.4"/>
<polygon points="565.1,90.4 571.0,92.0 579.0,93.8 579.1,101.6 576.5,112.7 567.3,115.4 560.0,118.4 558.1,116.0 555.5,112.1 556.8,107.5 560.7,102.9 563.4,95.0" fill="#ffffff" stroke="#777" stroke-width="0.4"/>
<polygon points="579.0,93.8 587.4,96.5 596.5,99.2 602.0,105.6 603.8,109.3 609.0,118.0 614.7,124.0 613.8,133.0 600.1,134.4 592.3,123.2 583.0,120.0 576.5,112.7 579.1,101.6" fill="#abd6bc" stroke="#777" stroke-width="0.4"/>
<polygon points="558.1,119.3 560.0,118.4 567.3,115.4 576.5,112.7 583.0,120.0 592.3,123.2 600.1,134.4 588.3,138.4 572.6,143.6 566.0,142.3 563.4,137.0 562.0,127.8 559.4,121.3" fill="#abd6bc" stroke="#777" stroke-width="0.4"/>
<polygon points="474.0,69.2 484.2,67.1 497.0,65.6 496.2,65.8 502.0,78.7 504.3,90.4 509.0,92.7 510.8,98.5 509.0,99.7 504.3,103.2 506.7,109.0 511.8,107.8 516.6,112.7 510.0,117.0 502.0,118.0 492.0,117.0 484.0,113.0 481.0,106.0 478.0,92.0 475.0,80.0" fill="#ffffff" stroke="#777" stroke-width="0.4"/>
<polygon points="504.3,103.2 509.0,99.7 510.8,98.5 518.4,100.9 527.7,104.4 530.0,107.9 531.2,114.9 524.2,115.5 517.2,115.5 516.6,112.7 511.8,107.8 506.7,109.0" fill="#d0e9d4" stroke="#777" stroke-width="0.4"/>
<polygon points="530.6,83.4 542.9,84.5 541.7,95.0 541.1,103.2 544.0,109.0 548.7,116.0 551.0,120.7 541.0,117.0 532.4,114.9 531.2,114.9 530.0,107.9 532.4,98.5" fill="#d0e9d4" stroke="#777" stroke-width="0.4"/>
<polygon points="542.9,84.5 546.4,85.7 553.4,90.4 560.4,89.8 565.1,90.4 563.4,95.0 560.7,102.9 556.8,107.5 555.5,112.1 558.1,116.0 558.1,119.3 555.5,121.3 550.3,122.3 551.0,120.7 548.7,116.0 544.0,109.0 541.1,103.2 541.7,95.0" fill="#d0e9d4" stroke="#777" stroke-width="0.4"/>
<polygon points="516.6,112.7 517.2,115.5 524.2,115.5 531.2,114.9 541.0,117.0 551.0,120.7 550.3,122.3 539.0,126.3 523.0,126.3 518.0,124.7 516.0,118.0" fill="#d0e9d4" stroke="#777" stroke-width="0.4"/>
<polygon points="502.0,118.0 510.0,117.0 516.0,118.0 518.0,124.7 523.0,126.3 532.6,126.3 524.6,133.5 521.4,137.6 516.6,136.8 515.2,134.9 509.4,131.4 502.4,130.8 501.3,131.1 501.2,126.7" fill="#abd6bc" stroke="#777" stroke-width="0.4"/>
<polygon points="469.3,119.6 468.8,114.5 472.4,111.5 476.0,114.0 484.0,113.0 492.0,117.0 502.0,118.0 501.2,126.7 501.3,131.1 496.0,134.9 494.2,141.3 488.4,139.0 482.5,136.0 474.3,134.3 472.9,134.0 475.0,127.8" fill="#abd6bc" stroke="#777" stroke-width="0.4"/>
<polygon points="539.0,126.3 550.3,122.3 555.5,121.3 558.1,119.3 559.4,121.3 562.0,127.8 563.4,137.0 555.5,139.7 550.2,141.6 543.7,140.3 542.0,133.0" fill="#d0e9d4" stroke="#777" stroke-width="0.4"/>
<polygon points="524.6,133.5 532.6,126.3 539.0,126.3 542.0,133.0 543.7,140.3 548.9,144.9 548.8,148.1 542.7,150.3 535.2,150.3 533.0,148.1 530.4,145.5 528.2,146.4 526.0,149.0 522.5,146.4 522.5,144.0 524.5,141.0 526.0,138.5 523.4,136.8 521.4,137.6" fill="#abd6bc" stroke="#777" stroke-width="0.4"/>
<polygon points="543.7,140.3 550.2,141.6 555.5,139.7 563.4,137.0 566.0,142.3 572.6,143.6 565.5,146.7 560.0,148.5 554.1,152.7 548.8,156.0 545.3,157.8 542.7,150.3 548.8,148.1 548.9,144.9" fill="#d0e9d4" stroke="#777" stroke-width="0.4"/>
<polygon points="494.2,141.3 496.0,134.9 501.3,131.1 502.4,130.8 509.4,131.4 515.2,134.9 512.0,137.0 509.0,141.0 508.0,146.0 503.5,150.0 497.7,147.7 494.8,143.0" fill="#d0e9d4" stroke="#777" stroke-width="0.4"/>
<polygon points="509.0,141.0 512.0,137.0 515.2,134.9 516.6,136.8 521.4,137.6 523.4,136.8 526.0,138.5 524.5,141.0 522.5,144.0 522.5,146.4 520.3,146.0 518.0,146.4 513.0,145.5 509.0,143.0" fill="#ffffff" stroke="#777" stroke-width="0.4"/>
<polygon points="503.5,150.0 508.0,146.0 509.0,143.0 513.0,145.5 518.0,146.4 520.3,146.0 522.5,146.4 526.0,149.0 522.5,152.5 520.3,149.9 515.5,150.8 508.2,150.6" fill="#abd6bc" stroke="#777" stroke-width="0.4"/>
<polygon points="493.0,154.7 494.8,153.5 500.0,151.2 503.5,150.0 508.2,150.6 515.5,150.8 520.3,149.9 522.5,152.5 525.1,156.0 523.4,158.6 521.6,161.3 520.3,163.9 522.5,164.8 526.0,168.3 526.5,173.5 521.0,172.2 504.7,172.2 498.9,172.8 493.0,171.0 492.4,165.2 493.6,159.4" fill="#9db6a6" stroke="#777" stroke-width="0.4"/>
<polygon points="488.4,139.0 494.2,141.3 494.8,143.0 497.7,147.7 503.5,150.0 500.0,151.2 494.8,153.5 493.0,154.7 493.6,159.4 492.4,165.2 492.0,169.2 488.5,169.2 482.4,177.5 478.9,173.5 483.3,165.7 484.0,155.0 487.0,147.0" fill="#abd6bc" stroke="#777" stroke-width="0.4"/>
<polygon points="472.9,134.0 474.3,134.3 482.5,136.0 488.4,139.0 487.0,147.0 484.0,155.0 483.3,165.7 475.8,161.3 472.8,168.3 459.6,158.6 463.1,156.5 471.0,160.4 473.2,157.8 466.6,152.5 466.2,148.1 470.1,151.2 472.4,143.1" fill="#abd6bc" stroke="#777" stroke-width="0.4"/>
<polygon points="522.5,152.5 526.0,149.0 528.2,146.4 530.4,145.5 533.0,148.1 534.5,153.0 532.0,159.0 528.5,165.5 529.5,169.6 527.8,170.0 526.5,173.5 526.0,168.3 522.5,164.8 520.3,163.9 521.6,161.3 523.4,158.6 525.1,156.0" fill="#ffffff" stroke="#777" stroke-width="0.4"/>
<polygon points="533.0,148.1 535.2,150.3 542.7,150.3 545.3,157.8 543.5,159.5 540.0,161.3 533.9,165.7 531.3,169.2 529.5,169.6 528.5,165.5 532.0,159.0 534.5,153.0" fill="#ffffff" stroke="#777" stroke-width="0.4"/>
<polygon points="631.2,60.0 633.4,56.2 637.7,51.9 642.0,49.7 647.4,48.1 652.3,47.6 655.5,49.2 657.1,51.9 660.4,53.0 665.8,54.6 672.3,57.3 677.7,61.6 680.9,65.9 682.5,70.2 684.7,73.5 684.7,75.6 682.0,85.4 678.7,91.9 675.5,98.3 675.0,104.8 676.6,111.3 679.8,117.8 680.4,120.0 678.5,119.5 673.3,113.5 660.4,101.6 647.4,89.7 639.8,83.2 636.6,77.8 636.0,75.6 640.0,75.0 644.2,74.6 645.8,71.3 644.7,68.1 639.8,70.2 635.5,70.8 632.8,68.1 631.2,63.8" fill="#fff" stroke="#999" stroke-width="0.5"/>
<polygon points="576.8,59.8 581.6,57.0 588.2,59.8 598.6,62.7 606.2,63.6 611.9,63.3 620.5,62.1 625.2,64.6 627.1,71.2 625.2,74.1 617.6,74.1 611.9,75.0 606.2,75.4 600.5,76.9 595.8,76.0 593.0,73.1 589.2,70.3 583.5,66.5 578.7,63.6" fill="#fff" stroke="#999" stroke-width="0.5"/>
<polygon points="497.6,174.4 508.0,173.1 514.7,171.8 520.0,173.1 520.6,175.7 524.5,179.7 521.9,183.6 516.0,188.9 512.0,188.9 505.5,183.6 498.9,177.0" fill="#fff" stroke="#999" stroke-width="0.5"/>
<polygon points="394.9,165.1 399.0,163.4 405.0,159.5 411.9,155.2 416.5,152.8 423.5,152.3 422.0,156.0 418.9,160.4 416.0,162.8 416.0,164.5 419.5,164.0 422.4,161.6 426.0,156.0 429.4,151.7 432.9,151.7 438.7,151.7 442.2,152.8 444.6,156.4 448.1,160.4 452.2,163.4 452.2,165.7 448.1,166.9 444.0,167.0 441.6,168.0 446.9,169.2 445.7,172.1 442.2,174.5 438.7,173.9 435.2,171.0 431.7,168.6 430.0,169.2 431.1,171.0 435.2,173.9 434.1,175.6 428.2,178.5 422.4,180.9 421.0,177.0 420.0,173.9 417.7,171.0 415.9,169.2 413.0,171.0 414.5,175.0 417.1,180.9 419.5,186.7 418.9,189.0 414.2,192.6 410.1,196.1 408.4,200.1 405.4,196.6 404.9,192.6 400.2,185.0 397.8,178.5 395.5,170.4" fill="#fff" stroke="#999" stroke-width="0.5"/>
<polygon points="452.2,192.3 455.7,190.2 461.8,191.4 467.0,188.4 471.4,189.6 475.8,194.0 478.4,198.9 474.0,198.4 467.9,197.5 462.7,196.6 457.4,194.9 453.0,194.0" fill="#fff" stroke="#999" stroke-width="0.5"/>
<polygon points="430.3,212.4 435.5,208.0 441.6,206.3 445.1,208.0 448.7,213.3 442.5,214.2 435.5,214.2" fill="#fff" stroke="#999" stroke-width="0.5"/>
<polygon points="464.4,204.5 466.2,208.9 467.0,213.3 469.7,210.7 475.8,208.9 480.2,209.8 481.1,214.2 477.6,219.4 472.3,224.7 467.9,222.9 466.2,218.5 464.4,215.0" fill="#fff" stroke="#999" stroke-width="0.5"/>
<polygon points="437.3,225.5 440.8,222.9 445.1,222.0 446.9,224.7 444.3,227.3 439.0,229.4" fill="#fff" stroke="#999" stroke-width="0.5"/>
<polygon points="487.2,208.9 489.0,209.5 492.4,214.5 491.5,215.2 488.0,211.0" fill="#fff" stroke="#999" stroke-width="0.5"/>
<polygon points="523.0,185.0 526.0,184.4 529.0,186.5 527.5,189.6 524.0,189.0" fill="#fff" stroke="#999" stroke-width="0.5"/>
<polygon points="515.2,193.0 517.5,191.4 520.5,194.0 519.0,197.5 516.0,196.5" fill="#fff" stroke="#999" stroke-width="0.5"/>
<polygon points="521.0,201.0 524.0,196.0 527.0,194.0 530.0,193.0 532.0,196.0 534.5,199.0 531.0,202.0 528.0,200.0 525.0,205.0 522.0,206.0" fill="#fff" stroke="#999" stroke-width="0.5"/>
<polygon points="457.4,196.6 461.8,197.5 460.5,199.6 457.8,199.3" fill="#fff" stroke="#999" stroke-width="0.5"/>
<polygon points="588.5,71.0 592.0,70.3 595.8,73.0 594.0,76.5 590.0,77.0" fill="#fff" stroke="#999" stroke-width="0.5"/>
<polygon points="444.3,233.0 449.0,231.7 453.9,233.0 451.0,235.0 446.0,235.0" fill="#fff" stroke="#999" stroke-width="0.5"/>
<polyline points="535.2,152.0 540.5,156.5 537.0,163.0" fill="none" stroke="#888" stroke-width="0.35"/>
<polyline points="525.1,156.0 529.0,158.0 532.0,159.0" fill="none" stroke="#888" stroke-width="0.35"/>
<polyline points="523.4,158.6 527.0,163.0 528.5,165.5" fill="none" stroke="#888" stroke-width="0.35"/>
<polygon points="509.6,172.5 513,171.6 517,172 519.9,174.5 518,177.2 513,177.2 510.5,175.5" fill="#9db6a6" stroke="#888" stroke-width="0.3"/></g>
<g id="mapc" transform="matrix(0.981 0 0 1.0435 -354.0 257.6)"><polygon points="387.6,208.6 379.0,207.1 369.5,204.8 364.3,202.9 363.3,201.0 363.3,185.2 365.7,183.8 365.2,181.9 365.7,179.0 366.7,177.1 363.8,174.8 363.3,173.3 364.3,167.6 366.7,161.9 369.5,160.0 372.9,157.6 372.4,154.3 370.5,149.5 372.4,143.8 374.3,140.0 375.0,128.0 379.0,116.0 381.8,111.3 384.5,110.0 385.8,106.7 390.0,99.0 393.7,94.9 398.0,79.0 401.0,71.0 408.0,62.0 408.0,57.0 417.0,53.0 422.0,52.0 429.0,45.0 435.0,42.0 442.0,40.6 448.0,43.0 451.0,47.0 453.0,50.0 454.0,45.0 464.0,44.0 471.0,43.0 471.0,39.0 478.4,35.3 486.4,33.1 494.4,27.3 498.8,26.6 505.4,27.3 506.1,31.0 508.3,28.8 510.5,30.2 513.4,33.9 516.3,32.4 523.6,33.9 528.0,35.0 533.0,40.0 538.0,45.0 539.0,51.0 536.0,56.0 543.0,54.0 550.0,58.0 556.0,62.0 558.0,63.5 565.0,62.0 572.0,67.0 578.0,74.0 582.8,76.4 584.6,80.0 587.4,83.7 593.8,87.4 602.0,89.2 607.4,86.5 607.4,82.8 614.7,81.9 622.0,82.8 626.6,87.4 629.3,94.7 631.2,97.4 636.6,98.3 644.0,102.0 646.7,105.6 638.5,131.2 636.6,134.8 623.9,138.5 616.6,136.6 613.8,133.0 600.1,134.4 588.3,138.4 572.6,143.6 565.5,146.7 560.0,148.5 554.1,152.7 548.8,156.0 545.3,157.8 543.5,159.5 540.0,161.3 533.9,165.7 531.3,169.2 527.8,170.0 526.5,173.5 521.0,172.2 504.7,172.2 498.9,172.8 493.0,171.0 492.0,169.2 488.5,169.2 482.4,177.5 478.9,173.5 483.3,165.7 475.8,161.3 472.8,168.3 459.6,158.6 463.1,156.5 471.0,160.4 473.2,157.8 466.6,152.5 466.2,148.1 463.1,146.8 458.8,147.3 450.0,146.4 447.0,147.0 439.9,145.8 433.5,140.0 432.9,140.0 429.4,141.2 427.0,143.5 423.5,144.1 421.2,141.8 415.4,141.2 414.2,145.8 411.9,143.5 406.0,141.8 408.4,144.1 412.4,147.0 408.4,150.5 403.7,152.8 400.2,150.5 396.1,147.6 393.2,145.3 389.7,142.3 386.5,140.5 388.6,145.7 390.5,151.4 392.4,157.1 391.4,160.0 385.7,161.0 385.7,167.6 388.6,167.6 388.6,173.3 370.5,173.3 370.5,178.1 388.6,178.1 388.6,182.9 383.8,184.8 370.5,184.8 370.5,189.5 392.4,188.6 392.4,195.2 370.5,195.2 370.5,201.0 397.6,201.0 398.1,204.3 392.4,206.7" fill="#fff" stroke="#999" stroke-width="0.5"/>
<polygon points="402.9,125.0 409.4,125.0 412.0,126.4 423.9,127.0 438.7,126.0 438.7,135.0 432.0,137.0 433.5,140.0 432.9,140.0 429.4,141.2 427.0,143.5 423.5,144.1 421.2,141.8 415.4,141.2 414.2,145.8 411.9,143.5 406.0,141.8 408.4,144.1 412.4,147.0 408.4,150.5 403.7,152.8 400.2,150.5 396.1,147.6 393.2,145.3 391.0,145.0 396.3,137.6" fill="#ffffff" stroke="#777" stroke-width="0.4"/>
<polygon points="384.5,110.0 385.8,106.7 390.0,99.0 393.7,94.9 398.0,79.0 401.0,71.0 408.0,62.0 408.0,57.0 417.0,53.0 422.0,52.0 424.0,57.0 427.0,64.0 430.0,67.0 435.0,68.0 442.0,68.0 449.0,62.0 453.0,56.0 454.0,72.0 454.0,85.0 450.0,90.3 446.2,93.5 439.6,96.8 431.8,101.4 430.4,102.1 422.6,110.0 414.7,117.8 409.4,125.0 402.9,125.0 396.3,121.8 393.7,116.5 389.7,113.9" fill="#fde4e6" stroke="#777" stroke-width="0.4"/>
<polygon points="422.0,52.0 429.0,45.0 435.0,42.0 442.0,40.6 448.0,43.0 451.0,47.0 453.0,50.0 453.0,56.0 449.0,62.0 442.0,68.0 435.0,68.0 430.0,67.0 427.0,64.0 424.0,57.0" fill="#ffffff" stroke="#777" stroke-width="0.4"/>
<polygon points="453.0,50.0 454.0,45.0 464.0,44.0 471.0,43.0 472.5,59.4 474.0,68.9 475.0,80.0 473.0,83.0 463.0,84.0 462.0,83.0 460.0,73.0 456.0,73.0 454.0,72.0 453.0,56.0" fill="#fde4e6" stroke="#777" stroke-width="0.4"/>
<polygon points="454.0,72.0 456.0,73.0 460.0,73.0 462.0,83.0 463.0,84.0 466.0,91.0 460.0,93.0 455.5,97.2 452.0,95.0 448.0,92.9 450.0,90.3 454.0,85.0" fill="#f3a1a5" stroke="#777" stroke-width="0.4"/>
<polygon points="430.4,102.1 431.8,101.4 439.6,96.8 446.2,93.5 448.0,92.9 452.0,95.0 455.5,97.2 450.4,106.4 448.8,109.3 443.6,108.7 438.3,108.0 433.0,104.7" fill="#ffffff" stroke="#777" stroke-width="0.4"/>
<polygon points="409.4,125.0 414.7,117.8 422.6,110.0 430.4,102.1 433.0,104.7 438.3,108.0 443.6,108.7 448.8,109.3 450.4,114.0 442.5,114.5 442.5,126.0 438.7,126.0 423.9,127.0 412.0,126.4" fill="#f3a1a5" stroke="#777" stroke-width="0.4"/>
<polygon points="455.5,97.2 460.0,93.0 466.0,91.0 468.8,96.1 471.4,104.3 472.4,111.5 468.8,114.5 469.3,119.6 475.0,127.8 458.6,117.6 450.4,114.0 448.8,109.3 450.4,106.4" fill="#f9c3c6" stroke="#777" stroke-width="0.4"/>
<polygon points="442.5,114.5 450.4,114.0 458.6,117.6 475.0,127.8 472.9,134.0 472.4,143.1 470.1,151.2 466.2,148.1 463.1,146.8 458.8,147.3 450.0,146.4 447.0,147.0 439.9,145.8 433.5,140.0 432.0,137.0 438.7,135.0 438.7,126.0 442.5,126.0" fill="#f9c3c6" stroke="#777" stroke-width="0.4"/>
<polygon points="463.0,84.0 473.0,83.0 475.0,80.0 478.0,92.0 481.0,106.0 484.0,113.0 476.0,114.0 472.4,111.5 471.4,104.3 468.8,96.1 466.0,91.0" fill="#f3a1a5" stroke="#777" stroke-width="0.4"/>
<polygon points="472.5,60.1 478.4,58.4 483.0,59.0 488.9,60.1 493.5,54.9 501.1,46.7 505.2,48.4 508.7,51.4 508.7,66.3 497.0,65.6 484.2,67.1 474.0,69.2" fill="#fde4e6" stroke="#777" stroke-width="0.4"/>
<polygon points="471.0,43.0 471.0,39.0 478.4,35.3 486.4,33.1 494.4,44.8 501.1,46.7 493.5,54.9 488.9,60.1 483.0,59.0 478.4,58.4 472.5,60.1" fill="#f3a1a5" stroke="#777" stroke-width="0.4"/>
<polygon points="486.4,33.1 494.4,27.3 498.8,26.6 505.4,27.3 506.1,31.0 508.3,28.8 510.5,30.2 513.4,33.9 516.3,32.4 523.6,33.9 519.2,36.8 514.9,40.4 515.6,44.8 508.7,51.4 505.2,48.4 501.1,46.7 494.4,44.8" fill="#f9c3c6" stroke="#777" stroke-width="0.4"/>
<polygon points="515.6,44.8 520.7,48.5 526.5,54.3 532.4,58.0 534.6,59.4 533.8,63.8 532.4,68.2 530.2,75.5 529.5,77.5 520.0,79.5 512.0,80.5 505.5,81.6 502.0,78.7 496.2,65.8 497.0,65.6 508.7,66.3 508.7,51.4" fill="#f9c3c6" stroke="#777" stroke-width="0.4"/>
<polygon points="505.5,81.6 512.0,80.5 520.0,79.5 529.5,77.5 530.6,83.4 532.4,98.5 530.0,107.9 527.7,104.4 518.4,100.9 510.8,98.5 509.0,92.7 504.3,90.4" fill="#f3a1a5" stroke="#777" stroke-width="0.4"/>
<polygon points="523.6,33.9 528.0,35.0 533.0,40.0 538.0,45.0 539.0,51.0 536.0,56.0 534.6,59.4 532.4,58.0 526.5,54.3 520.7,48.5 515.6,44.8 514.9,40.4 519.2,36.8" fill="#ffffff" stroke="#777" stroke-width="0.4"/>
<polygon points="534.6,59.4 536.0,56.0 543.0,54.0 550.0,58.0 556.0,62.0 558.0,63.5 555.7,70.5 549.9,74.6 541.7,75.2 529.5,75.2 530.2,75.5 532.4,68.2 533.8,63.8" fill="#fde4e6" stroke="#777" stroke-width="0.4"/>
<polygon points="558.0,63.5 565.0,62.0 572.0,67.0 578.0,74.0 572.0,79.0 569.2,85.1 566.2,82.2 561.6,77.5 549.9,75.2 549.9,74.6 555.7,70.5" fill="#ea7e84" stroke="#777" stroke-width="0.4"/>
<polygon points="529.5,75.2 541.7,75.2 549.9,75.2 561.6,77.5 566.2,82.2 569.2,85.1 565.1,90.4 560.4,89.8 553.4,90.4 546.4,85.7 542.9,84.5 530.6,83.4 529.5,77.5" fill="#ea7e84" stroke="#777" stroke-width="0.4"/>
<polygon points="572.0,79.0 578.0,74.0 582.8,76.4 584.6,80.0 587.4,83.7 593.8,87.4 602.0,89.2 607.4,86.5 607.4,82.8 610.0,89.0 612.0,94.7 608.0,100.0 604.7,105.6 603.8,109.3 602.0,105.6 596.5,99.2 587.4,96.5 579.0,93.8 571.0,92.0 565.1,90.4 569.2,85.1" fill="#f9c3c6" stroke="#777" stroke-width="0.4"/>
<polygon points="607.4,82.8 614.7,81.9 622.0,82.8 626.6,87.4 629.3,94.7 631.2,97.4 636.6,98.3 644.0,102.0 646.7,105.6 638.5,131.2 636.6,134.8 623.9,138.5 616.6,136.6 613.8,133.0 614.7,124.0 609.0,118.0 603.8,109.3 604.7,105.6 608.0,100.0 612.0,94.7 610.0,89.0" fill="#fde4e6" stroke="#777" stroke-width="0.4"/>
<polygon points="565.1,90.4 571.0,92.0 579.0,93.8 579.1,101.6 576.5,112.7 567.3,115.4 560.0,118.4 558.1,116.0 555.5,112.1 556.8,107.5 560.7,102.9 563.4,95.0" fill="#ffffff" stroke="#777" stroke-width="0.4"/>
<polygon points="579.0,93.8 587.4,96.5 596.5,99.2 602.0,105.6 603.8,109.3 609.0,118.0 614.7,124.0 613.8,133.0 600.1,134.4 592.3,123.2 583.0,120.0 576.5,112.7 579.1,101.6" fill="#f3a1a5" stroke="#777" stroke-width="0.4"/>
<polygon points="558.1,119.3 560.0,118.4 567.3,115.4 576.5,112.7 583.0,120.0 592.3,123.2 600.1,134.4 588.3,138.4 572.6,143.6 566.0,142.3 563.4,137.0 562.0,127.8 559.4,121.3" fill="#ea7e84" stroke="#777" stroke-width="0.4"/>
<polygon points="474.0,69.2 484.2,67.1 497.0,65.6 496.2,65.8 502.0,78.7 504.3,90.4 509.0,92.7 510.8,98.5 509.0,99.7 504.3,103.2 506.7,109.0 511.8,107.8 516.6,112.7 510.0,117.0 502.0,118.0 492.0,117.0 484.0,113.0 481.0,106.0 478.0,92.0 475.0,80.0" fill="#ffffff" stroke="#777" stroke-width="0.4"/>
<polygon points="504.3,103.2 509.0,99.7 510.8,98.5 518.4,100.9 527.7,104.4 530.0,107.9 531.2,114.9 524.2,115.5 517.2,115.5 516.6,112.7 511.8,107.8 506.7,109.0" fill="#f3a1a5" stroke="#777" stroke-width="0.4"/>
<polygon points="530.6,83.4 542.9,84.5 541.7,95.0 541.1,103.2 544.0,109.0 548.7,116.0 551.0,120.7 541.0,117.0 532.4,114.9 531.2,114.9 530.0,107.9 532.4,98.5" fill="#f3a1a5" stroke="#777" stroke-width="0.4"/>
<polygon points="542.9,84.5 546.4,85.7 553.4,90.4 560.4,89.8 565.1,90.4 563.4,95.0 560.7,102.9 556.8,107.5 555.5,112.1 558.1,116.0 558.1,119.3 555.5,121.3 550.3,122.3 551.0,120.7 548.7,116.0 544.0,109.0 541.1,103.2 541.7,95.0" fill="#ea7e84" stroke="#777" stroke-width="0.4"/>
<polygon points="516.6,112.7 517.2,115.5 524.2,115.5 531.2,114.9 541.0,117.0 551.0,120.7 550.3,122.3 539.0,126.3 523.0,126.3 518.0,124.7 516.0,118.0" fill="#ea7e84" stroke="#777" stroke-width="0.4"/>
<polygon points="502.0,118.0 510.0,117.0 516.0,118.0 518.0,124.7 523.0,126.3 532.6,126.3 524.6,133.5 521.4,137.6 516.6,136.8 515.2,134.9 509.4,131.4 502.4,130.8 501.3,131.1 501.2,126.7" fill="#f9c3c6" stroke="#777" stroke-width="0.4"/>
<polygon points="469.3,119.6 468.8,114.5 472.4,111.5 476.0,114.0 484.0,113.0 492.0,117.0 502.0,118.0 501.2,126.7 501.3,131.1 496.0,134.9 494.2,141.3 488.4,139.0 482.5,136.0 474.3,134.3 472.9,134.0 475.0,127.8" fill="#f9c3c6" stroke="#777" stroke-width="0.4"/>
<polygon points="539.0,126.3 550.3,122.3 555.5,121.3 558.1,119.3 559.4,121.3 562.0,127.8 563.4,137.0 555.5,139.7 550.2,141.6 543.7,140.3 542.0,133.0" fill="#ea7e84" stroke="#777" stroke-width="0.4"/>
<polygon points="524.6,133.5 532.6,126.3 539.0,126.3 542.0,133.0 543.7,140.3 548.9,144.9 548.8,148.1 542.7,150.3 535.2,150.3 533.0,148.1 530.4,145.5 528.2,146.4 526.0,149.0 522.5,146.4 522.5,144.0 524.5,141.0 526.0,138.5 523.4,136.8 521.4,137.6" fill="#ea7e84" stroke="#777" stroke-width="0.4"/>
<polygon points="543.7,140.3 550.2,141.6 555.5,139.7 563.4,137.0 566.0,142.3 572.6,143.6 565.5,146.7 560.0,148.5 554.1,152.7 548.8,156.0 545.3,157.8 542.7,150.3 548.8,148.1 548.9,144.9" fill="#ea7e84" stroke="#777" stroke-width="0.4"/>
<polygon points="494.2,141.3 496.0,134.9 501.3,131.1 502.4,130.8 509.4,131.4 515.2,134.9 512.0,137.0 509.0,141.0 508.0,146.0 503.5,150.0 497.7,147.7 494.8,143.0" fill="#fde4e6" stroke="#777" stroke-width="0.4"/>
<polygon points="509.0,141.0 512.0,137.0 515.2,134.9 516.6,136.8 521.4,137.6 523.4,136.8 526.0,138.5 524.5,141.0 522.5,144.0 522.5,146.4 520.3,146.0 518.0,146.4 513.0,145.5 509.0,143.0" fill="#fde4e6" stroke="#777" stroke-width="0.4"/>
<polygon points="503.5,150.0 508.0,146.0 509.0,143.0 513.0,145.5 518.0,146.4 520.3,146.0 522.5,146.4 526.0,149.0 522.5,152.5 520.3,149.9 515.5,150.8 508.2,150.6" fill="#f9c3c6" stroke="#777" stroke-width="0.4"/>
<polygon points="493.0,154.7 494.8,153.5 500.0,151.2 503.5,150.0 508.2,150.6 515.5,150.8 520.3,149.9 522.5,152.5 525.1,156.0 523.4,158.6 521.6,161.3 520.3,163.9 522.5,164.8 526.0,168.3 526.5,173.5 521.0,172.2 504.7,172.2 498.9,172.8 493.0,171.0 492.4,165.2 493.6,159.4" fill="#ea7e84" stroke="#777" stroke-width="0.4"/>
<polygon points="488.4,139.0 494.2,141.3 494.8,143.0 497.7,147.7 503.5,150.0 500.0,151.2 494.8,153.5 493.0,154.7 493.6,159.4 492.4,165.2 492.0,169.2 488.5,169.2 482.4,177.5 478.9,173.5 483.3,165.7 484.0,155.0 487.0,147.0" fill="#f3a1a5" stroke="#777" stroke-width="0.4"/>
<polygon points="472.9,134.0 474.3,134.3 482.5,136.0 488.4,139.0 487.0,147.0 484.0,155.0 483.3,165.7 475.8,161.3 472.8,168.3 459.6,158.6 463.1,156.5 471.0,160.4 473.2,157.8 466.6,152.5 466.2,148.1 470.1,151.2 472.4,143.1" fill="#f9c3c6" stroke="#777" stroke-width="0.4"/>
<polygon points="522.5,152.5 526.0,149.0 528.2,146.4 530.4,145.5 533.0,148.1 534.5,153.0 532.0,159.0 528.5,165.5 529.5,169.6 527.8,170.0 526.5,173.5 526.0,168.3 522.5,164.8 520.3,163.9 521.6,161.3 523.4,158.6 525.1,156.0" fill="#f9c3c6" stroke="#777" stroke-width="0.4"/>
<polygon points="533.0,148.1 535.2,150.3 542.7,150.3 545.3,157.8 543.5,159.5 540.0,161.3 533.9,165.7 531.3,169.2 529.5,169.6 528.5,165.5 532.0,159.0 534.5,153.0" fill="#ffffff" stroke="#777" stroke-width="0.4"/>
<polygon points="631.2,60.0 633.4,56.2 637.7,51.9 642.0,49.7 647.4,48.1 652.3,47.6 655.5,49.2 657.1,51.9 660.4,53.0 665.8,54.6 672.3,57.3 677.7,61.6 680.9,65.9 682.5,70.2 684.7,73.5 684.7,75.6 682.0,85.4 678.7,91.9 675.5,98.3 675.0,104.8 676.6,111.3 679.8,117.8 680.4,120.0 678.5,119.5 673.3,113.5 660.4,101.6 647.4,89.7 639.8,83.2 636.6,77.8 636.0,75.6 640.0,75.0 644.2,74.6 645.8,71.3 644.7,68.1 639.8,70.2 635.5,70.8 632.8,68.1 631.2,63.8" fill="#fff" stroke="#999" stroke-width="0.5"/>
<polygon points="576.8,59.8 581.6,57.0 588.2,59.8 598.6,62.7 606.2,63.6 611.9,63.3 620.5,62.1 625.2,64.6 627.1,71.2 625.2,74.1 617.6,74.1 611.9,75.0 606.2,75.4 600.5,76.9 595.8,76.0 593.0,73.1 589.2,70.3 583.5,66.5 578.7,63.6" fill="#fff" stroke="#999" stroke-width="0.5"/>
<polygon points="497.6,174.4 508.0,173.1 514.7,171.8 520.0,173.1 520.6,175.7 524.5,179.7 521.9,183.6 516.0,188.9 512.0,188.9 505.5,183.6 498.9,177.0" fill="#fde4e6" stroke="#999" stroke-width="0.5"/>
<polygon points="394.9,165.1 399.0,163.4 405.0,159.5 411.9,155.2 416.5,152.8 423.5,152.3 422.0,156.0 418.9,160.4 416.0,162.8 416.0,164.5 419.5,164.0 422.4,161.6 426.0,156.0 429.4,151.7 432.9,151.7 438.7,151.7 442.2,152.8 444.6,156.4 448.1,160.4 452.2,163.4 452.2,165.7 448.1,166.9 444.0,167.0 441.6,168.0 446.9,169.2 445.7,172.1 442.2,174.5 438.7,173.9 435.2,171.0 431.7,168.6 430.0,169.2 431.1,171.0 435.2,173.9 434.1,175.6 428.2,178.5 422.4,180.9 421.0,177.0 420.0,173.9 417.7,171.0 415.9,169.2 413.0,171.0 414.5,175.0 417.1,180.9 419.5,186.7 418.9,189.0 414.2,192.6 410.1,196.1 408.4,200.1 405.4,196.6 404.9,192.6 400.2,185.0 397.8,178.5 395.5,170.4" fill="#fff" stroke="#999" stroke-width="0.5"/>
<polygon points="452.2,192.3 455.7,190.2 461.8,191.4 467.0,188.4 471.4,189.6 475.8,194.0 478.4,198.9 474.0,198.4 467.9,197.5 462.7,196.6 457.4,194.9 453.0,194.0" fill="#fff" stroke="#999" stroke-width="0.5"/>
<polygon points="430.3,212.4 435.5,208.0 441.6,206.3 445.1,208.0 448.7,213.3 442.5,214.2 435.5,214.2" fill="#fff" stroke="#999" stroke-width="0.5"/>
<polygon points="464.4,204.5 466.2,208.9 467.0,213.3 469.7,210.7 475.8,208.9 480.2,209.8 481.1,214.2 477.6,219.4 472.3,224.7 467.9,222.9 466.2,218.5 464.4,215.0" fill="#fff" stroke="#999" stroke-width="0.5"/>
<polygon points="437.3,225.5 440.8,222.9 445.1,222.0 446.9,224.7 444.3,227.3 439.0,229.4" fill="#fff" stroke="#999" stroke-width="0.5"/>
<polygon points="487.2,208.9 489.0,209.5 492.4,214.5 491.5,215.2 488.0,211.0" fill="#fff" stroke="#999" stroke-width="0.5"/>
<polygon points="523.0,185.0 526.0,184.4 529.0,186.5 527.5,189.6 524.0,189.0" fill="#fff" stroke="#999" stroke-width="0.5"/>
<polygon points="515.2,193.0 517.5,191.4 520.5,194.0 519.0,197.5 516.0,196.5" fill="#fff" stroke="#999" stroke-width="0.5"/>
<polygon points="521.0,201.0 524.0,196.0 527.0,194.0 530.0,193.0 532.0,196.0 534.5,199.0 531.0,202.0 528.0,200.0 525.0,205.0 522.0,206.0" fill="#fff" stroke="#999" stroke-width="0.5"/>
<polygon points="457.4,196.6 461.8,197.5 460.5,199.6 457.8,199.3" fill="#fff" stroke="#999" stroke-width="0.5"/>
<polygon points="588.5,71.0 592.0,70.3 595.8,73.0 594.0,76.5 590.0,77.0" fill="#fff" stroke="#999" stroke-width="0.5"/>
<polygon points="444.3,233.0 449.0,231.7 453.9,233.0 451.0,235.0 446.0,235.0" fill="#fff" stroke="#999" stroke-width="0.5"/>
<polyline points="535.2,152.0 540.5,156.5 537.0,163.0" fill="none" stroke="#888" stroke-width="0.35"/>
<polyline points="525.1,156.0 529.0,158.0 532.0,159.0" fill="none" stroke="#888" stroke-width="0.35"/>
<polyline points="523.4,158.6 527.0,163.0 528.5,165.5" fill="none" stroke="#888" stroke-width="0.35"/>
<polygon points="509.6,172.5 513,171.6 517,172 519.9,174.5 518,177.2 513,177.2 510.5,175.5" fill="#ea7e84" stroke="#888" stroke-width="0.3"/></g>
<g id="mapd" transform="matrix(0.9944 0 0 1.039 3.23 257.5)"><polygon points="387.6,208.6 379.0,207.1 369.5,204.8 364.3,202.9 363.3,201.0 363.3,185.2 365.7,183.8 365.2,181.9 365.7,179.0 366.7,177.1 363.8,174.8 363.3,173.3 364.3,167.6 366.7,161.9 369.5,160.0 372.9,157.6 372.4,154.3 370.5,149.5 372.4,143.8 374.3,140.0 375.0,128.0 379.0,116.0 381.8,111.3 384.5,110.0 385.8,106.7 390.0,99.0 393.7,94.9 398.0,79.0 401.0,71.0 408.0,62.0 408.0,57.0 417.0,53.0 422.0,52.0 429.0,45.0 435.0,42.0 442.0,40.6 448.0,43.0 451.0,47.0 453.0,50.0 454.0,45.0 464.0,44.0 471.0,43.0 471.0,39.0 478.4,35.3 486.4,33.1 494.4,27.3 498.8,26.6 505.4,27.3 506.1,31.0 508.3,28.8 510.5,30.2 513.4,33.9 516.3,32.4 523.6,33.9 528.0,35.0 533.0,40.0 538.0,45.0 539.0,51.0 536.0,56.0 543.0,54.0 550.0,58.0 556.0,62.0 558.0,63.5 565.0,62.0 572.0,67.0 578.0,74.0 582.8,76.4 584.6,80.0 587.4,83.7 593.8,87.4 602.0,89.2 607.4,86.5 607.4,82.8 614.7,81.9 622.0,82.8 626.6,87.4 629.3,94.7 631.2,97.4 636.6,98.3 644.0,102.0 646.7,105.6 638.5,131.2 636.6,134.8 623.9,138.5 616.6,136.6 613.8,133.0 600.1,134.4 588.3,138.4 572.6,143.6 565.5,146.7 560.0,148.5 554.1,152.7 548.8,156.0 545.3,157.8 543.5,159.5 540.0,161.3 533.9,165.7 531.3,169.2 527.8,170.0 526.5,173.5 521.0,172.2 504.7,172.2 498.9,172.8 493.0,171.0 492.0,169.2 488.5,169.2 482.4,177.5 478.9,173.5 483.3,165.7 475.8,161.3 472.8,168.3 459.6,158.6 463.1,156.5 471.0,160.4 473.2,157.8 466.6,152.5 466.2,148.1 463.1,146.8 458.8,147.3 450.0,146.4 447.0,147.0 439.9,145.8 433.5,140.0 432.9,140.0 429.4,141.2 427.0,143.5 423.5,144.1 421.2,141.8 415.4,141.2 414.2,145.8 411.9,143.5 406.0,141.8 408.4,144.1 412.4,147.0 408.4,150.5 403.7,152.8 400.2,150.5 396.1,147.6 393.2,145.3 389.7,142.3 386.5,140.5 388.6,145.7 390.5,151.4 392.4,157.1 391.4,160.0 385.7,161.0 385.7,167.6 388.6,167.6 388.6,173.3 370.5,173.3 370.5,178.1 388.6,178.1 388.6,182.9 383.8,184.8 370.5,184.8 370.5,189.5 392.4,188.6 392.4,195.2 370.5,195.2 370.5,201.0 397.6,201.0 398.1,204.3 392.4,206.7" fill="#fff" stroke="#999" stroke-width="0.5"/>
<polygon points="402.9,125.0 409.4,125.0 412.0,126.4 423.9,127.0 438.7,126.0 438.7,135.0 432.0,137.0 433.5,140.0 432.9,140.0 429.4,141.2 427.0,143.5 423.5,144.1 421.2,141.8 415.4,141.2 414.2,145.8 411.9,143.5 406.0,141.8 408.4,144.1 412.4,147.0 408.4,150.5 403.7,152.8 400.2,150.5 396.1,147.6 393.2,145.3 391.0,145.0 396.3,137.6" fill="#ffffff" stroke="#777" stroke-width="0.4"/>
<polygon points="384.5,110.0 385.8,106.7 390.0,99.0 393.7,94.9 398.0,79.0 401.0,71.0 408.0,62.0 408.0,57.0 417.0,53.0 422.0,52.0 424.0,57.0 427.0,64.0 430.0,67.0 435.0,68.0 442.0,68.0 449.0,62.0 453.0,56.0 454.0,72.0 454.0,85.0 450.0,90.3 446.2,93.5 439.6,96.8 431.8,101.4 430.4,102.1 422.6,110.0 414.7,117.8 409.4,125.0 402.9,125.0 396.3,121.8 393.7,116.5 389.7,113.9" fill="#efeef8" stroke="#777" stroke-width="0.4"/>
<polygon points="422.0,52.0 429.0,45.0 435.0,42.0 442.0,40.6 448.0,43.0 451.0,47.0 453.0,50.0 453.0,56.0 449.0,62.0 442.0,68.0 435.0,68.0 430.0,67.0 427.0,64.0 424.0,57.0" fill="#efeef8" stroke="#777" stroke-width="0.4"/>
<polygon points="453.0,50.0 454.0,45.0 464.0,44.0 471.0,43.0 472.5,59.4 474.0,68.9 475.0,80.0 473.0,83.0 463.0,84.0 462.0,83.0 460.0,73.0 456.0,73.0 454.0,72.0 453.0,56.0" fill="#ffffff" stroke="#777" stroke-width="0.4"/>
<polygon points="454.0,72.0 456.0,73.0 460.0,73.0 462.0,83.0 463.0,84.0 466.0,91.0 460.0,93.0 455.5,97.2 452.0,95.0 448.0,92.9 450.0,90.3 454.0,85.0" fill="#9c83c0" stroke="#777" stroke-width="0.4"/>
<polygon points="430.4,102.1 431.8,101.4 439.6,96.8 446.2,93.5 448.0,92.9 452.0,95.0 455.5,97.2 450.4,106.4 448.8,109.3 443.6,108.7 438.3,108.0 433.0,104.7" fill="#ffffff" stroke="#777" stroke-width="0.4"/>
<polygon points="409.4,125.0 414.7,117.8 422.6,110.0 430.4,102.1 433.0,104.7 438.3,108.0 443.6,108.7 448.8,109.3 450.4,114.0 442.5,114.5 442.5,126.0 438.7,126.0 423.9,127.0 412.0,126.4" fill="#9c83c0" stroke="#777" stroke-width="0.4"/>
<polygon points="455.5,97.2 460.0,93.0 466.0,91.0 468.8,96.1 471.4,104.3 472.4,111.5 468.8,114.5 469.3,119.6 475.0,127.8 458.6,117.6 450.4,114.0 448.8,109.3 450.4,106.4" fill="#9c83c0" stroke="#777" stroke-width="0.4"/>
<polygon points="442.5,114.5 450.4,114.0 458.6,117.6 475.0,127.8 472.9,134.0 472.4,143.1 470.1,151.2 466.2,148.1 463.1,146.8 458.8,147.3 450.0,146.4 447.0,147.0 439.9,145.8 433.5,140.0 432.0,137.0 438.7,135.0 438.7,126.0 442.5,126.0" fill="#d9d4ea" stroke="#777" stroke-width="0.4"/>
<polygon points="463.0,84.0 473.0,83.0 475.0,80.0 478.0,92.0 481.0,106.0 484.0,113.0 476.0,114.0 472.4,111.5 471.4,104.3 468.8,96.1 466.0,91.0" fill="#9682b9" stroke="#777" stroke-width="0.4"/>
<polygon points="472.5,60.1 478.4,58.4 483.0,59.0 488.9,60.1 493.5,54.9 501.1,46.7 505.2,48.4 508.7,51.4 508.7,66.3 497.0,65.6 484.2,67.1 474.0,69.2" fill="#efeef8" stroke="#777" stroke-width="0.4"/>
<polygon points="471.0,43.0 471.0,39.0 478.4,35.3 486.4,33.1 494.4,44.8 501.1,46.7 493.5,54.9 488.9,60.1 483.0,59.0 478.4,58.4 472.5,60.1" fill="#9c83c0" stroke="#777" stroke-width="0.4"/>
<polygon points="486.4,33.1 494.4,27.3 498.8,26.6 505.4,27.3 506.1,31.0 508.3,28.8 510.5,30.2 513.4,33.9 516.3,32.4 523.6,33.9 519.2,36.8 514.9,40.4 515.6,44.8 508.7,51.4 505.2,48.4 501.1,46.7 494.4,44.8" fill="#d9d4ea" stroke="#777" stroke-width="0.4"/>
<polygon points="515.6,44.8 520.7,48.5 526.5,54.3 532.4,58.0 534.6,59.4 533.8,63.8 532.4,68.2 530.2,75.5 529.5,77.5 520.0,79.5 512.0,80.5 505.5,81.6 502.0,78.7 496.2,65.8 497.0,65.6 508.7,66.3 508.7,51.4" fill="#bbaed6" stroke="#777" stroke-width="0.4"/>
<polygon points="505.5,81.6 512.0,80.5 520.0,79.5 529.5,77.5 530.6,83.4 532.4,98.5 530.0,107.9 527.7,104.4 518.4,100.9 510.8,98.5 509.0,92.7 504.3,90.4" fill="#bbaed6" stroke="#777" stroke-width="0.4"/>
<polygon points="523.6,33.9 528.0,35.0 533.0,40.0 538.0,45.0 539.0,51.0 536.0,56.0 534.6,59.4 532.4,58.0 526.5,54.3 520.7,48.5 515.6,44.8 514.9,40.4 519.2,36.8" fill="#ffffff" stroke="#777" stroke-width="0.4"/>
<polygon points="534.6,59.4 536.0,56.0 543.0,54.0 550.0,58.0 556.0,62.0 558.0,63.5 555.7,70.5 549.9,74.6 541.7,75.2 529.5,75.2 530.2,75.5 532.4,68.2 533.8,63.8" fill="#efeef8" stroke="#777" stroke-width="0.4"/>
<polygon points="558.0,63.5 565.0,62.0 572.0,67.0 578.0,74.0 572.0,79.0 569.2,85.1 566.2,82.2 561.6,77.5 549.9,75.2 549.9,74.6 555.7,70.5" fill="#9c83c0" stroke="#777" stroke-width="0.4"/>
<polygon points="529.5,75.2 541.7,75.2 549.9,75.2 561.6,77.5 566.2,82.2 569.2,85.1 565.1,90.4 560.4,89.8 553.4,90.4 546.4,85.7 542.9,84.5 530.6,83.4 529.5,77.5" fill="#9c83c0" stroke="#777" stroke-width="0.4"/>
<polygon points="572.0,79.0 578.0,74.0 582.8,76.4 584.6,80.0 587.4,83.7 593.8,87.4 602.0,89.2 607.4,86.5 607.4,82.8 610.0,89.0 612.0,94.7 608.0,100.0 604.7,105.6 603.8,109.3 602.0,105.6 596.5,99.2 587.4,96.5 579.0,93.8 571.0,92.0 565.1,90.4 569.2,85.1" fill="#bbaed6" stroke="#777" stroke-width="0.4"/>
<polygon points="607.4,82.8 614.7,81.9 622.0,82.8 626.6,87.4 629.3,94.7 631.2,97.4 636.6,98.3 644.0,102.0 646.7,105.6 638.5,131.2 636.6,134.8 623.9,138.5 616.6,136.6 613.8,133.0 614.7,124.0 609.0,118.0 603.8,109.3 604.7,105.6 608.0,100.0 612.0,94.7 610.0,89.0" fill="#efeef8" stroke="#777" stroke-width="0.4"/>
<polygon points="565.1,90.4 571.0,92.0 579.0,93.8 579.1,101.6 576.5,112.7 567.3,115.4 560.0,118.4 558.1,116.0 555.5,112.1 556.8,107.5 560.7,102.9 563.4,95.0" fill="#ffffff" stroke="#777" stroke-width="0.4"/>
<polygon points="579.0,93.8 587.4,96.5 596.5,99.2 602.0,105.6 603.8,109.3 609.0,118.0 614.7,124.0 613.8,133.0 600.1,134.4 592.3,123.2 583.0,120.0 576.5,112.7 579.1,101.6" fill="#bbaed6" stroke="#777" stroke-width="0.4"/>
<polygon points="558.1,119.3 560.0,118.4 567.3,115.4 576.5,112.7 583.0,120.0 592.3,123.2 600.1,134.4 588.3,138.4 572.6,143.6 566.0,142.3 563.4,137.0 562.0,127.8 559.4,121.3" fill="#9c83c0" stroke="#777" stroke-width="0.4"/>
<polygon points="474.0,69.2 484.2,67.1 497.0,65.6 496.2,65.8 502.0,78.7 504.3,90.4 509.0,92.7 510.8,98.5 509.0,99.7 504.3,103.2 506.7,109.0 511.8,107.8 516.6,112.7 510.0,117.0 502.0,118.0 492.0,117.0 484.0,113.0 481.0,106.0 478.0,92.0 475.0,80.0" fill="#d3e6d4" stroke="#777" stroke-width="0.4"/>
<polygon points="504.3,103.2 509.0,99.7 510.8,98.5 518.4,100.9 527.7,104.4 530.0,107.9 531.2,114.9 524.2,115.5 517.2,115.5 516.6,112.7 511.8,107.8 506.7,109.0" fill="#bbaed6" stroke="#777" stroke-width="0.4"/>
<polygon points="530.6,83.4 542.9,84.5 541.7,95.0 541.1,103.2 544.0,109.0 548.7,116.0 551.0,120.7 541.0,117.0 532.4,114.9 531.2,114.9 530.0,107.9 532.4,98.5" fill="#bbaed6" stroke="#777" stroke-width="0.4"/>
<polygon points="542.9,84.5 546.4,85.7 553.4,90.4 560.4,89.8 565.1,90.4 563.4,95.0 560.7,102.9 556.8,107.5 555.5,112.1 558.1,116.0 558.1,119.3 555.5,121.3 550.3,122.3 551.0,120.7 548.7,116.0 544.0,109.0 541.1,103.2 541.7,95.0" fill="#9c83c0" stroke="#777" stroke-width="0.4"/>
<polygon points="516.6,112.7 517.2,115.5 524.2,115.5 531.2,114.9 541.0,117.0 551.0,120.7 550.3,122.3 539.0,126.3 523.0,126.3 518.0,124.7 516.0,118.0" fill="#9c83c0" stroke="#777" stroke-width="0.4"/>
<polygon points="502.0,118.0 510.0,117.0 516.0,118.0 518.0,124.7 523.0,126.3 532.6,126.3 524.6,133.5 521.4,137.6 516.6,136.8 515.2,134.9 509.4,131.4 502.4,130.8 501.3,131.1 501.2,126.7" fill="#bbaed6" stroke="#777" stroke-width="0.4"/>
<polygon points="469.3,119.6 468.8,114.5 472.4,111.5 476.0,114.0 484.0,113.0 492.0,117.0 502.0,118.0 501.2,126.7 501.3,131.1 496.0,134.9 494.2,141.3 488.4,139.0 482.5,136.0 474.3,134.3 472.9,134.0 475.0,127.8" fill="#d9d4ea" stroke="#777" stroke-width="0.4"/>
<polygon points="539.0,126.3 550.3,122.3 555.5,121.3 558.1,119.3 559.4,121.3 562.0,127.8 563.4,137.0 555.5,139.7 550.2,141.6 543.7,140.3 542.0,133.0" fill="#bbaed6" stroke="#777" stroke-width="0.4"/>
<polygon points="524.6,133.5 532.6,126.3 539.0,126.3 542.0,133.0 543.7,140.3 548.9,144.9 548.8,148.1 542.7,150.3 535.2,150.3 533.0,148.1 530.4,145.5 528.2,146.4 526.0,149.0 522.5,146.4 522.5,144.0 524.5,141.0 526.0,138.5 523.4,136.8 521.4,137.6" fill="#bbaed6" stroke="#777" stroke-width="0.4"/>
<polygon points="543.7,140.3 550.2,141.6 555.5,139.7 563.4,137.0 566.0,142.3 572.6,143.6 565.5,146.7 560.0,148.5 554.1,152.7 548.8,156.0 545.3,157.8 542.7,150.3 548.8,148.1 548.9,144.9" fill="#d9d4ea" stroke="#777" stroke-width="0.4"/>
<polygon points="494.2,141.3 496.0,134.9 501.3,131.1 502.4,130.8 509.4,131.4 515.2,134.9 512.0,137.0 509.0,141.0 508.0,146.0 503.5,150.0 497.7,147.7 494.8,143.0" fill="#d9d4ea" stroke="#777" stroke-width="0.4"/>
<polygon points="509.0,141.0 512.0,137.0 515.2,134.9 516.6,136.8 521.4,137.6 523.4,136.8 526.0,138.5 524.5,141.0 522.5,144.0 522.5,146.4 520.3,146.0 518.0,146.4 513.0,145.5 509.0,143.0" fill="#efeef8" stroke="#777" stroke-width="0.4"/>
<polygon points="503.5,150.0 508.0,146.0 509.0,143.0 513.0,145.5 518.0,146.4 520.3,146.0 522.5,146.4 526.0,149.0 522.5,152.5 520.3,149.9 515.5,150.8 508.2,150.6" fill="#bbaed6" stroke="#777" stroke-width="0.4"/>
<polygon points="493.0,154.7 494.8,153.5 500.0,151.2 503.5,150.0 508.2,150.6 515.5,150.8 520.3,149.9 522.5,152.5 525.1,156.0 523.4,158.6 521.6,161.3 520.3,163.9 522.5,164.8 526.0,168.3 526.5,173.5 521.0,172.2 504.7,172.2 498.9,172.8 493.0,171.0 492.4,165.2 493.6,159.4" fill="#bbaed6" stroke="#777" stroke-width="0.4"/>
<polygon points="488.4,139.0 494.2,141.3 494.8,143.0 497.7,147.7 503.5,150.0 500.0,151.2 494.8,153.5 493.0,154.7 493.6,159.4 492.4,165.2 492.0,169.2 488.5,169.2 482.4,177.5 478.9,173.5 483.3,165.7 484.0,155.0 487.0,147.0" fill="#d9d4ea" stroke="#777" stroke-width="0.4"/>
<polygon points="472.9,134.0 474.3,134.3 482.5,136.0 488.4,139.0 487.0,147.0 484.0,155.0 483.3,165.7 475.8,161.3 472.8,168.3 459.6,158.6 463.1,156.5 471.0,160.4 473.2,157.8 466.6,152.5 466.2,148.1 470.1,151.2 472.4,143.1" fill="#bbaed6" stroke="#777" stroke-width="0.4"/>
<polygon points="522.5,152.5 526.0,149.0 528.2,146.4 530.4,145.5 533.0,148.1 534.5,153.0 532.0,159.0 528.5,165.5 529.5,169.6 527.8,170.0 526.5,173.5 526.0,168.3 522.5,164.8 520.3,163.9 521.6,161.3 523.4,158.6 525.1,156.0" fill="#efeef8" stroke="#777" stroke-width="0.4"/>
<polygon points="533.0,148.1 535.2,150.3 542.7,150.3 545.3,157.8 543.5,159.5 540.0,161.3 533.9,165.7 531.3,169.2 529.5,169.6 528.5,165.5 532.0,159.0 534.5,153.0" fill="#efeef8" stroke="#777" stroke-width="0.4"/>
<polygon points="438.0,44.0 441.0,41.5 445.0,41.0 449.0,43.0 450.0,46.5 446.0,48.0 442.0,47.0 439.0,47.5" fill="#d8e8d8"/>
<polygon points="440.5,59.0 444.0,57.7 447.5,59.5 447.0,63.5 443.0,64.8 440.5,62.5" fill="#d8e8d8"/>
<polygon points="423.0,57.0 426.0,55.3 430.0,56.5 429.5,59.5 425.5,60.2" fill="#d8e8d8"/>
<polygon points="433.0,100.0 437.0,98.0 440.0,101.0 438.0,104.0 434.0,103.0" fill="#d8e8d8"/>
<polygon points="445.0,100.0 448.0,99.0 451.0,102.0 448.0,104.5" fill="#d8e8d8"/>
<polygon points="631.2,60.0 633.4,56.2 637.7,51.9 642.0,49.7 647.4,48.1 652.3,47.6 655.5,49.2 657.1,51.9 660.4,53.0 665.8,54.6 672.3,57.3 677.7,61.6 680.9,65.9 682.5,70.2 684.7,73.5 684.7,75.6 682.0,85.4 678.7,91.9 675.5,98.3 675.0,104.8 676.6,111.3 679.8,117.8 680.4,120.0 678.5,119.5 673.3,113.5 660.4,101.6 647.4,89.7 639.8,83.2 636.6,77.8 636.0,75.6 640.0,75.0 644.2,74.6 645.8,71.3 644.7,68.1 639.8,70.2 635.5,70.8 632.8,68.1 631.2,63.8" fill="#fff" stroke="#999" stroke-width="0.5"/>
<polygon points="576.8,59.8 581.6,57.0 588.2,59.8 598.6,62.7 606.2,63.6 611.9,63.3 620.5,62.1 625.2,64.6 627.1,71.2 625.2,74.1 617.6,74.1 611.9,75.0 606.2,75.4 600.5,76.9 595.8,76.0 593.0,73.1 589.2,70.3 583.5,66.5 578.7,63.6" fill="#c8dfcb" stroke="#999" stroke-width="0.5"/>
<polygon points="497.6,174.4 508.0,173.1 514.7,171.8 520.0,173.1 520.6,175.7 524.5,179.7 521.9,183.6 516.0,188.9 512.0,188.9 505.5,183.6 498.9,177.0" fill="#efeef8" stroke="#999" stroke-width="0.5"/>
<polygon points="394.9,165.1 399.0,163.4 405.0,159.5 411.9,155.2 416.5,152.8 423.5,152.3 422.0,156.0 418.9,160.4 416.0,162.8 416.0,164.5 419.5,164.0 422.4,161.6 426.0,156.0 429.4,151.7 432.9,151.7 438.7,151.7 442.2,152.8 444.6,156.4 448.1,160.4 452.2,163.4 452.2,165.7 448.1,166.9 444.0,167.0 441.6,168.0 446.9,169.2 445.7,172.1 442.2,174.5 438.7,173.9 435.2,171.0 431.7,168.6 430.0,169.2 431.1,171.0 435.2,173.9 434.1,175.6 428.2,178.5 422.4,180.9 421.0,177.0 420.0,173.9 417.7,171.0 415.9,169.2 413.0,171.0 414.5,175.0 417.1,180.9 419.5,186.7 418.9,189.0 414.2,192.6 410.1,196.1 408.4,200.1 405.4,196.6 404.9,192.6 400.2,185.0 397.8,178.5 395.5,170.4" fill="#fff" stroke="#999" stroke-width="0.5"/>
<polygon points="452.2,192.3 455.7,190.2 461.8,191.4 467.0,188.4 471.4,189.6 475.8,194.0 478.4,198.9 474.0,198.4 467.9,197.5 462.7,196.6 457.4,194.9 453.0,194.0" fill="#fff" stroke="#999" stroke-width="0.5"/>
<polygon points="430.3,212.4 435.5,208.0 441.6,206.3 445.1,208.0 448.7,213.3 442.5,214.2 435.5,214.2" fill="#fff" stroke="#999" stroke-width="0.5"/>
<polygon points="464.4,204.5 466.2,208.9 467.0,213.3 469.7,210.7 475.8,208.9 480.2,209.8 481.1,214.2 477.6,219.4 472.3,224.7 467.9,222.9 466.2,218.5 464.4,215.0" fill="#fff" stroke="#999" stroke-width="0.5"/>
<polygon points="437.3,225.5 440.8,222.9 445.1,222.0 446.9,224.7 444.3,227.3 439.0,229.4" fill="#fff" stroke="#999" stroke-width="0.5"/>
<polygon points="487.2,208.9 489.0,209.5 492.4,214.5 491.5,215.2 488.0,211.0" fill="#fff" stroke="#999" stroke-width="0.5"/>
<polygon points="523.0,185.0 526.0,184.4 529.0,186.5 527.5,189.6 524.0,189.0" fill="#fff" stroke="#999" stroke-width="0.5"/>
<polygon points="515.2,193.0 517.5,191.4 520.5,194.0 519.0,197.5 516.0,196.5" fill="#fff" stroke="#999" stroke-width="0.5"/>
<polygon points="521.0,201.0 524.0,196.0 527.0,194.0 530.0,193.0 532.0,196.0 534.5,199.0 531.0,202.0 528.0,200.0 525.0,205.0 522.0,206.0" fill="#fff" stroke="#999" stroke-width="0.5"/>
<polygon points="457.4,196.6 461.8,197.5 460.5,199.6 457.8,199.3" fill="#fff" stroke="#999" stroke-width="0.5"/>
<polygon points="588.5,71.0 592.0,70.3 595.8,73.0 594.0,76.5 590.0,77.0" fill="#fff" stroke="#999" stroke-width="0.5"/>
<polygon points="444.3,233.0 449.0,231.7 453.9,233.0 451.0,235.0 446.0,235.0" fill="#fff" stroke="#999" stroke-width="0.5"/>
<polyline points="535.2,152.0 540.5,156.5 537.0,163.0" fill="none" stroke="#888" stroke-width="0.35"/>
<polyline points="525.1,156.0 529.0,158.0 532.0,159.0" fill="none" stroke="#888" stroke-width="0.35"/>
<polyline points="523.4,158.6 527.0,163.0 528.5,165.5" fill="none" stroke="#888" stroke-width="0.35"/>
<polygon points="509.6,172.5 513,171.6 517,172 519.9,174.5 518,177.2 513,177.2 510.5,175.5" fill="#bbaed6" stroke="#888" stroke-width="0.3"/></g>
<text x="0.2" y="11.6" font-size="13.5" font-weight="bold">a</text>
<text x="342.3" y="11.6" font-size="13.5" font-weight="bold">b</text>
<text x="0.2" y="276.2" font-size="13.5" font-weight="bold">c</text>
<text x="342.0" y="276.0" font-size="13.5" font-weight="bold">d</text>
<text x="0.5" y="553.6" font-size="13.5" font-weight="bold">e</text>
<text x="340.8" y="553.6" font-size="13.5" font-weight="bold">f</text>
<text x="69.9" y="8.0" font-size="10.2" font-weight="bold" textLength="164.0" lengthAdjust="spacingAndGlyphs">Singapore population density, 2018</text>
<text x="404.9" y="7.8" font-size="10.2" font-weight="bold" textLength="235.4" lengthAdjust="spacingAndGlyphs">Diabetes cases across planning area (HELIOS Study)</text>
<text x="58.1" y="276.2" font-size="10.4" font-weight="bold" textLength="200.0" lengthAdjust="spacingAndGlyphs">Hawker centres and related amenities, 2022</text>
<text x="441.2" y="261.9" font-size="9.8" font-weight="bold" textLength="163.8" lengthAdjust="spacingAndGlyphs">Public/ private residence ratio, 2018</text>
<text x="415.0" y="274.8" font-size="10.2" font-weight="bold" textLength="215.7" lengthAdjust="spacingAndGlyphs">Public parks, connectors, nature reserves, 2019</text>
<text x="86.9" y="554.5" font-size="10.8" font-weight="bold" textLength="185.9" lengthAdjust="spacingAndGlyphs">Food amenities/ area and diabetes cases</text>
<text x="434.9" y="554.5" font-size="10.8" font-weight="bold" textLength="158.0" lengthAdjust="spacingAndGlyphs">Public housing and diabetes cases</text>
<text x="224.8" y="56.9" font-size="8.6" fill="#231f20" textLength="35.4" lengthAdjust="spacingAndGlyphs">Pulau Ubin</text>
<text x="281.2" y="70.9" font-size="8.6" fill="#231f20" textLength="23.3" lengthAdjust="spacingAndGlyphs">Tekong</text>
<text x="281.2" y="80.2" font-size="8.6" fill="#231f20" textLength="18.8" lengthAdjust="spacingAndGlyphs">island</text>
<text x="190.5" y="99.4" font-size="8.4" fill="#231f20" textLength="24.2" lengthAdjust="spacingAndGlyphs">military</text>
<text x="190.5" y="108.0" font-size="8.4" fill="#231f20" textLength="27.0" lengthAdjust="spacingAndGlyphs">airspace</text>
<text x="248.9" y="106.7" font-size="8.6" fill="#231f20" textLength="23.1" lengthAdjust="spacingAndGlyphs">Changi</text>
<text x="248.9" y="116.2" font-size="8.6" fill="#231f20" textLength="22.8" lengthAdjust="spacingAndGlyphs">Airport</text>
<text x="11.8" y="165.2" font-size="8.0" fill="#231f20" textLength="51.3" lengthAdjust="spacingAndGlyphs">Industrial estate</text>
<text x="151.9" y="185.0" font-size="8.6" fill="#231f20" textLength="24.9" lengthAdjust="spacingAndGlyphs">Sentosa</text>
<text x="116.9" y="222.8" font-size="8.4" fill="#231f20" textLength="42.8" lengthAdjust="spacingAndGlyphs">Bukom island</text>
<text x="217.7" y="167.9" font-size="8.4" fill="#231f20" textLength="61.3" lengthAdjust="spacingAndGlyphs">Population density</text>
<rect x="217.7" y="178.7" width="10.9" height="6.0" fill="#e6eef8"/>
<rect x="217.7" y="184.7" width="10.9" height="5.9" fill="#c4dcef"/>
<rect x="217.7" y="190.6" width="10.9" height="6.0" fill="#9fc2e3"/>
<rect x="217.7" y="196.6" width="10.9" height="6.2" fill="#7f98b8"/>
<text x="230.6" y="177.8" font-size="7.0" fill="#231f20" textLength="12.2" lengthAdjust="spacingAndGlyphs">0 - 0</text>
<text x="230.6" y="183.8" font-size="7.0" fill="#231f20" textLength="24.1" lengthAdjust="spacingAndGlyphs">0 - 0.001</text>
<text x="230.6" y="190.0" font-size="7.0" fill="#231f20" textLength="36.3" lengthAdjust="spacingAndGlyphs">0.001 - 0.008</text>
<text x="230.6" y="196.0" font-size="7.0" fill="#231f20" textLength="36.3" lengthAdjust="spacingAndGlyphs">0.008 - 0.012</text>
<text x="230.6" y="202.1" font-size="7.0" fill="#231f20" textLength="35.1" lengthAdjust="spacingAndGlyphs">0.012 - 0.031</text>
<circle cx="223.7" cy="213" r="2.8" fill="#dba46a" stroke="#b07a40" stroke-width="0.4"/>
<text x="233.4" y="214.8" font-size="7.6" fill="#231f20" textLength="66.9" lengthAdjust="spacingAndGlyphs">Participant postcode</text>
<text x="464.9" y="47.5" font-size="7.4" fill="#231f20" textLength="36.2" lengthAdjust="spacingAndGlyphs">Woodlands</text>
<text x="509.0" y="70.3" font-size="7.4" fill="#231f20" textLength="20.7" lengthAdjust="spacingAndGlyphs">Yishun</text>
<text x="424.2" y="116.2" font-size="7.2" fill="#231f20" textLength="21.9" lengthAdjust="spacingAndGlyphs">Jurong</text>
<text x="424.2" y="125.3" font-size="7.2" fill="#231f20" textLength="14.9" lengthAdjust="spacingAndGlyphs">West</text>
<text x="443.9" y="128.8" font-size="7.2" fill="#231f20" textLength="21.9" lengthAdjust="spacingAndGlyphs">Jurong</text>
<text x="443.9" y="138.7" font-size="7.2" fill="#231f20" textLength="12.3" lengthAdjust="spacingAndGlyphs">East</text>
<text x="565.5" y="167.6" font-size="8.2" fill="#231f20" textLength="87.9" lengthAdjust="spacingAndGlyphs">Diabetes/ total participants</text>
<rect x="565.5" y="176" width="10.5" height="6" fill="#eef6ee"/>
<rect x="565.5" y="182" width="10.5" height="5.8" fill="#d0e9d4"/>
<rect x="565.5" y="187.8" width="10.5" height="6.1" fill="#abd6bc"/>
<rect x="565.5" y="193.9" width="10.5" height="5.8" fill="#9db6a6"/>
<text x="580.6" y="181.0" font-size="7.0" fill="#231f20" textLength="12.2" lengthAdjust="spacingAndGlyphs">0 - 0</text>
<text x="580.6" y="186.8" font-size="7.0" fill="#231f20" textLength="24.1" lengthAdjust="spacingAndGlyphs">0 - 0.070</text>
<text x="580.6" y="192.6" font-size="7.0" fill="#231f20" textLength="36.3" lengthAdjust="spacingAndGlyphs">0.070 - 0.095</text>
<text x="580.6" y="198.4" font-size="7.0" fill="#231f20" textLength="36.3" lengthAdjust="spacingAndGlyphs">0.095 - 0.200</text>
<text x="136.6" y="428.9" font-size="8.4" fill="#231f20" textLength="16.5" lengthAdjust="spacingAndGlyphs">Bukit</text>
<text x="136.6" y="438.4" font-size="8.4" fill="#231f20" textLength="21.1" lengthAdjust="spacingAndGlyphs">Merah</text>
<line x1="157.7" y1="425.5" x2="192.8" y2="471.9" stroke="#231f20" stroke-width="0.6"/>
<text x="193.1" y="481.9" font-size="8.4" fill="#231f20" textLength="24.9" lengthAdjust="spacingAndGlyphs">Outram</text>
<text x="216.9" y="434.2" font-size="8.4" fill="#231f20" textLength="113.9" lengthAdjust="spacingAndGlyphs">Food amenities*population density</text>
<rect x="216.4" y="442.8" width="10.9" height="6.4" fill="#fbdde0"/>
<rect x="216.4" y="449.2" width="10.9" height="6.0" fill="#f7bfc2"/>
<rect x="216.4" y="455.2" width="10.9" height="5.9" fill="#f29da1"/>
<rect x="216.4" y="461.1" width="10.9" height="6.3" fill="#ec7c81"/>
<text x="229.2" y="441.0" font-size="7.0" fill="#231f20" textLength="11.8" lengthAdjust="spacingAndGlyphs">0 - 0</text>
<text x="229.2" y="448.3" font-size="7.0" fill="#231f20" textLength="24.0" lengthAdjust="spacingAndGlyphs">0 - 0.405</text>
<text x="229.2" y="455.2" font-size="7.0" fill="#231f20" textLength="35.5" lengthAdjust="spacingAndGlyphs">0.405 - 1.689</text>
<text x="229.2" y="461.1" font-size="7.0" fill="#231f20" textLength="35.5" lengthAdjust="spacingAndGlyphs">1.689 - 3.324</text>
<text x="229.2" y="467.8" font-size="7.0" fill="#231f20" textLength="35.5" lengthAdjust="spacingAndGlyphs">3.324 - 8.548</text>
<text x="479.6" y="353.6" font-size="8.4" fill="#231f20" textLength="35.4" lengthAdjust="spacingAndGlyphs">MacRitchie</text>
<text x="479.6" y="362.4" font-size="8.4" fill="#231f20" textLength="28.7" lengthAdjust="spacingAndGlyphs">reservoir</text>
<text x="572.8" y="434.2" font-size="8.4" fill="#231f20" textLength="96.1" lengthAdjust="spacingAndGlyphs">Public/ private residence ratio</text>
<rect x="573.7" y="443.7" width="10.4" height="6.0" fill="#efedf6"/>
<rect x="573.7" y="449.7" width="10.4" height="6.3" fill="#d8d2ea"/>
<rect x="573.7" y="456" width="10.4" height="6" fill="#b3a6d6"/>
<rect x="573.7" y="462" width="10.4" height="6" fill="#8f7aa8"/>
<text x="589.2" y="443.7" font-size="7.0" fill="#231f20" textLength="11.9" lengthAdjust="spacingAndGlyphs">0 - 0</text>
<text x="589.2" y="450.1" font-size="7.0" fill="#231f20" textLength="23.7" lengthAdjust="spacingAndGlyphs">0 - 0.000</text>
<text x="589.2" y="456.0" font-size="7.0" fill="#231f20" textLength="35.6" lengthAdjust="spacingAndGlyphs">0.001 - 0.001</text>
<text x="589.2" y="462.0" font-size="7.0" fill="#231f20" textLength="35.6" lengthAdjust="spacingAndGlyphs">0.001 - 0.124</text>
<text x="589.2" y="468.4" font-size="7.0" fill="#231f20" textLength="46.5" lengthAdjust="spacingAndGlyphs">0.124 - 1623.000</text>
<rect x="573.7" y="476.9" width="10.4" height="5.5" fill="#c5dfcc"/>
<text x="589.2" y="481.7" font-size="8.4" fill="#231f20" textLength="69.9" lengthAdjust="spacingAndGlyphs">Parks, nature reserves</text>
<polygon points="70,658 120,668 170,677 230,684 299,690 299,754.6 230,735 170,718.4 120,703 70,690" fill="#fbf1f5"/>
<polygon points="70,655 120,664 170,675 230,680 299,683.4 299,743 230,728 170,715 120,700 70,688" fill="#f1ecf4"/>
<line x1="70.1" y1="668.3" x2="298.9" y2="718.9" stroke="#e2356f" stroke-width="1.3"/>
<line x1="70.1" y1="665.5" x2="297.3" y2="713.7" stroke="#1d7193" stroke-width="1.5" stroke-dasharray="5,3.5"/>
<line x1="105.5" y1="655.5" x2="113" y2="649.6" stroke="#555" stroke-width="0.5"/>
<line x1="72" y1="662" x2="75.5" y2="658.5" stroke="#555" stroke-width="0.5"/>
<line x1="99.5" y1="669.9" x2="110.5" y2="668.6" stroke="#555" stroke-width="0.5"/>
<line x1="92.4" y1="695.5" x2="109.9" y2="680.1" stroke="#555" stroke-width="0.5"/>
<line x1="133.5" y1="702" x2="142" y2="693.5" stroke="#555" stroke-width="0.5"/>
<circle cx="76.5" cy="594.6" r="2.6" fill="#27b48c"/>
<circle cx="77.1" cy="631.9" r="4.8" fill="#ef6790"/>
<circle cx="99" cy="639.6" r="5.5" fill="#17b9a7"/>
<circle cx="111.5" cy="635.2" r="2.8" fill="#3bb44a"/>
<circle cx="104" cy="658.8" r="4.1" fill="#f06a5d"/>
<circle cx="85.1" cy="664.2" r="3.7" fill="#d9a12a"/>
<circle cx="69.9" cy="664.8" r="2.9" fill="#a083c9"/>
<circle cx="82.1" cy="669.9" r="4.9" fill="#ef5fae"/>
<circle cx="97.6" cy="669.9" r="2.8" fill="#8cad3a"/>
<circle cx="72.8" cy="679.8" r="4.1" fill="#3a9ee0"/>
<circle cx="99.1" cy="689.7" r="4.1" fill="#5db746"/>
<circle cx="101.7" cy="695" r="5.2" fill="#d36cc4"/>
<circle cx="107" cy="698.8" r="5.2" fill="#f07e3a"/>
<circle cx="113.2" cy="708.2" r="3.5" fill="#c86ac8"/>
<circle cx="132.2" cy="704" r="4.6" fill="#2eb566"/>
<circle cx="158.1" cy="705.5" r="2.6" fill="#e8892a"/>
<circle cx="159.8" cy="709.7" r="3.7" fill="#4a8fe0"/>
<circle cx="161.4" cy="728.3" r="4.6" fill="#b47cd0"/>
<circle cx="167.5" cy="691.7" r="2.6" fill="#8f86d8"/>
<circle cx="181.7" cy="701.6" r="3.5" fill="#ec6fb8"/>
<circle cx="184.7" cy="657.8" r="4.0" fill="#c9a32a"/>
<circle cx="205.5" cy="696.7" r="1.5" fill="#2aa0e0"/>
<circle cx="276.8" cy="712.3" r="1.0" fill="#2ab0e0"/>
<circle cx="294.5" cy="708.4" r="3.5" fill="#36b34a"/>
<circle cx="298.9" cy="678.0" r="2.8" fill="#22bcc8"/>
<text x="69" y="602.4" font-size="4.5" fill="#8a8a8a">JURONG EAST</text>
<text x="62.4" y="628.3" font-size="4.5" fill="#8a8a8a">YISHUN</text>
<text x="73.8" y="647.9" font-size="4.5" fill="#8a8a8a">JURONG WEST</text>
<text x="108.2" y="631.5" font-size="4.5" fill="#8a8a8a">CLEMENTI</text>
<text x="113.9" y="651.6" font-size="4.5" fill="#8a8a8a">ANG MO KIO</text>
<text x="61.7" y="657.7" font-size="4.5" fill="#8a8a8a">SEMBAWANG</text>
<text x="78.2" y="660.5" font-size="4.5" fill="#8a8a8a">BUKIT BATOK</text>
<text x="75.5" y="677.4" font-size="4.5" fill="#8a8a8a">WOODLANDS</text>
<text x="111" y="670.9" font-size="4.5" fill="#8a8a8a">BUKIT TIMAH</text>
<text x="61.7" y="687.9" font-size="4.5" fill="#8a8a8a">PASIR RIS</text>
<text x="111" y="681.9" font-size="4.5" fill="#8a8a8a">CHOA CHU KANG</text>
<text x="102.3" y="691.7" font-size="4.5" fill="#8a8a8a">TAMPINES</text>
<text x="61.7" y="701.6" font-size="4.5" fill="#8a8a8a">BUKIT PANJANG</text>
<text x="111" y="704.9" font-size="4.5" fill="#8a8a8a">BEDOK</text>
<text x="104.4" y="716.3" font-size="4.5" fill="#8a8a8a">SERANGOON</text>
<text x="131.8" y="692.8" font-size="4.5" fill="#8a8a8a">HOUGANG</text>
<text x="154.4" y="702.2" font-size="4.5" fill="#8a8a8a">BISHAN</text>
<text x="139.5" y="718" font-size="4.5" fill="#8a8a8a">PUNGGOL</text>
<text x="165.8" y="727.9" font-size="4.5" fill="#8a8a8a">SENGKANG</text>
<text x="163.6" y="687.8" font-size="4.5" fill="#8a8a8a">QUEENSTOWN</text>
<text x="177" y="709.7" font-size="4.5" fill="#8a8a8a">TOA PAYOH</text>
<text x="177" y="654.3" font-size="4.5" fill="#8a8a8a">BUKIT MERAH</text>
<text x="204.3" y="693.3" font-size="4.5" fill="#8a8a8a">NOVENA</text>
<text x="250.1" y="720.2" font-size="4.5" fill="#8a8a8a">MARINE PARADE</text>
<text x="285.6" y="704.7" font-size="4.5" fill="#8a8a8a">GEYLANG</text>
<text x="280.3" y="674.5" font-size="4.5" fill="#8a8a8a">KALLANG</text>
<path d="M58.5,587.5 V763 H310.2" fill="none" stroke="#2b2b2b" stroke-width="1.1"/>
<line x1="56.3" y1="591" x2="58.5" y2="591" stroke="#333" stroke-width="0.8"/>
<text x="53.6" y="593.4" font-size="6.8" fill="#5e5e5e" text-anchor="end">0.16</text>
<line x1="56.3" y1="639.7" x2="58.5" y2="639.7" stroke="#333" stroke-width="0.8"/>
<text x="53.6" y="642.1" font-size="6.8" fill="#5e5e5e" text-anchor="end">0.12</text>
<line x1="56.3" y1="688.4" x2="58.5" y2="688.4" stroke="#333" stroke-width="0.8"/>
<text x="53.6" y="690.8" font-size="6.8" fill="#5e5e5e" text-anchor="end">0.08</text>
<line x1="56.3" y1="737.1" x2="58.5" y2="737.1" stroke="#333" stroke-width="0.8"/>
<text x="53.6" y="739.5" font-size="6.8" fill="#5e5e5e" text-anchor="end">0.04</text>
<line x1="87.3" y1="763" x2="87.3" y2="765.2" stroke="#333" stroke-width="0.8"/>
<text x="87.3" y="773.3" font-size="6.8" fill="#5e5e5e" text-anchor="middle">1e-05</text>
<line x1="135.9" y1="763" x2="135.9" y2="765.2" stroke="#333" stroke-width="0.8"/>
<text x="135.9" y="773.3" font-size="6.8" fill="#5e5e5e" text-anchor="middle">2e-05</text>
<line x1="184.5" y1="763" x2="184.5" y2="765.2" stroke="#333" stroke-width="0.8"/>
<text x="184.5" y="773.3" font-size="6.8" fill="#5e5e5e" text-anchor="middle">3e-05</text>
<line x1="233.1" y1="763" x2="233.1" y2="765.2" stroke="#333" stroke-width="0.8"/>
<text x="233.1" y="773.3" font-size="6.8" fill="#5e5e5e" text-anchor="middle">4e-05</text>
<line x1="281.7" y1="763" x2="281.7" y2="765.2" stroke="#333" stroke-width="0.8"/>
<text x="281.7" y="773.3" font-size="6.8" fill="#5e5e5e" text-anchor="middle">5e-05</text>
<text x="120" y="783.4" font-size="8.9" textLength="129" lengthAdjust="spacingAndGlyphs">Food amenities/ area, Singapore</text>
<text transform="translate(36.6,714.9) rotate(-90)" font-size="9.2" fill="#000" textLength="80.2" lengthAdjust="spacingAndGlyphs">Diabetes proportion</text>
<circle cx="80.4" cy="566" r="1.5" fill="#000"/>
<circle cx="123.3" cy="566" r="3.0" fill="#000"/>
<circle cx="170.5" cy="566" r="3.6" fill="#000"/>
<circle cx="217.4" cy="566" r="4.5" fill="#000"/>
<circle cx="264.3" cy="566" r="5.1" fill="#000"/>
<text x="91.9" y="568.6" font-size="7.2" fill="#333" textLength="19.9" lengthAdjust="spacingAndGlyphs">50000</text>
<text x="134.8" y="568.6" font-size="7.2" fill="#333" textLength="24.0" lengthAdjust="spacingAndGlyphs">100000</text>
<text x="182.5" y="568.6" font-size="7.2" fill="#333" textLength="23.7" lengthAdjust="spacingAndGlyphs">150000</text>
<text x="228.6" y="568.6" font-size="7.2" fill="#333" textLength="24.3" lengthAdjust="spacingAndGlyphs">200000</text>
<text x="275.3" y="568.6" font-size="7.2" fill="#333" textLength="24.5" lengthAdjust="spacingAndGlyphs">250000</text>
<line x1="152" y1="593.6" x2="163.6" y2="593.6" stroke="#e41a1c" stroke-width="1.2"/>
<line x1="152" y1="605.6" x2="163.6" y2="605.6" stroke="#3a87c8" stroke-width="1.2" stroke-dasharray="4,2.5"/>
<text x="165.5" y="596.8" font-size="10.0" textLength="130.6" lengthAdjust="spacingAndGlyphs">weighted, adj R2=0.18, p=0.03</text>
<text x="165.3" y="609.9" font-size="10.0" textLength="102.3" lengthAdjust="spacingAndGlyphs">Pearson’s r=-0.5, p=0.01</text>
<polygon points="406.2,699 480,690 560,665 634.8,626.6 634.8,700.4 560,715 480,733 406.2,749.4" fill="#f5f5fb"/>
<polygon points="406.2,701 480,693 560,672 634.8,637.6 634.8,694.5 560,712 480,730 406.2,745" fill="#f3ebf3"/>
<line x1="406.2" y1="724.2" x2="634.8" y2="666.8" stroke="#e2356f" stroke-width="1.3"/>
<line x1="406.2" y1="721.9" x2="634.8" y2="659.7" stroke="#1d7193" stroke-width="1.5" stroke-dasharray="5,3.5"/>
<circle cx="572.9" cy="595" r="2.6" fill="#27b48c"/>
<circle cx="563.1" cy="639.4" r="4.7" fill="#ef6790"/>
<circle cx="607.2" cy="649.2" r="5.4" fill="#17b9a7"/>
<circle cx="574.8" cy="670.7" r="3.7" fill="#c9a32a"/>
<circle cx="454.8" cy="643.4" r="2.8" fill="#3bb44a"/>
<circle cx="479.3" cy="672.1" r="4.0" fill="#f06a5d"/>
<circle cx="462.5" cy="678.5" r="3.3" fill="#d9a12a"/>
<circle cx="525.8" cy="679.2" r="2.6" fill="#a083c9"/>
<circle cx="634.8" cy="685.7" r="5.1" fill="#ef5fae"/>
<circle cx="405.8" cy="685.6" r="2.5" fill="#8db33a"/>
<circle cx="447.1" cy="697.2" r="3.6" fill="#3b9ee4"/>
<circle cx="469.8" cy="695.2" r="3.0" fill="#25c0c8"/>
<circle cx="497.6" cy="710.3" r="3.7" fill="#a8a82a"/>
<circle cx="488.1" cy="711.4" r="2.9" fill="#8a88d8"/>
<circle cx="418.4" cy="717.9" r="1.5" fill="#2ab8f0"/>
<circle cx="435" cy="720.1" r="5.2" fill="#f47f3a"/>
<circle cx="442.9" cy="728.7" r="2.8" fill="#ec8a2c"/>
<circle cx="458.4" cy="726.6" r="4.6" fill="#27b060"/>
<circle cx="457.7" cy="731.7" r="3.0" fill="#36b34a"/>
<circle cx="490.2" cy="724" r="3.4" fill="#ec5fa8"/>
<circle cx="425.9" cy="731.9" r="3.0" fill="#c86ac8"/>
<circle cx="416.6" cy="736.8" r="1.1" fill="#2ab0e0"/>
<circle cx="518.7" cy="715.5" r="5.2" fill="#d86cc0"/>
<circle cx="518.7" cy="733.3" r="4.0" fill="#4a8ee4"/>
<circle cx="532.6" cy="755.6" r="4.8" fill="#b47ed0"/>
<circle cx="546" cy="710.2" r="4.2" fill="#5db746"/>
<text x="549.5" y="602.4" font-size="4.5" fill="#8a8a8a">JURONG EAST</text>
<text x="563.5" y="635.7" font-size="4.5" fill="#8a8a8a">YISHUN</text>
<text x="581.8" y="656.9" font-size="4.5" fill="#8a8a8a">JURONG WEST</text>
<text x="568.2" y="667.1" font-size="4.5" fill="#8a8a8a">BUKIT MERAH</text>
<text x="435.4" y="650.9" font-size="4.5" fill="#8a8a8a">CLEMENTI</text>
<text x="474" y="668.4" font-size="4.5" fill="#8a8a8a">ANG MO KIO</text>
<text x="439.4" y="686.8" font-size="4.5" fill="#8a8a8a">BUKIT BATOK</text>
<text x="503.1" y="687.6" font-size="4.5" fill="#8a8a8a">SEMBAWANG</text>
<text x="601.4" y="689.8" font-size="4.5" fill="#8a8a8a">WOODLANDS</text>
<text x="399.9" y="693.6" font-size="4.5" fill="#8a8a8a">BUKIT TIMAH</text>
<text x="420.9" y="702.9" font-size="4.5" fill="#8a8a8a">PASIR RIS</text>
<text x="474" y="696.2" font-size="4.5" fill="#8a8a8a">KALLANG</text>
<text x="489.6" y="707" font-size="4.5" fill="#8a8a8a">BUKIT PANJANG</text>
<text x="450.6" y="712.5" font-size="4.5" fill="#8a8a8a">QUEENSTOWN</text>
<text x="400.4" y="714.6" font-size="4.5" fill="#8a8a8a">NOVENA</text>
<text x="425.6" y="713.6" font-size="4.5" fill="#8a8a8a">BEDOK</text>
<text x="439.4" y="723.1" font-size="4.5" fill="#8a8a8a">BISHAN</text>
<text x="461.8" y="721.9" font-size="4.5" fill="#8a8a8a">HOUGANG</text>
<text x="454.8" y="739.4" font-size="4.5" fill="#8a8a8a">GEYLANG</text>
<text x="483.3" y="732.2" font-size="4.5" fill="#8a8a8a">TOA PAYOH</text>
<text x="402.7" y="728.9" font-size="4.5" fill="#8a8a8a">SERANGOON</text>
<text x="397.6" y="744.9" font-size="4.5" fill="#8a8a8a">MARINE PARADE</text>
<text x="515.3" y="723.6" font-size="4.5" fill="#8a8a8a">TAMPINES</text>
<text x="515.3" y="741.1" font-size="4.5" fill="#8a8a8a">PUNGGOL</text>
<text x="502.4" y="760.5" font-size="4.5" fill="#8a8a8a">SENGKANG</text>
<text x="535" y="706.1" font-size="4.5" fill="#8a8a8a">CHOA CHU KANG</text>
<path d="M394.1,587.3 V763.4 H646" fill="none" stroke="#2b2b2b" stroke-width="1.1"/>
<line x1="391.90000000000003" y1="590.8" x2="394.1" y2="590.8" stroke="#333" stroke-width="0.8"/>
<text x="390.6" y="593.1999999999999" font-size="6.8" fill="#5e5e5e" text-anchor="end">0.16</text>
<line x1="391.90000000000003" y1="649.1" x2="394.1" y2="649.1" stroke="#333" stroke-width="0.8"/>
<text x="390.6" y="651.5" font-size="6.8" fill="#5e5e5e" text-anchor="end">0.12</text>
<line x1="391.90000000000003" y1="707.4" x2="394.1" y2="707.4" stroke="#333" stroke-width="0.8"/>
<text x="390.6" y="709.8" font-size="6.8" fill="#5e5e5e" text-anchor="end">0.08</text>
<line x1="404.3" y1="763.4" x2="404.3" y2="765.6" stroke="#333" stroke-width="0.8"/>
<text x="404.3" y="773.6999999999999" font-size="6.8" fill="#5e5e5e" text-anchor="middle">0</text>
<line x1="489.8" y1="763.4" x2="489.8" y2="765.6" stroke="#333" stroke-width="0.8"/>
<text x="489.8" y="773.6999999999999" font-size="6.8" fill="#5e5e5e" text-anchor="middle">5</text>
<line x1="575.3" y1="763.4" x2="575.3" y2="765.6" stroke="#333" stroke-width="0.8"/>
<text x="575.3" y="773.6999999999999" font-size="6.8" fill="#5e5e5e" text-anchor="middle">10</text>
<text x="439.4" y="783.8" font-size="8.9" textLength="161.5" lengthAdjust="spacingAndGlyphs">Public/Private residence ratio, Singapore</text>
<text transform="translate(372.9,714.9) rotate(-90)" font-size="9.2" fill="#000" textLength="80.2" lengthAdjust="spacingAndGlyphs">Diabetes proportion</text>
<circle cx="416.1" cy="566.5" r="1.5" fill="#000"/>
<circle cx="459.3" cy="566.5" r="3.0" fill="#000"/>
<circle cx="505.8" cy="566.5" r="3.6" fill="#000"/>
<circle cx="552.9" cy="566.5" r="4.5" fill="#000"/>
<circle cx="600.3" cy="566.5" r="5.1" fill="#000"/>
<text x="427.4" y="569.1" font-size="7.2" fill="#333" textLength="20.4" lengthAdjust="spacingAndGlyphs">50000</text>
<text x="470.6" y="569.1" font-size="7.2" fill="#333" textLength="24.2" lengthAdjust="spacingAndGlyphs">100000</text>
<text x="518" y="569.1" font-size="7.2" fill="#333" textLength="23.9" lengthAdjust="spacingAndGlyphs">150000</text>
<text x="564.4" y="569.1" font-size="7.2" fill="#333" textLength="24.2" lengthAdjust="spacingAndGlyphs">200000</text>
<text x="611.6" y="569.1" font-size="7.2" fill="#333" textLength="24.4" lengthAdjust="spacingAndGlyphs">250000</text>
<line x1="400.4" y1="593.9" x2="412" y2="593.9" stroke="#e41a1c" stroke-width="1.2"/>
<line x1="400.4" y1="606" x2="412" y2="606" stroke="#3a87c8" stroke-width="1.2" stroke-dasharray="4,2.5"/>
<text x="413.9" y="597.1" font-size="10.0" textLength="131.0" lengthAdjust="spacingAndGlyphs">weighted, adj R2=0.18, p=0.02</text>
<text x="414.4" y="610" font-size="10.0" textLength="98.6" lengthAdjust="spacingAndGlyphs">Pearson’s r=0.5, p=0.02</text>
</svg>
</body></html>
